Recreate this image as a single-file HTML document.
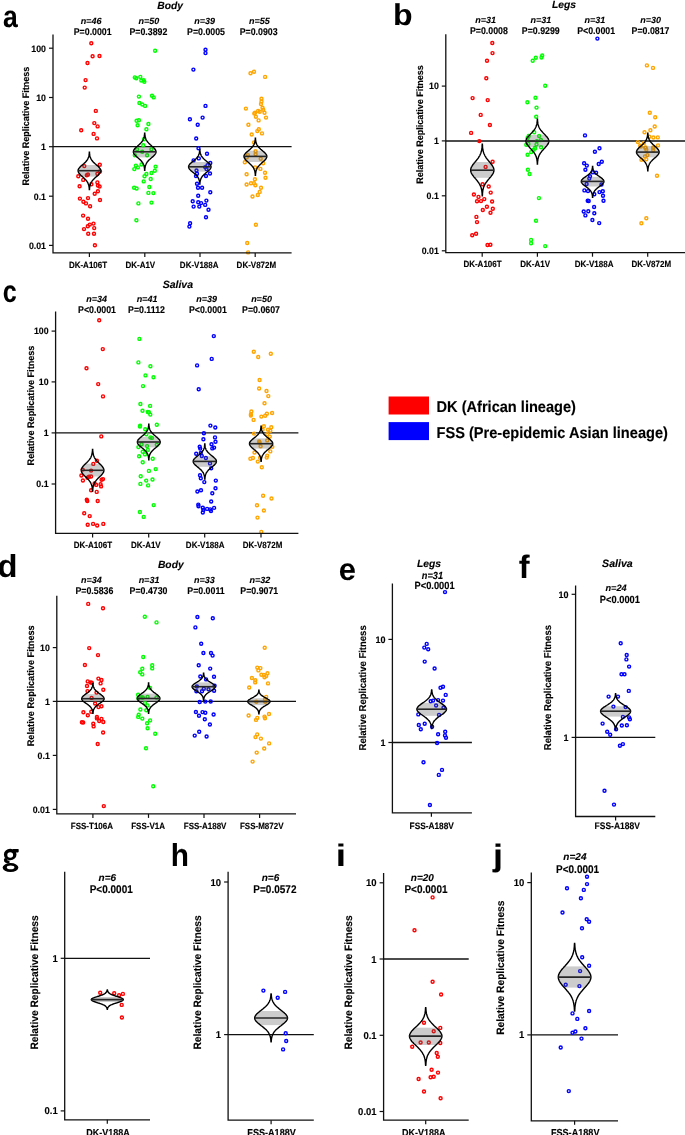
<!DOCTYPE html><html><head><meta charset="utf-8"><style>html,body{margin:0;padding:0;background:#fff;overflow:hidden}svg{display:block;will-change:transform}text{font-family:"Liberation Sans", sans-serif;stroke:#000;stroke-width:0.12px;text-rendering:geometricPrecision}</style></head><body>
<svg width="685" height="1135" viewBox="0 0 685 1135">
<rect width="685" height="1135" fill="#fff"/>
<line x1="53" y1="146.7" x2="291.6" y2="146.7" stroke="#111" stroke-width="1.3"/>
<line x1="445.8" y1="141.0" x2="686" y2="141.0" stroke="#111" stroke-width="1.3"/>
<line x1="55.6" y1="432.9" x2="298.4" y2="432.9" stroke="#111" stroke-width="1.3"/>
<line x1="56.8" y1="701.4" x2="296" y2="701.4" stroke="#111" stroke-width="1.3"/>
<line x1="392.4" y1="742.5" x2="471.9" y2="742.5" stroke="#111" stroke-width="1.3"/>
<line x1="575.6" y1="737.4" x2="655.3" y2="737.4" stroke="#111" stroke-width="1.3"/>
<line x1="64.7" y1="958.3" x2="150" y2="958.3" stroke="#111" stroke-width="1.3"/>
<line x1="228.1" y1="1034.6" x2="313.8" y2="1034.6" stroke="#111" stroke-width="1.3"/>
<line x1="383.6" y1="959" x2="468.7" y2="959" stroke="#111" stroke-width="1.3"/>
<line x1="531.3" y1="1034.9" x2="618" y2="1034.9" stroke="#111" stroke-width="1.3"/>
<g fill="none" stroke="#ff0000" stroke-width="1.4"><circle cx="91.3" cy="43.2" r="1.5"/><circle cx="92.6" cy="56.2" r="1.5"/><circle cx="99.5" cy="56" r="1.5"/><circle cx="87.5" cy="63" r="1.5"/><circle cx="85.6" cy="80.1" r="1.5"/><circle cx="84.7" cy="87.6" r="1.5"/><circle cx="95.8" cy="110.9" r="1.5"/><circle cx="94.3" cy="123.1" r="1.5"/><circle cx="97.6" cy="126.4" r="1.5"/><circle cx="81.2" cy="130.2" r="1.5"/><circle cx="93.6" cy="133.9" r="1.5"/><circle cx="97" cy="138.4" r="1.5"/><circle cx="84.3" cy="166.1" r="1.5"/><circle cx="99.8" cy="164.8" r="1.5"/><circle cx="100" cy="171.5" r="1.5"/><circle cx="78.3" cy="176.3" r="1.5"/><circle cx="86.8" cy="175.3" r="1.5"/><circle cx="88" cy="174.5" r="1.5"/><circle cx="97.4" cy="173.7" r="1.5"/><circle cx="83.2" cy="179.9" r="1.5"/><circle cx="79.6" cy="186.2" r="1.5"/><circle cx="91.4" cy="184.2" r="1.5"/><circle cx="97.4" cy="182.4" r="1.5"/><circle cx="97.9" cy="185.5" r="1.5"/><circle cx="99.6" cy="186.5" r="1.5"/><circle cx="97.9" cy="191.3" r="1.5"/><circle cx="94.7" cy="193.7" r="1.5"/><circle cx="79.9" cy="198.6" r="1.5"/><circle cx="88" cy="198.1" r="1.5"/><circle cx="100" cy="200" r="1.5"/><circle cx="83.4" cy="201.8" r="1.5"/><circle cx="86" cy="203.4" r="1.5"/><circle cx="90.1" cy="206.2" r="1.5"/><circle cx="83.1" cy="215.6" r="1.5"/><circle cx="88" cy="218.7" r="1.5"/><circle cx="93.5" cy="223.6" r="1.5"/><circle cx="89.8" cy="224.6" r="1.5"/><circle cx="87.8" cy="226.2" r="1.5"/><circle cx="84" cy="229.1" r="1.5"/><circle cx="94.2" cy="228.1" r="1.5"/><circle cx="88.2" cy="233.8" r="1.5"/><circle cx="94" cy="233.8" r="1.5"/><circle cx="94.9" cy="245.3" r="1.5"/></g>
<g fill="none" stroke="#00ff00" stroke-width="1.4"><circle cx="155.1" cy="50.7" r="1.5"/><circle cx="134.8" cy="77.4" r="1.5"/><circle cx="136.2" cy="78.2" r="1.5"/><circle cx="140.3" cy="76.9" r="1.5"/><circle cx="141.3" cy="80.5" r="1.5"/><circle cx="143.7" cy="80.2" r="1.5"/><circle cx="144.3" cy="81.8" r="1.5"/><circle cx="138.9" cy="96.6" r="1.5"/><circle cx="152" cy="95.8" r="1.5"/><circle cx="153.7" cy="97.4" r="1.5"/><circle cx="139.4" cy="103" r="1.5"/><circle cx="142.3" cy="104.5" r="1.5"/><circle cx="145.1" cy="105.9" r="1.5"/><circle cx="136.6" cy="120.7" r="1.5"/><circle cx="138.9" cy="120.2" r="1.5"/><circle cx="137.6" cy="125.3" r="1.5"/><circle cx="148.4" cy="124" r="1.5"/><circle cx="146.4" cy="129.3" r="1.5"/><circle cx="144" cy="139.3" r="1.5"/><circle cx="143.3" cy="145.2" r="1.5"/><circle cx="137.1" cy="149.2" r="1.5"/><circle cx="151.4" cy="149.2" r="1.5"/><circle cx="142.2" cy="151.8" r="1.5"/><circle cx="134.8" cy="155.3" r="1.5"/><circle cx="147.1" cy="155.3" r="1.5"/><circle cx="141.5" cy="164.5" r="1.5"/><circle cx="135.9" cy="165.6" r="1.5"/><circle cx="137.9" cy="167.4" r="1.5"/><circle cx="134.3" cy="169.1" r="1.5"/><circle cx="155.6" cy="166.6" r="1.5"/><circle cx="154.8" cy="170.7" r="1.5"/><circle cx="151.5" cy="173" r="1.5"/><circle cx="146.4" cy="174" r="1.5"/><circle cx="144.5" cy="176.3" r="1.5"/><circle cx="150.7" cy="179" r="1.5"/><circle cx="143.7" cy="181.4" r="1.5"/><circle cx="134.1" cy="187.8" r="1.5"/><circle cx="136.6" cy="188.5" r="1.5"/><circle cx="149.3" cy="187" r="1.5"/><circle cx="148.4" cy="192.9" r="1.5"/><circle cx="153.4" cy="193.1" r="1.5"/><circle cx="138.4" cy="203.4" r="1.5"/><circle cx="151.5" cy="202.6" r="1.5"/><circle cx="136.4" cy="220.2" r="1.5"/></g>
<g fill="none" stroke="#0000ff" stroke-width="1.4"><circle cx="205.5" cy="49.8" r="1.5"/><circle cx="205.5" cy="53.1" r="1.5"/><circle cx="193.4" cy="69.6" r="1.5"/><circle cx="205.5" cy="105.9" r="1.5"/><circle cx="189.9" cy="119.3" r="1.5"/><circle cx="202.6" cy="117.6" r="1.5"/><circle cx="197.7" cy="124.8" r="1.5"/><circle cx="196.2" cy="138.5" r="1.5"/><circle cx="198.5" cy="148.3" r="1.5"/><circle cx="207" cy="153.8" r="1.5"/><circle cx="198.8" cy="158.4" r="1.5"/><circle cx="193.6" cy="160.4" r="1.5"/><circle cx="210.3" cy="163" r="1.5"/><circle cx="207.5" cy="165.3" r="1.5"/><circle cx="205.2" cy="167.1" r="1.5"/><circle cx="206.5" cy="169.1" r="1.5"/><circle cx="196.5" cy="170.5" r="1.5"/><circle cx="197" cy="173.7" r="1.5"/><circle cx="210" cy="173.5" r="1.5"/><circle cx="196" cy="176.1" r="1.5"/><circle cx="206" cy="176" r="1.5"/><circle cx="197" cy="183.7" r="1.5"/><circle cx="198" cy="187.8" r="1.5"/><circle cx="202.1" cy="187.8" r="1.5"/><circle cx="210.3" cy="192.3" r="1.5"/><circle cx="198.2" cy="195.7" r="1.5"/><circle cx="192.7" cy="201.3" r="1.5"/><circle cx="198.2" cy="202.3" r="1.5"/><circle cx="201.1" cy="203.1" r="1.5"/><circle cx="206.4" cy="200.6" r="1.5"/><circle cx="193.6" cy="206.6" r="1.5"/><circle cx="199.3" cy="206.6" r="1.5"/><circle cx="205.2" cy="204.9" r="1.5"/><circle cx="208.5" cy="209.8" r="1.5"/><circle cx="206" cy="217.2" r="1.5"/><circle cx="190.1" cy="223.3" r="1.5"/><circle cx="189.4" cy="226.6" r="1.5"/></g>
<g fill="none" stroke="#ffa500" stroke-width="1.4"><circle cx="250.5" cy="73.3" r="1.5"/><circle cx="254" cy="71.8" r="1.5"/><circle cx="265.1" cy="76.9" r="1.5"/><circle cx="261.5" cy="98.7" r="1.5"/><circle cx="261.5" cy="101.5" r="1.5"/><circle cx="261" cy="104" r="1.5"/><circle cx="245.9" cy="108.6" r="1.5"/><circle cx="262.5" cy="107.8" r="1.5"/><circle cx="263.2" cy="109.8" r="1.5"/><circle cx="258.1" cy="110.9" r="1.5"/><circle cx="259.7" cy="111.7" r="1.5"/><circle cx="255.1" cy="112.7" r="1.5"/><circle cx="254.3" cy="113.5" r="1.5"/><circle cx="264.5" cy="112.7" r="1.5"/><circle cx="266" cy="117.6" r="1.5"/><circle cx="255.9" cy="116.8" r="1.5"/><circle cx="258.6" cy="120.4" r="1.5"/><circle cx="248.4" cy="124.8" r="1.5"/><circle cx="258.8" cy="129.3" r="1.5"/><circle cx="257.3" cy="131.1" r="1.5"/><circle cx="251.7" cy="134.5" r="1.5"/><circle cx="262" cy="133.4" r="1.5"/><circle cx="254" cy="142.5" r="1.5"/><circle cx="255.6" cy="151.2" r="1.5"/><circle cx="255.6" cy="154.3" r="1.5"/><circle cx="247.9" cy="155.1" r="1.5"/><circle cx="246.7" cy="157.4" r="1.5"/><circle cx="260.7" cy="158.7" r="1.5"/><circle cx="244.8" cy="162.3" r="1.5"/><circle cx="263.2" cy="163.3" r="1.5"/><circle cx="255.1" cy="167.4" r="1.5"/><circle cx="260.4" cy="168.9" r="1.5"/><circle cx="246.6" cy="174.2" r="1.5"/><circle cx="265" cy="172.7" r="1.5"/><circle cx="265.5" cy="177.8" r="1.5"/><circle cx="254.9" cy="179.3" r="1.5"/><circle cx="251" cy="183.2" r="1.5"/><circle cx="254" cy="183.2" r="1.5"/><circle cx="255.4" cy="185.3" r="1.5"/><circle cx="246.6" cy="184.5" r="1.5"/><circle cx="261" cy="187.8" r="1.5"/><circle cx="259.7" cy="191.9" r="1.5"/><circle cx="257.8" cy="195" r="1.5"/><circle cx="252.5" cy="196.5" r="1.5"/><circle cx="255.9" cy="224.8" r="1.5"/><circle cx="247.2" cy="243" r="1.5"/><circle cx="248.1" cy="252.4" r="1.5"/></g>
<g fill="none" stroke="#ff0000" stroke-width="1.4"><circle cx="492.3" cy="43" r="1.5"/><circle cx="492.5" cy="53.1" r="1.5"/><circle cx="487" cy="60.8" r="1.5"/><circle cx="486.3" cy="78.2" r="1.5"/><circle cx="472.6" cy="98.1" r="1.5"/><circle cx="487.7" cy="100.1" r="1.5"/><circle cx="480.7" cy="114.9" r="1.5"/><circle cx="489.9" cy="125" r="1.5"/><circle cx="471.1" cy="132.9" r="1.5"/><circle cx="479.3" cy="141.1" r="1.5"/><circle cx="492.6" cy="161.7" r="1.5"/><circle cx="485.6" cy="166.9" r="1.5"/><circle cx="482.6" cy="184.3" r="1.5"/><circle cx="488.7" cy="186.5" r="1.5"/><circle cx="473.9" cy="194.5" r="1.5"/><circle cx="490.7" cy="192.6" r="1.5"/><circle cx="478.5" cy="196.9" r="1.5"/><circle cx="477" cy="201.3" r="1.5"/><circle cx="481" cy="201.1" r="1.5"/><circle cx="484.3" cy="199.1" r="1.5"/><circle cx="492.1" cy="201.5" r="1.5"/><circle cx="486.9" cy="206.7" r="1.5"/><circle cx="482.8" cy="210" r="1.5"/><circle cx="492.8" cy="208.7" r="1.5"/><circle cx="490.5" cy="212.8" r="1.5"/><circle cx="476.4" cy="216.9" r="1.5"/><circle cx="477" cy="222.1" r="1.5"/><circle cx="472.2" cy="235.3" r="1.5"/><circle cx="476.1" cy="233.8" r="1.5"/><circle cx="487.5" cy="245" r="1.5"/><circle cx="490.4" cy="244.8" r="1.5"/></g>
<g fill="none" stroke="#00ff00" stroke-width="1.4"><circle cx="542.2" cy="55.5" r="1.5"/><circle cx="541.5" cy="57.5" r="1.5"/><circle cx="535.8" cy="57.8" r="1.5"/><circle cx="532.7" cy="60.8" r="1.5"/><circle cx="545.2" cy="85.8" r="1.5"/><circle cx="535.5" cy="97.7" r="1.5"/><circle cx="527.4" cy="102.3" r="1.5"/><circle cx="536.5" cy="107.6" r="1.5"/><circle cx="536.2" cy="116.8" r="1.5"/><circle cx="534.2" cy="132.3" r="1.5"/><circle cx="528.7" cy="136" r="1.5"/><circle cx="527.6" cy="138" r="1.5"/><circle cx="539.1" cy="136" r="1.5"/><circle cx="540.9" cy="140" r="1.5"/><circle cx="536.8" cy="141.1" r="1.5"/><circle cx="528.4" cy="143.9" r="1.5"/><circle cx="526.3" cy="144.7" r="1.5"/><circle cx="536.5" cy="144.4" r="1.5"/><circle cx="541.1" cy="147.2" r="1.5"/><circle cx="535" cy="147.9" r="1.5"/><circle cx="535" cy="148.4" r="1.5"/><circle cx="533.5" cy="149.7" r="1.5"/><circle cx="531.2" cy="152.1" r="1.5"/><circle cx="527.6" cy="154.8" r="1.5"/><circle cx="527.9" cy="169.8" r="1.5"/><circle cx="529.6" cy="174" r="1.5"/><circle cx="538.9" cy="198.1" r="1.5"/><circle cx="536" cy="220.7" r="1.5"/><circle cx="531.1" cy="239.9" r="1.5"/><circle cx="531.1" cy="243.2" r="1.5"/><circle cx="545.2" cy="246.1" r="1.5"/></g>
<g fill="none" stroke="#0000ff" stroke-width="1.4"><circle cx="597.4" cy="38.6" r="1.5"/><circle cx="585" cy="135.4" r="1.5"/><circle cx="599.5" cy="148.3" r="1.5"/><circle cx="594.9" cy="151.8" r="1.5"/><circle cx="584.1" cy="163.3" r="1.5"/><circle cx="586.8" cy="165.6" r="1.5"/><circle cx="601.8" cy="161.7" r="1.5"/><circle cx="598.7" cy="164" r="1.5"/><circle cx="585.4" cy="169.8" r="1.5"/><circle cx="592.9" cy="172.2" r="1.5"/><circle cx="596.1" cy="172.7" r="1.5"/><circle cx="590" cy="176.3" r="1.5"/><circle cx="589.3" cy="178.6" r="1.5"/><circle cx="586.6" cy="184" r="1.5"/><circle cx="601.5" cy="184.5" r="1.5"/><circle cx="584.4" cy="190.4" r="1.5"/><circle cx="588" cy="191.1" r="1.5"/><circle cx="594.3" cy="194.2" r="1.5"/><circle cx="599.5" cy="192.1" r="1.5"/><circle cx="602.8" cy="191.3" r="1.5"/><circle cx="603" cy="195.7" r="1.5"/><circle cx="587.7" cy="200.8" r="1.5"/><circle cx="588.7" cy="201" r="1.5"/><circle cx="603.5" cy="200.8" r="1.5"/><circle cx="594.1" cy="207" r="1.5"/><circle cx="583.7" cy="211.5" r="1.5"/><circle cx="588.3" cy="211.2" r="1.5"/><circle cx="594.3" cy="213.3" r="1.5"/><circle cx="585.4" cy="215.4" r="1.5"/><circle cx="592.4" cy="220" r="1.5"/><circle cx="599.2" cy="223.1" r="1.5"/></g>
<g fill="none" stroke="#ffa500" stroke-width="1.4"><circle cx="646.9" cy="65.4" r="1.5"/><circle cx="653" cy="67.9" r="1.5"/><circle cx="649.8" cy="112.7" r="1.5"/><circle cx="655.2" cy="117.3" r="1.5"/><circle cx="654.7" cy="126.5" r="1.5"/><circle cx="650.4" cy="130.3" r="1.5"/><circle cx="644.5" cy="132.3" r="1.5"/><circle cx="649.3" cy="136.7" r="1.5"/><circle cx="653.4" cy="137.5" r="1.5"/><circle cx="657.8" cy="137.4" r="1.5"/><circle cx="637.9" cy="142.1" r="1.5"/><circle cx="644" cy="142.9" r="1.5"/><circle cx="658" cy="145.4" r="1.5"/><circle cx="640.2" cy="145.6" r="1.5"/><circle cx="645.5" cy="147.5" r="1.5"/><circle cx="653.2" cy="147.5" r="1.5"/><circle cx="640.9" cy="146.6" r="1.5"/><circle cx="645.3" cy="147.7" r="1.5"/><circle cx="646.3" cy="149.7" r="1.5"/><circle cx="653.2" cy="148.2" r="1.5"/><circle cx="653.2" cy="150.2" r="1.5"/><circle cx="647.4" cy="155.1" r="1.5"/><circle cx="645" cy="156.4" r="1.5"/><circle cx="646.3" cy="159.2" r="1.5"/><circle cx="641.4" cy="159.7" r="1.5"/><circle cx="657" cy="175.8" r="1.5"/><circle cx="646.3" cy="218.2" r="1.5"/><circle cx="641.4" cy="223.3" r="1.5"/></g>
<g fill="none" stroke="#ff0000" stroke-width="1.4"><circle cx="99.2" cy="320.2" r="1.5"/><circle cx="102.8" cy="349.1" r="1.5"/><circle cx="86.5" cy="368.3" r="1.5"/><circle cx="98.2" cy="384.1" r="1.5"/><circle cx="103" cy="396.4" r="1.5"/><circle cx="101.3" cy="436.4" r="1.5"/><circle cx="96.9" cy="460.7" r="1.5"/><circle cx="93.3" cy="463.9" r="1.5"/><circle cx="82.7" cy="469.6" r="1.5"/><circle cx="91.1" cy="470.6" r="1.5"/><circle cx="81.4" cy="475.5" r="1.5"/><circle cx="87.5" cy="477.7" r="1.5"/><circle cx="89" cy="476.7" r="1.5"/><circle cx="91.1" cy="476.5" r="1.5"/><circle cx="82.9" cy="480.5" r="1.5"/><circle cx="101.6" cy="479.8" r="1.5"/><circle cx="103" cy="479.1" r="1.5"/><circle cx="94.6" cy="483.4" r="1.5"/><circle cx="96.2" cy="484.9" r="1.5"/><circle cx="100.6" cy="484.2" r="1.5"/><circle cx="101.1" cy="486.4" r="1.5"/><circle cx="91.1" cy="490.2" r="1.5"/><circle cx="96.7" cy="491.9" r="1.5"/><circle cx="86.8" cy="499.7" r="1.5"/><circle cx="87.3" cy="501" r="1.5"/><circle cx="97.7" cy="501" r="1.5"/><circle cx="84.2" cy="513.2" r="1.5"/><circle cx="89.7" cy="516.1" r="1.5"/><circle cx="87.7" cy="524.8" r="1.5"/><circle cx="93.1" cy="523.9" r="1.5"/><circle cx="97.2" cy="525.5" r="1.5"/><circle cx="103.3" cy="523.9" r="1.5"/></g>
<g fill="none" stroke="#00ff00" stroke-width="1.4"><circle cx="139.4" cy="338.9" r="1.5"/><circle cx="138.4" cy="362.4" r="1.5"/><circle cx="150.4" cy="366.2" r="1.5"/><circle cx="145.5" cy="375.4" r="1.5"/><circle cx="153.5" cy="377.3" r="1.5"/><circle cx="143" cy="386.1" r="1.5"/><circle cx="140.4" cy="404" r="1.5"/><circle cx="150.1" cy="405.9" r="1.5"/><circle cx="142.5" cy="410.7" r="1.5"/><circle cx="147.8" cy="412" r="1.5"/><circle cx="148.9" cy="412.2" r="1.5"/><circle cx="150.3" cy="414.6" r="1.5"/><circle cx="140.1" cy="425.8" r="1.5"/><circle cx="156.8" cy="424.7" r="1.5"/><circle cx="139.9" cy="426.6" r="1.5"/><circle cx="145.2" cy="429.2" r="1.5"/><circle cx="146.3" cy="434.3" r="1.5"/><circle cx="150.4" cy="437.4" r="1.5"/><circle cx="151.9" cy="437.9" r="1.5"/><circle cx="141.6" cy="444.2" r="1.5"/><circle cx="147.1" cy="446.1" r="1.5"/><circle cx="138.4" cy="447.1" r="1.5"/><circle cx="156.8" cy="444.7" r="1.5"/><circle cx="147.8" cy="449.9" r="1.5"/><circle cx="142.7" cy="451.7" r="1.5"/><circle cx="145" cy="454.4" r="1.5"/><circle cx="139.1" cy="456.3" r="1.5"/><circle cx="152.7" cy="458.8" r="1.5"/><circle cx="142.7" cy="462.2" r="1.5"/><circle cx="148.9" cy="470.9" r="1.5"/><circle cx="155.7" cy="469.1" r="1.5"/><circle cx="140.7" cy="476.2" r="1.5"/><circle cx="146.2" cy="480.6" r="1.5"/><circle cx="152.5" cy="479.5" r="1.5"/><circle cx="140.4" cy="483.9" r="1.5"/><circle cx="148.1" cy="485.4" r="1.5"/><circle cx="153.7" cy="505.1" r="1.5"/><circle cx="139.9" cy="512" r="1.5"/><circle cx="143.7" cy="516.9" r="1.5"/></g>
<g fill="none" stroke="#0000ff" stroke-width="1.4"><circle cx="213.8" cy="336.1" r="1.5"/><circle cx="211.7" cy="358.9" r="1.5"/><circle cx="197.1" cy="365.4" r="1.5"/><circle cx="198.7" cy="389.2" r="1.5"/><circle cx="210.4" cy="425.6" r="1.5"/><circle cx="215.3" cy="427.5" r="1.5"/><circle cx="203.9" cy="433.3" r="1.5"/><circle cx="203.4" cy="439.2" r="1.5"/><circle cx="215" cy="437.4" r="1.5"/><circle cx="215.5" cy="441.7" r="1.5"/><circle cx="211.5" cy="444.2" r="1.5"/><circle cx="199.7" cy="446.8" r="1.5"/><circle cx="200.2" cy="448.6" r="1.5"/><circle cx="212.3" cy="448.4" r="1.5"/><circle cx="214.1" cy="447.6" r="1.5"/><circle cx="196.2" cy="453.7" r="1.5"/><circle cx="200.8" cy="453" r="1.5"/><circle cx="201.8" cy="456" r="1.5"/><circle cx="205.9" cy="458" r="1.5"/><circle cx="210" cy="463.4" r="1.5"/><circle cx="211.2" cy="468.3" r="1.5"/><circle cx="200" cy="475.2" r="1.5"/><circle cx="200.8" cy="478.3" r="1.5"/><circle cx="204.3" cy="482.1" r="1.5"/><circle cx="215.8" cy="480.6" r="1.5"/><circle cx="197.4" cy="491.5" r="1.5"/><circle cx="201" cy="490.3" r="1.5"/><circle cx="215.5" cy="488.3" r="1.5"/><circle cx="212.3" cy="493.3" r="1.5"/><circle cx="211.2" cy="501.5" r="1.5"/><circle cx="198.3" cy="504.6" r="1.5"/><circle cx="198.5" cy="506.2" r="1.5"/><circle cx="202.8" cy="507.7" r="1.5"/><circle cx="203.4" cy="510" r="1.5"/><circle cx="202.8" cy="512.5" r="1.5"/><circle cx="207.1" cy="508.9" r="1.5"/><circle cx="210.2" cy="509.4" r="1.5"/><circle cx="211" cy="511" r="1.5"/><circle cx="214.1" cy="507.9" r="1.5"/></g>
<g fill="none" stroke="#ffa500" stroke-width="1.4"><circle cx="253.8" cy="351.7" r="1.5"/><circle cx="258.2" cy="357" r="1.5"/><circle cx="270.8" cy="353.7" r="1.5"/><circle cx="259.6" cy="380" r="1.5"/><circle cx="259.1" cy="388.5" r="1.5"/><circle cx="266.5" cy="391" r="1.5"/><circle cx="268.3" cy="396.1" r="1.5"/><circle cx="264.5" cy="403.2" r="1.5"/><circle cx="251.4" cy="411.5" r="1.5"/><circle cx="250.9" cy="414.3" r="1.5"/><circle cx="250.9" cy="415.5" r="1.5"/><circle cx="253.6" cy="419.9" r="1.5"/><circle cx="261.4" cy="416.6" r="1.5"/><circle cx="265.2" cy="415.8" r="1.5"/><circle cx="266.9" cy="413.7" r="1.5"/><circle cx="272.1" cy="413" r="1.5"/><circle cx="263.9" cy="426.3" r="1.5"/><circle cx="271.3" cy="427.2" r="1.5"/><circle cx="268" cy="429.7" r="1.5"/><circle cx="270.3" cy="430.7" r="1.5"/><circle cx="262.6" cy="429.7" r="1.5"/><circle cx="254" cy="433.6" r="1.5"/><circle cx="267.2" cy="434.3" r="1.5"/><circle cx="269.8" cy="436.6" r="1.5"/><circle cx="259.1" cy="441.5" r="1.5"/><circle cx="259.6" cy="442.5" r="1.5"/><circle cx="267.2" cy="440.4" r="1.5"/><circle cx="260.6" cy="446.3" r="1.5"/><circle cx="272.3" cy="446.8" r="1.5"/><circle cx="254.5" cy="452.5" r="1.5"/><circle cx="270.3" cy="451.4" r="1.5"/><circle cx="267.2" cy="455.6" r="1.5"/><circle cx="266.7" cy="457.6" r="1.5"/><circle cx="252.9" cy="458" r="1.5"/><circle cx="250.4" cy="458.8" r="1.5"/><circle cx="260.1" cy="457.8" r="1.5"/><circle cx="257.8" cy="461.6" r="1.5"/><circle cx="261.8" cy="467.3" r="1.5"/><circle cx="263.1" cy="495.8" r="1.5"/><circle cx="271.5" cy="498.5" r="1.5"/><circle cx="257" cy="505.3" r="1.5"/><circle cx="263.9" cy="510.5" r="1.5"/><circle cx="257.5" cy="517.6" r="1.5"/><circle cx="261.3" cy="531.9" r="1.5"/></g>
<g fill="none" stroke="#ff0000" stroke-width="1.4"><circle cx="88.2" cy="603.9" r="1.5"/><circle cx="103" cy="608.3" r="1.5"/><circle cx="89.2" cy="648.1" r="1.5"/><circle cx="98" cy="655.1" r="1.5"/><circle cx="84.9" cy="665" r="1.5"/><circle cx="98.4" cy="678.6" r="1.5"/><circle cx="101.5" cy="680" r="1.5"/><circle cx="87.7" cy="681.4" r="1.5"/><circle cx="90.5" cy="682.4" r="1.5"/><circle cx="91.8" cy="682.7" r="1.5"/><circle cx="100.6" cy="683.4" r="1.5"/><circle cx="87" cy="686" r="1.5"/><circle cx="87.5" cy="691.1" r="1.5"/><circle cx="103.3" cy="689.7" r="1.5"/><circle cx="96.5" cy="692.6" r="1.5"/><circle cx="91.6" cy="697.9" r="1.5"/><circle cx="95.1" cy="703.5" r="1.5"/><circle cx="98.5" cy="707.1" r="1.5"/><circle cx="101.5" cy="706.2" r="1.5"/><circle cx="83.4" cy="712.3" r="1.5"/><circle cx="91.3" cy="711.8" r="1.5"/><circle cx="87.8" cy="715.3" r="1.5"/><circle cx="96.9" cy="716.9" r="1.5"/><circle cx="96.9" cy="718.4" r="1.5"/><circle cx="101.5" cy="718.9" r="1.5"/><circle cx="99.2" cy="721" r="1.5"/><circle cx="103.3" cy="722" r="1.5"/><circle cx="81.9" cy="722.3" r="1.5"/><circle cx="83.2" cy="722.5" r="1.5"/><circle cx="93.3" cy="723.7" r="1.5"/><circle cx="93.6" cy="726.4" r="1.5"/><circle cx="103.1" cy="732.5" r="1.5"/><circle cx="97.7" cy="744" r="1.5"/><circle cx="103.8" cy="806.1" r="1.5"/></g>
<g fill="none" stroke="#00ff00" stroke-width="1.4"><circle cx="144.8" cy="616.8" r="1.5"/><circle cx="156.5" cy="622.4" r="1.5"/><circle cx="143.2" cy="657" r="1.5"/><circle cx="152.2" cy="665.3" r="1.5"/><circle cx="152.2" cy="668.4" r="1.5"/><circle cx="142.3" cy="668.8" r="1.5"/><circle cx="140.2" cy="672.2" r="1.5"/><circle cx="142.3" cy="674.4" r="1.5"/><circle cx="150.1" cy="688" r="1.5"/><circle cx="138.1" cy="694.7" r="1.5"/><circle cx="138.4" cy="698.2" r="1.5"/><circle cx="141.4" cy="697.2" r="1.5"/><circle cx="142.8" cy="697.5" r="1.5"/><circle cx="147.6" cy="696.9" r="1.5"/><circle cx="156.5" cy="697.5" r="1.5"/><circle cx="145" cy="703" r="1.5"/><circle cx="147.6" cy="705.4" r="1.5"/><circle cx="140.4" cy="709.5" r="1.5"/><circle cx="146.3" cy="710.3" r="1.5"/><circle cx="138.7" cy="714.8" r="1.5"/><circle cx="138.2" cy="716.9" r="1.5"/><circle cx="142.3" cy="718.6" r="1.5"/><circle cx="150.1" cy="720.4" r="1.5"/><circle cx="147.1" cy="723.3" r="1.5"/><circle cx="147.6" cy="728.3" r="1.5"/><circle cx="155.2" cy="733.7" r="1.5"/><circle cx="146" cy="748.2" r="1.5"/><circle cx="153.2" cy="786.2" r="1.5"/></g>
<g fill="none" stroke="#0000ff" stroke-width="1.4"><circle cx="197.4" cy="617" r="1.5"/><circle cx="212.8" cy="618.3" r="1.5"/><circle cx="195.4" cy="627.4" r="1.5"/><circle cx="201.2" cy="643.8" r="1.5"/><circle cx="203.4" cy="653" r="1.5"/><circle cx="211" cy="653" r="1.5"/><circle cx="212.6" cy="655.6" r="1.5"/><circle cx="198.7" cy="665.2" r="1.5"/><circle cx="210.2" cy="668.6" r="1.5"/><circle cx="200.3" cy="676.5" r="1.5"/><circle cx="214" cy="676.8" r="1.5"/><circle cx="206.1" cy="679.4" r="1.5"/><circle cx="196.9" cy="686.5" r="1.5"/><circle cx="214.6" cy="685.8" r="1.5"/><circle cx="203.8" cy="688.8" r="1.5"/><circle cx="208.5" cy="689.3" r="1.5"/><circle cx="196.4" cy="691.3" r="1.5"/><circle cx="202" cy="691.3" r="1.5"/><circle cx="214.1" cy="690.8" r="1.5"/><circle cx="199.7" cy="702" r="1.5"/><circle cx="205.3" cy="701.6" r="1.5"/><circle cx="210.7" cy="701.5" r="1.5"/><circle cx="195.9" cy="712" r="1.5"/><circle cx="202.5" cy="712.1" r="1.5"/><circle cx="205.3" cy="712.8" r="1.5"/><circle cx="199" cy="715.8" r="1.5"/><circle cx="213.6" cy="714.5" r="1.5"/><circle cx="204.8" cy="719.2" r="1.5"/><circle cx="209.9" cy="724.5" r="1.5"/><circle cx="199.2" cy="731.7" r="1.5"/><circle cx="194.7" cy="735.6" r="1.5"/><circle cx="206.6" cy="736.5" r="1.5"/></g>
<g fill="none" stroke="#ffa500" stroke-width="1.4"><circle cx="264.7" cy="647.8" r="1.5"/><circle cx="257.3" cy="667.6" r="1.5"/><circle cx="260.4" cy="668.1" r="1.5"/><circle cx="258.4" cy="670.4" r="1.5"/><circle cx="261.4" cy="674.7" r="1.5"/><circle cx="263.9" cy="674.9" r="1.5"/><circle cx="267.5" cy="673.2" r="1.5"/><circle cx="266.2" cy="676" r="1.5"/><circle cx="264.5" cy="677.3" r="1.5"/><circle cx="251.9" cy="678" r="1.5"/><circle cx="255.3" cy="680.3" r="1.5"/><circle cx="255.2" cy="682.4" r="1.5"/><circle cx="268" cy="683.4" r="1.5"/><circle cx="249.2" cy="687.5" r="1.5"/><circle cx="266.2" cy="696.9" r="1.5"/><circle cx="265" cy="699.3" r="1.5"/><circle cx="256.3" cy="701.8" r="1.5"/><circle cx="265.2" cy="701.8" r="1.5"/><circle cx="248.6" cy="715.5" r="1.5"/><circle cx="257.3" cy="717.9" r="1.5"/><circle cx="256" cy="719.9" r="1.5"/><circle cx="264.5" cy="716.6" r="1.5"/><circle cx="265" cy="718.2" r="1.5"/><circle cx="269" cy="714" r="1.5"/><circle cx="257.2" cy="734.4" r="1.5"/><circle cx="255.5" cy="737.1" r="1.5"/><circle cx="260.9" cy="738.6" r="1.5"/><circle cx="269.1" cy="743.4" r="1.5"/><circle cx="264.2" cy="748.5" r="1.5"/><circle cx="256.7" cy="752.6" r="1.5"/><circle cx="252.6" cy="761.6" r="1.5"/></g>
<g fill="none" stroke="#0000ff" stroke-width="1.4"><circle cx="445" cy="592.1" r="1.5"/><circle cx="426.7" cy="643.9" r="1.5"/><circle cx="424.3" cy="647.6" r="1.5"/><circle cx="428.2" cy="649.3" r="1.5"/><circle cx="424.7" cy="661.6" r="1.5"/><circle cx="434.6" cy="668.5" r="1.5"/><circle cx="440.5" cy="687.8" r="1.5"/><circle cx="443" cy="686.8" r="1.5"/><circle cx="445.7" cy="694.9" r="1.5"/><circle cx="430.7" cy="701.3" r="1.5"/><circle cx="433.1" cy="700.6" r="1.5"/><circle cx="438.1" cy="700.1" r="1.5"/><circle cx="443" cy="700.6" r="1.5"/><circle cx="436.1" cy="705.5" r="1.5"/><circle cx="443.5" cy="707.8" r="1.5"/><circle cx="418.3" cy="714.4" r="1.5"/><circle cx="439" cy="714.9" r="1.5"/><circle cx="418.8" cy="725" r="1.5"/><circle cx="424.7" cy="723.8" r="1.5"/><circle cx="420.8" cy="729.2" r="1.5"/><circle cx="432.1" cy="726.8" r="1.5"/><circle cx="445.2" cy="731.7" r="1.5"/><circle cx="438.1" cy="734.2" r="1.5"/><circle cx="445" cy="735.4" r="1.5"/><circle cx="446" cy="737.8" r="1.5"/><circle cx="437.1" cy="743" r="1.5"/><circle cx="423.5" cy="762.3" r="1.5"/><circle cx="442" cy="769.9" r="1.5"/><circle cx="438.8" cy="774.9" r="1.5"/><circle cx="429.9" cy="805" r="1.5"/></g>
<g fill="none" stroke="#0000ff" stroke-width="1.4"><circle cx="620.7" cy="643.2" r="1.5"/><circle cx="626.7" cy="655" r="1.5"/><circle cx="626.4" cy="659.4" r="1.5"/><circle cx="629.1" cy="666.6" r="1.5"/><circle cx="621.5" cy="674.2" r="1.5"/><circle cx="624.5" cy="674.2" r="1.5"/><circle cx="628.8" cy="690.9" r="1.5"/><circle cx="608.6" cy="696.6" r="1.5"/><circle cx="618" cy="696.6" r="1.5"/><circle cx="613.4" cy="706.6" r="1.5"/><circle cx="625.6" cy="707.1" r="1.5"/><circle cx="622.9" cy="716.9" r="1.5"/><circle cx="629.1" cy="717.4" r="1.5"/><circle cx="629.9" cy="719.3" r="1.5"/><circle cx="602.6" cy="723.6" r="1.5"/><circle cx="621.8" cy="725.5" r="1.5"/><circle cx="626.9" cy="725.2" r="1.5"/><circle cx="616.1" cy="729.3" r="1.5"/><circle cx="607.2" cy="731.7" r="1.5"/><circle cx="610.2" cy="734.7" r="1.5"/><circle cx="619.9" cy="745.7" r="1.5"/><circle cx="622.9" cy="744.1" r="1.5"/><circle cx="604.5" cy="790.8" r="1.5"/><circle cx="614" cy="804.6" r="1.5"/></g>
<g fill="none" stroke="#ff0000" stroke-width="1.4"><circle cx="100.2" cy="992.7" r="1.5"/><circle cx="114.2" cy="993.2" r="1.5"/><circle cx="119.1" cy="995.2" r="1.5"/><circle cx="122.9" cy="993.9" r="1.5"/><circle cx="121.7" cy="1004.9" r="1.5"/><circle cx="121.9" cy="1017.5" r="1.5"/></g>
<g fill="none" stroke="#0000ff" stroke-width="1.4"><circle cx="263.4" cy="990.6" r="1.5"/><circle cx="285.1" cy="991.9" r="1.5"/><circle cx="277.7" cy="997.8" r="1.5"/><circle cx="285.7" cy="1033.3" r="1.5"/><circle cx="286.2" cy="1041" r="1.5"/><circle cx="283.1" cy="1049.4" r="1.5"/></g>
<g fill="none" stroke="#ff0000" stroke-width="1.4"><circle cx="432.6" cy="897.4" r="1.5"/><circle cx="414.5" cy="930.3" r="1.5"/><circle cx="432.6" cy="981.7" r="1.5"/><circle cx="441.1" cy="994.5" r="1.5"/><circle cx="424" cy="1022.8" r="1.5"/><circle cx="440.3" cy="1027.9" r="1.5"/><circle cx="433.7" cy="1031.3" r="1.5"/><circle cx="420.6" cy="1042.5" r="1.5"/><circle cx="428.8" cy="1042.5" r="1.5"/><circle cx="440.3" cy="1043" r="1.5"/><circle cx="412.2" cy="1046.8" r="1.5"/><circle cx="436.7" cy="1053" r="1.5"/><circle cx="437.8" cy="1056.8" r="1.5"/><circle cx="431.6" cy="1069.8" r="1.5"/><circle cx="438" cy="1072.6" r="1.5"/><circle cx="418.6" cy="1079" r="1.5"/><circle cx="430.6" cy="1077.2" r="1.5"/><circle cx="433.7" cy="1076.7" r="1.5"/><circle cx="424" cy="1091.5" r="1.5"/><circle cx="440.6" cy="1098.2" r="1.5"/></g>
<g fill="none" stroke="#0000ff" stroke-width="1.4"><circle cx="587" cy="876.8" r="1.5"/><circle cx="587" cy="884.1" r="1.5"/><circle cx="567" cy="888.3" r="1.5"/><circle cx="583.8" cy="889.9" r="1.5"/><circle cx="580.9" cy="898.3" r="1.5"/><circle cx="562.5" cy="912.5" r="1.5"/><circle cx="586.7" cy="919.3" r="1.5"/><circle cx="589.1" cy="921.7" r="1.5"/><circle cx="582" cy="928.3" r="1.5"/><circle cx="582.2" cy="957.2" r="1.5"/><circle cx="589.1" cy="965.8" r="1.5"/><circle cx="580.1" cy="971.1" r="1.5"/><circle cx="565.7" cy="984.7" r="1.5"/><circle cx="579.4" cy="986.1" r="1.5"/><circle cx="572.5" cy="1013.4" r="1.5"/><circle cx="589.1" cy="1011" r="1.5"/><circle cx="577.3" cy="1018.9" r="1.5"/><circle cx="585.4" cy="1028.3" r="1.5"/><circle cx="572.5" cy="1032.8" r="1.5"/><circle cx="575.4" cy="1031.5" r="1.5"/><circle cx="581.5" cy="1038.6" r="1.5"/><circle cx="560.7" cy="1047.5" r="1.5"/><circle cx="568.8" cy="1091.1" r="1.5"/></g>
<clipPath id="vca1"><path d="M89.5,152.3 L89.5,152.8 L89.5,153.2 L89.6,153.7 L89.6,154.1 L89.7,154.6 L89.8,155.1 L89.8,155.5 L89.9,156.0 L90.0,156.4 L90.2,156.9 L90.3,157.4 L90.5,157.8 L90.7,158.3 L90.9,158.7 L91.1,159.2 L91.4,159.7 L91.7,160.1 L92.0,160.6 L92.4,161.0 L92.8,161.5 L93.2,162.0 L93.7,162.4 L94.1,162.9 L94.6,163.3 L95.1,163.8 L95.7,164.3 L96.2,164.7 L96.7,165.2 L97.3,165.6 L97.8,166.1 L98.3,166.6 L98.7,167.0 L99.2,167.5 L99.5,167.9 L99.9,168.4 L100.2,168.9 L100.4,169.3 L100.6,169.8 L100.7,170.2 L100.7,170.7 L100.7,171.2 L100.6,171.6 L100.4,172.1 L100.2,172.6 L99.9,173.1 L99.5,173.5 L99.2,174.0 L98.7,174.5 L98.3,175.0 L97.8,175.4 L97.3,175.9 L96.7,176.4 L96.2,176.8 L95.7,177.3 L95.1,177.8 L94.6,178.3 L94.1,178.7 L93.7,179.2 L93.2,179.7 L92.8,180.1 L92.4,180.6 L92.0,181.1 L91.7,181.6 L91.4,182.0 L91.1,182.5 L90.9,183.0 L90.7,183.5 L90.5,183.9 L90.3,184.4 L90.2,184.9 L90.0,185.3 L89.9,185.8 L89.8,186.3 L89.8,186.8 L89.7,187.2 L89.6,187.7 L89.6,188.2 L89.5,188.7 L89.5,189.1 L89.5,189.6 L89.3,189.6 L89.3,189.1 L89.3,188.7 L89.2,188.2 L89.2,187.7 L89.1,187.2 L89.0,186.8 L89.0,186.3 L88.9,185.8 L88.8,185.3 L88.6,184.9 L88.5,184.4 L88.3,183.9 L88.1,183.5 L87.9,183.0 L87.7,182.5 L87.4,182.0 L87.1,181.6 L86.8,181.1 L86.4,180.6 L86.0,180.1 L85.6,179.7 L85.1,179.2 L84.7,178.7 L84.2,178.3 L83.7,177.8 L83.1,177.3 L82.6,176.8 L82.1,176.4 L81.5,175.9 L81.0,175.4 L80.5,175.0 L80.1,174.5 L79.6,174.0 L79.3,173.5 L78.9,173.1 L78.6,172.6 L78.4,172.1 L78.2,171.6 L78.1,171.2 L78.1,170.7 L78.1,170.2 L78.2,169.8 L78.4,169.3 L78.6,168.9 L78.9,168.4 L79.3,167.9 L79.6,167.5 L80.1,167.0 L80.5,166.6 L81.0,166.1 L81.5,165.6 L82.1,165.2 L82.6,164.7 L83.1,164.3 L83.7,163.8 L84.2,163.3 L84.7,162.9 L85.1,162.4 L85.6,162.0 L86.0,161.5 L86.4,161.0 L86.8,160.6 L87.1,160.1 L87.4,159.7 L87.7,159.2 L87.9,158.7 L88.1,158.3 L88.3,157.8 L88.5,157.4 L88.6,156.9 L88.8,156.4 L88.9,156.0 L89.0,155.5 L89.0,155.1 L89.1,154.6 L89.2,154.1 L89.2,153.7 L89.3,153.2 L89.3,152.8 L89.3,152.3 Z"/></clipPath><rect x="77.10" y="165.00" width="24.60" height="11.60" fill="#555555" fill-opacity="0.3" clip-path="url(#vca1)"/>
<clipPath id="vca2"><path d="M144.8,133.1 L144.8,133.6 L144.8,134.0 L144.9,134.5 L144.9,135.0 L145.0,135.4 L145.1,135.9 L145.1,136.4 L145.2,136.8 L145.3,137.3 L145.5,137.8 L145.6,138.2 L145.8,138.7 L146.0,139.2 L146.2,139.6 L146.4,140.1 L146.7,140.6 L147.0,141.0 L147.3,141.5 L147.7,142.0 L148.1,142.4 L148.5,142.9 L149.0,143.4 L149.4,143.9 L149.9,144.3 L150.4,144.8 L151.0,145.3 L151.5,145.7 L152.0,146.2 L152.6,146.7 L153.1,147.1 L153.6,147.6 L154.0,148.1 L154.5,148.5 L154.8,149.0 L155.2,149.5 L155.5,149.9 L155.7,150.4 L155.9,150.9 L156.0,151.3 L156.0,151.8 L156.0,152.3 L155.9,152.7 L155.7,153.2 L155.5,153.6 L155.2,154.1 L154.8,154.6 L154.5,155.0 L154.0,155.5 L153.6,155.9 L153.1,156.4 L152.6,156.9 L152.0,157.3 L151.5,157.8 L151.0,158.2 L150.4,158.7 L149.9,159.2 L149.4,159.6 L149.0,160.1 L148.5,160.5 L148.1,161.0 L147.7,161.5 L147.3,161.9 L147.0,162.4 L146.7,162.8 L146.4,163.3 L146.2,163.8 L146.0,164.2 L145.8,164.7 L145.6,165.1 L145.5,165.6 L145.3,166.1 L145.2,166.5 L145.1,167.0 L145.1,167.4 L145.0,167.9 L144.9,168.4 L144.9,168.8 L144.8,169.3 L144.8,169.7 L144.8,170.2 L144.6,170.2 L144.6,169.7 L144.6,169.3 L144.5,168.8 L144.5,168.4 L144.4,167.9 L144.3,167.4 L144.3,167.0 L144.2,166.5 L144.1,166.1 L143.9,165.6 L143.8,165.1 L143.6,164.7 L143.4,164.2 L143.2,163.8 L143.0,163.3 L142.7,162.8 L142.4,162.4 L142.1,161.9 L141.7,161.5 L141.3,161.0 L140.9,160.5 L140.4,160.1 L140.0,159.6 L139.5,159.2 L139.0,158.7 L138.4,158.2 L137.9,157.8 L137.4,157.3 L136.8,156.9 L136.3,156.4 L135.8,155.9 L135.4,155.5 L134.9,155.0 L134.6,154.6 L134.2,154.1 L133.9,153.6 L133.7,153.2 L133.5,152.7 L133.4,152.3 L133.4,151.8 L133.4,151.3 L133.5,150.9 L133.7,150.4 L133.9,149.9 L134.2,149.5 L134.6,149.0 L134.9,148.5 L135.4,148.1 L135.8,147.6 L136.3,147.1 L136.8,146.7 L137.4,146.2 L137.9,145.7 L138.4,145.3 L139.0,144.8 L139.5,144.3 L140.0,143.9 L140.4,143.4 L140.9,142.9 L141.3,142.4 L141.7,142.0 L142.1,141.5 L142.4,141.0 L142.7,140.6 L143.0,140.1 L143.2,139.6 L143.4,139.2 L143.6,138.7 L143.8,138.2 L143.9,137.8 L144.1,137.3 L144.2,136.8 L144.3,136.4 L144.3,135.9 L144.4,135.4 L144.5,135.0 L144.5,134.5 L144.6,134.0 L144.6,133.6 L144.6,133.1 Z"/></clipPath><rect x="132.40" y="146.80" width="24.60" height="10.60" fill="#555555" fill-opacity="0.3" clip-path="url(#vca2)"/>
<clipPath id="vca3"><path d="M199.9,149.7 L199.9,150.1 L199.9,150.6 L200.0,151.0 L200.0,151.4 L200.1,151.8 L200.1,152.3 L200.2,152.7 L200.3,153.1 L200.4,153.5 L200.6,154.0 L200.7,154.4 L200.9,154.8 L201.1,155.3 L201.3,155.7 L201.5,156.1 L201.8,156.5 L202.1,157.0 L202.4,157.4 L202.8,157.8 L203.2,158.2 L203.6,158.7 L204.0,159.1 L204.5,159.5 L205.0,160.0 L205.5,160.4 L206.0,160.8 L206.5,161.2 L207.1,161.7 L207.6,162.1 L208.1,162.5 L208.6,163.0 L209.0,163.4 L209.5,163.8 L209.9,164.2 L210.2,164.7 L210.5,165.1 L210.7,165.5 L210.9,165.9 L211.0,166.4 L211.0,166.8 L211.0,167.2 L210.9,167.7 L210.7,168.1 L210.5,168.5 L210.2,169.0 L209.9,169.4 L209.5,169.8 L209.0,170.2 L208.6,170.7 L208.1,171.1 L207.6,171.5 L207.1,172.0 L206.5,172.4 L206.0,172.8 L205.5,173.2 L205.0,173.7 L204.5,174.1 L204.0,174.5 L203.6,175.0 L203.2,175.4 L202.8,175.8 L202.4,176.3 L202.1,176.7 L201.8,177.1 L201.5,177.6 L201.3,178.0 L201.1,178.4 L200.9,178.8 L200.7,179.3 L200.6,179.7 L200.4,180.1 L200.3,180.6 L200.2,181.0 L200.1,181.4 L200.1,181.8 L200.0,182.3 L200.0,182.7 L199.9,183.1 L199.9,183.6 L199.9,184.0 L199.7,184.0 L199.7,183.6 L199.7,183.1 L199.6,182.7 L199.6,182.3 L199.5,181.8 L199.5,181.4 L199.4,181.0 L199.3,180.6 L199.2,180.1 L199.0,179.7 L198.9,179.3 L198.7,178.8 L198.5,178.4 L198.3,178.0 L198.1,177.6 L197.8,177.1 L197.5,176.7 L197.2,176.3 L196.8,175.8 L196.4,175.4 L196.0,175.0 L195.6,174.5 L195.1,174.1 L194.6,173.7 L194.1,173.2 L193.6,172.8 L193.1,172.4 L192.5,172.0 L192.0,171.5 L191.5,171.1 L191.0,170.7 L190.6,170.2 L190.1,169.8 L189.7,169.4 L189.4,169.0 L189.1,168.5 L188.9,168.1 L188.7,167.7 L188.6,167.2 L188.6,166.8 L188.6,166.4 L188.7,165.9 L188.9,165.5 L189.1,165.1 L189.4,164.7 L189.7,164.2 L190.1,163.8 L190.6,163.4 L191.0,163.0 L191.5,162.5 L192.0,162.1 L192.5,161.7 L193.1,161.2 L193.6,160.8 L194.1,160.4 L194.6,160.0 L195.1,159.5 L195.6,159.1 L196.0,158.7 L196.4,158.2 L196.8,157.8 L197.2,157.4 L197.5,157.0 L197.8,156.5 L198.1,156.1 L198.3,155.7 L198.5,155.3 L198.7,154.8 L198.9,154.4 L199.0,154.0 L199.2,153.5 L199.3,153.1 L199.4,152.7 L199.5,152.3 L199.5,151.8 L199.6,151.4 L199.6,151.0 L199.7,150.6 L199.7,150.1 L199.7,149.7 Z"/></clipPath><rect x="187.60" y="162.00" width="24.40" height="9.70" fill="#555555" fill-opacity="0.3" clip-path="url(#vca3)"/>
<clipPath id="vca4"><path d="M255.5,138.3 L255.5,138.8 L255.5,139.2 L255.6,139.7 L255.6,140.1 L255.7,140.6 L255.8,141.0 L255.8,141.5 L255.9,141.9 L256.0,142.4 L256.2,142.8 L256.3,143.3 L256.5,143.7 L256.7,144.2 L256.9,144.6 L257.1,145.1 L257.4,145.5 L257.7,146.0 L258.1,146.4 L258.4,146.9 L258.8,147.4 L259.3,147.8 L259.7,148.3 L260.2,148.7 L260.7,149.2 L261.2,149.6 L261.7,150.1 L262.3,150.5 L262.8,151.0 L263.3,151.4 L263.8,151.9 L264.3,152.3 L264.8,152.8 L265.2,153.2 L265.6,153.7 L266.0,154.1 L266.3,154.6 L266.5,155.0 L266.7,155.5 L266.8,155.9 L266.8,156.4 L266.8,156.9 L266.7,157.3 L266.5,157.8 L266.3,158.3 L266.0,158.8 L265.6,159.2 L265.2,159.7 L264.8,160.2 L264.3,160.7 L263.8,161.1 L263.3,161.6 L262.8,162.1 L262.3,162.5 L261.7,163.0 L261.2,163.5 L260.7,164.0 L260.2,164.4 L259.7,164.9 L259.3,165.4 L258.8,165.9 L258.4,166.3 L258.1,166.8 L257.7,167.3 L257.4,167.7 L257.1,168.2 L256.9,168.7 L256.7,169.2 L256.5,169.6 L256.3,170.1 L256.2,170.6 L256.0,171.0 L255.9,171.5 L255.8,172.0 L255.8,172.5 L255.7,172.9 L255.6,173.4 L255.6,173.9 L255.5,174.4 L255.5,174.8 L255.5,175.3 L255.3,175.3 L255.3,174.8 L255.3,174.4 L255.2,173.9 L255.2,173.4 L255.1,172.9 L255.0,172.5 L255.0,172.0 L254.9,171.5 L254.8,171.0 L254.6,170.6 L254.5,170.1 L254.3,169.6 L254.1,169.2 L253.9,168.7 L253.7,168.2 L253.4,167.7 L253.1,167.3 L252.7,166.8 L252.4,166.3 L252.0,165.9 L251.5,165.4 L251.1,164.9 L250.6,164.4 L250.1,164.0 L249.6,163.5 L249.1,163.0 L248.5,162.5 L248.0,162.1 L247.5,161.6 L247.0,161.1 L246.5,160.7 L246.0,160.2 L245.6,159.7 L245.2,159.2 L244.8,158.8 L244.5,158.3 L244.3,157.8 L244.1,157.3 L244.0,156.9 L244.0,156.4 L244.0,155.9 L244.1,155.5 L244.3,155.0 L244.5,154.6 L244.8,154.1 L245.2,153.7 L245.6,153.2 L246.0,152.8 L246.5,152.3 L247.0,151.9 L247.5,151.4 L248.0,151.0 L248.5,150.5 L249.1,150.1 L249.6,149.6 L250.1,149.2 L250.6,148.7 L251.1,148.3 L251.5,147.8 L252.0,147.4 L252.4,146.9 L252.7,146.4 L253.1,146.0 L253.4,145.5 L253.7,145.1 L253.9,144.6 L254.1,144.2 L254.3,143.7 L254.5,143.3 L254.6,142.8 L254.8,142.4 L254.9,141.9 L255.0,141.5 L255.0,141.0 L255.1,140.6 L255.2,140.1 L255.2,139.7 L255.3,139.2 L255.3,138.8 L255.3,138.3 Z"/></clipPath><rect x="243.00" y="150.70" width="24.80" height="11.30" fill="#555555" fill-opacity="0.3" clip-path="url(#vca4)"/>
<clipPath id="vcb1"><path d="M482.4,144.1 L482.4,144.8 L482.5,145.4 L482.5,146.1 L482.5,146.7 L482.6,147.4 L482.7,148.0 L482.7,148.7 L482.8,149.3 L482.9,150.0 L483.1,150.6 L483.2,151.3 L483.4,151.9 L483.6,152.6 L483.8,153.2 L484.1,153.9 L484.4,154.5 L484.7,155.2 L485.0,155.8 L485.4,156.5 L485.8,157.1 L486.2,157.8 L486.7,158.5 L487.2,159.1 L487.7,159.8 L488.2,160.4 L488.7,161.1 L489.3,161.7 L489.8,162.4 L490.4,163.0 L490.9,163.7 L491.4,164.3 L491.9,165.0 L492.3,165.6 L492.7,166.3 L493.1,166.9 L493.4,167.6 L493.6,168.2 L493.8,168.9 L493.9,169.5 L493.9,170.2 L493.9,170.8 L493.8,171.5 L493.6,172.1 L493.4,172.8 L493.1,173.4 L492.7,174.0 L492.3,174.7 L491.9,175.3 L491.4,175.9 L490.9,176.6 L490.4,177.2 L489.8,177.8 L489.3,178.5 L488.7,179.1 L488.2,179.8 L487.7,180.4 L487.2,181.0 L486.7,181.7 L486.2,182.3 L485.8,182.9 L485.4,183.6 L485.0,184.2 L484.7,184.9 L484.4,185.5 L484.1,186.1 L483.8,186.8 L483.6,187.4 L483.4,188.0 L483.2,188.7 L483.1,189.3 L482.9,190.0 L482.8,190.6 L482.7,191.2 L482.7,191.9 L482.6,192.5 L482.5,193.1 L482.5,193.8 L482.5,194.4 L482.4,195.1 L482.4,195.7 L482.2,195.7 L482.2,195.1 L482.1,194.4 L482.1,193.8 L482.1,193.1 L482.0,192.5 L481.9,191.9 L481.9,191.2 L481.8,190.6 L481.7,190.0 L481.5,189.3 L481.4,188.7 L481.2,188.0 L481.0,187.4 L480.8,186.8 L480.5,186.1 L480.2,185.5 L479.9,184.9 L479.6,184.2 L479.2,183.6 L478.8,182.9 L478.4,182.3 L477.9,181.7 L477.4,181.0 L476.9,180.4 L476.4,179.8 L475.9,179.1 L475.3,178.5 L474.8,177.8 L474.2,177.2 L473.7,176.6 L473.2,175.9 L472.7,175.3 L472.3,174.7 L471.9,174.0 L471.5,173.4 L471.2,172.8 L471.0,172.1 L470.8,171.5 L470.7,170.8 L470.7,170.2 L470.7,169.5 L470.8,168.9 L471.0,168.2 L471.2,167.6 L471.5,166.9 L471.9,166.3 L472.3,165.6 L472.7,165.0 L473.2,164.3 L473.7,163.7 L474.2,163.0 L474.8,162.4 L475.3,161.7 L475.9,161.1 L476.4,160.4 L476.9,159.8 L477.4,159.1 L477.9,158.5 L478.4,157.8 L478.8,157.1 L479.2,156.5 L479.6,155.8 L479.9,155.2 L480.2,154.5 L480.5,153.9 L480.8,153.2 L481.0,152.6 L481.2,151.9 L481.4,151.3 L481.5,150.6 L481.7,150.0 L481.8,149.3 L481.9,148.7 L481.9,148.0 L482.0,147.4 L482.1,146.7 L482.1,146.1 L482.1,145.4 L482.2,144.8 L482.2,144.1 Z"/></clipPath><rect x="469.70" y="162.00" width="25.20" height="15.80" fill="#555555" fill-opacity="0.3" clip-path="url(#vcb1)"/>
<clipPath id="vcb2"><path d="M537.5,119.3 L537.5,119.8 L537.5,120.4 L537.6,120.9 L537.6,121.5 L537.7,122.0 L537.8,122.6 L537.8,123.1 L537.9,123.7 L538.0,124.2 L538.2,124.8 L538.3,125.3 L538.5,125.8 L538.7,126.4 L538.9,126.9 L539.1,127.5 L539.4,128.0 L539.7,128.6 L540.1,129.1 L540.4,129.7 L540.8,130.2 L541.3,130.7 L541.7,131.3 L542.2,131.8 L542.7,132.4 L543.2,132.9 L543.7,133.5 L544.3,134.0 L544.8,134.6 L545.3,135.1 L545.8,135.7 L546.3,136.2 L546.8,136.7 L547.2,137.3 L547.6,137.8 L548.0,138.4 L548.3,138.9 L548.5,139.5 L548.7,140.0 L548.8,140.6 L548.8,141.1 L548.8,141.7 L548.7,142.2 L548.5,142.8 L548.3,143.4 L548.0,144.0 L547.6,144.5 L547.2,145.1 L546.8,145.7 L546.3,146.3 L545.8,146.8 L545.3,147.4 L544.8,148.0 L544.3,148.5 L543.7,149.1 L543.2,149.7 L542.7,150.3 L542.2,150.8 L541.7,151.4 L541.3,152.0 L540.8,152.6 L540.4,153.1 L540.1,153.7 L539.7,154.3 L539.4,154.8 L539.1,155.4 L538.9,156.0 L538.7,156.6 L538.5,157.1 L538.3,157.7 L538.2,158.3 L538.0,158.8 L537.9,159.4 L537.8,160.0 L537.8,160.6 L537.7,161.1 L537.6,161.7 L537.6,162.3 L537.5,162.9 L537.5,163.4 L537.5,164.0 L537.3,164.0 L537.3,163.4 L537.3,162.9 L537.2,162.3 L537.2,161.7 L537.1,161.1 L537.0,160.6 L537.0,160.0 L536.9,159.4 L536.8,158.8 L536.6,158.3 L536.5,157.7 L536.3,157.1 L536.1,156.6 L535.9,156.0 L535.7,155.4 L535.4,154.8 L535.1,154.3 L534.7,153.7 L534.4,153.1 L534.0,152.6 L533.5,152.0 L533.1,151.4 L532.6,150.8 L532.1,150.3 L531.6,149.7 L531.1,149.1 L530.5,148.5 L530.0,148.0 L529.5,147.4 L529.0,146.8 L528.5,146.3 L528.0,145.7 L527.6,145.1 L527.2,144.5 L526.8,144.0 L526.5,143.4 L526.3,142.8 L526.1,142.2 L526.0,141.7 L526.0,141.1 L526.0,140.6 L526.1,140.0 L526.3,139.5 L526.5,138.9 L526.8,138.4 L527.2,137.8 L527.6,137.3 L528.0,136.7 L528.5,136.2 L529.0,135.7 L529.5,135.1 L530.0,134.6 L530.5,134.0 L531.1,133.5 L531.6,132.9 L532.1,132.4 L532.6,131.8 L533.1,131.3 L533.5,130.7 L534.0,130.2 L534.4,129.7 L534.7,129.1 L535.1,128.6 L535.4,128.0 L535.7,127.5 L535.9,126.9 L536.1,126.4 L536.3,125.8 L536.5,125.3 L536.6,124.8 L536.8,124.2 L536.9,123.7 L537.0,123.1 L537.0,122.6 L537.1,122.0 L537.2,121.5 L537.2,120.9 L537.3,120.4 L537.3,119.8 L537.3,119.3 Z"/></clipPath><rect x="525.00" y="135.00" width="24.80" height="12.00" fill="#555555" fill-opacity="0.3" clip-path="url(#vcb2)"/>
<clipPath id="vcb3"><path d="M592.7,166.4 L592.7,166.8 L592.7,167.2 L592.8,167.5 L592.8,167.9 L592.9,168.3 L593.0,168.7 L593.0,169.0 L593.1,169.4 L593.2,169.8 L593.4,170.2 L593.5,170.5 L593.7,170.9 L593.9,171.3 L594.1,171.7 L594.3,172.0 L594.6,172.4 L594.9,172.8 L595.2,173.2 L595.6,173.5 L596.0,173.9 L596.4,174.3 L596.9,174.7 L597.3,175.0 L597.8,175.4 L598.3,175.8 L598.9,176.2 L599.4,176.5 L599.9,176.9 L600.5,177.3 L601.0,177.7 L601.5,178.0 L601.9,178.4 L602.4,178.8 L602.7,179.2 L603.1,179.5 L603.4,179.9 L603.6,180.3 L603.8,180.7 L603.9,181.0 L603.9,181.4 L603.9,181.8 L603.8,182.2 L603.6,182.6 L603.4,183.0 L603.1,183.4 L602.7,183.8 L602.4,184.2 L601.9,184.6 L601.5,185.0 L601.0,185.3 L600.5,185.7 L599.9,186.1 L599.4,186.5 L598.9,186.9 L598.3,187.3 L597.8,187.7 L597.3,188.1 L596.9,188.5 L596.4,188.9 L596.0,189.3 L595.6,189.7 L595.2,190.1 L594.9,190.5 L594.6,190.9 L594.3,191.3 L594.1,191.7 L593.9,192.1 L593.7,192.5 L593.5,192.9 L593.4,193.2 L593.2,193.6 L593.1,194.0 L593.0,194.4 L593.0,194.8 L592.9,195.2 L592.8,195.6 L592.8,196.0 L592.7,196.4 L592.7,196.8 L592.7,197.2 L592.5,197.2 L592.5,196.8 L592.5,196.4 L592.4,196.0 L592.4,195.6 L592.3,195.2 L592.2,194.8 L592.2,194.4 L592.1,194.0 L592.0,193.6 L591.8,193.2 L591.7,192.9 L591.5,192.5 L591.3,192.1 L591.1,191.7 L590.9,191.3 L590.6,190.9 L590.3,190.5 L590.0,190.1 L589.6,189.7 L589.2,189.3 L588.8,188.9 L588.3,188.5 L587.9,188.1 L587.4,187.7 L586.9,187.3 L586.3,186.9 L585.8,186.5 L585.3,186.1 L584.7,185.7 L584.2,185.3 L583.7,185.0 L583.3,184.6 L582.8,184.2 L582.5,183.8 L582.1,183.4 L581.8,183.0 L581.6,182.6 L581.4,182.2 L581.3,181.8 L581.3,181.4 L581.3,181.0 L581.4,180.7 L581.6,180.3 L581.8,179.9 L582.1,179.5 L582.5,179.2 L582.8,178.8 L583.3,178.4 L583.7,178.0 L584.2,177.7 L584.7,177.3 L585.3,176.9 L585.8,176.5 L586.3,176.2 L586.9,175.8 L587.4,175.4 L587.9,175.0 L588.3,174.7 L588.8,174.3 L589.2,173.9 L589.6,173.5 L590.0,173.2 L590.3,172.8 L590.6,172.4 L590.9,172.0 L591.1,171.7 L591.3,171.3 L591.5,170.9 L591.7,170.5 L591.8,170.2 L592.0,169.8 L592.1,169.4 L592.2,169.0 L592.2,168.7 L592.3,168.3 L592.4,167.9 L592.4,167.5 L592.5,167.2 L592.5,166.8 L592.5,166.4 Z"/></clipPath><rect x="580.30" y="176.80" width="24.60" height="9.70" fill="#555555" fill-opacity="0.3" clip-path="url(#vcb3)"/>
<clipPath id="vcb4"><path d="M647.9,133.1 L647.9,133.6 L647.9,134.0 L648.0,134.5 L648.0,135.0 L648.1,135.5 L648.2,135.9 L648.2,136.4 L648.3,136.9 L648.4,137.4 L648.6,137.8 L648.7,138.3 L648.9,138.8 L649.1,139.3 L649.3,139.8 L649.5,140.2 L649.8,140.7 L650.1,141.2 L650.4,141.7 L650.8,142.1 L651.2,142.6 L651.6,143.1 L652.1,143.5 L652.5,144.0 L653.0,144.5 L653.5,145.0 L654.1,145.4 L654.6,145.9 L655.1,146.4 L655.7,146.9 L656.2,147.3 L656.7,147.8 L657.1,148.3 L657.6,148.8 L657.9,149.2 L658.3,149.7 L658.6,150.2 L658.8,150.7 L659.0,151.2 L659.1,151.6 L659.1,152.1 L659.1,152.6 L659.0,153.0 L658.8,153.5 L658.6,154.0 L658.3,154.4 L657.9,154.9 L657.6,155.4 L657.1,155.8 L656.7,156.3 L656.2,156.8 L655.7,157.2 L655.1,157.7 L654.6,158.1 L654.1,158.6 L653.5,159.1 L653.0,159.5 L652.5,160.0 L652.1,160.5 L651.6,160.9 L651.2,161.4 L650.8,161.9 L650.4,162.3 L650.1,162.8 L649.8,163.3 L649.5,163.7 L649.3,164.2 L649.1,164.7 L648.9,165.1 L648.7,165.6 L648.6,166.0 L648.4,166.5 L648.3,167.0 L648.2,167.4 L648.2,167.9 L648.1,168.4 L648.0,168.8 L648.0,169.3 L647.9,169.8 L647.9,170.2 L647.9,170.7 L647.7,170.7 L647.7,170.2 L647.7,169.8 L647.6,169.3 L647.6,168.8 L647.5,168.4 L647.4,167.9 L647.4,167.4 L647.3,167.0 L647.2,166.5 L647.0,166.0 L646.9,165.6 L646.7,165.1 L646.5,164.7 L646.3,164.2 L646.1,163.7 L645.8,163.3 L645.5,162.8 L645.2,162.3 L644.8,161.9 L644.4,161.4 L644.0,160.9 L643.5,160.5 L643.1,160.0 L642.6,159.5 L642.1,159.1 L641.5,158.6 L641.0,158.1 L640.5,157.7 L639.9,157.2 L639.4,156.8 L638.9,156.3 L638.5,155.8 L638.0,155.4 L637.7,154.9 L637.3,154.4 L637.0,154.0 L636.8,153.5 L636.6,153.0 L636.5,152.6 L636.5,152.1 L636.5,151.6 L636.6,151.2 L636.8,150.7 L637.0,150.2 L637.3,149.7 L637.7,149.2 L638.0,148.8 L638.5,148.3 L638.9,147.8 L639.4,147.3 L639.9,146.9 L640.5,146.4 L641.0,145.9 L641.5,145.4 L642.1,145.0 L642.6,144.5 L643.1,144.0 L643.5,143.5 L644.0,143.1 L644.4,142.6 L644.8,142.1 L645.2,141.7 L645.5,141.2 L645.8,140.7 L646.1,140.2 L646.3,139.8 L646.5,139.3 L646.7,138.8 L646.9,138.3 L647.0,137.8 L647.2,137.4 L647.3,136.9 L647.4,136.4 L647.4,135.9 L647.5,135.5 L647.6,135.0 L647.6,134.5 L647.7,134.0 L647.7,133.6 L647.7,133.1 Z"/></clipPath><rect x="635.50" y="146.10" width="24.60" height="11.30" fill="#555555" fill-opacity="0.3" clip-path="url(#vcb4)"/>
<clipPath id="vcc1"><path d="M92.7,449.4 L92.7,449.9 L92.7,450.4 L92.8,451.0 L92.8,451.5 L92.9,452.0 L93.0,452.5 L93.0,453.1 L93.1,453.6 L93.2,454.1 L93.4,454.6 L93.5,455.1 L93.7,455.7 L93.9,456.2 L94.1,456.7 L94.3,457.2 L94.6,457.8 L94.9,458.3 L95.2,458.8 L95.6,459.3 L96.0,459.9 L96.4,460.4 L96.9,460.9 L97.3,461.4 L97.8,461.9 L98.3,462.5 L98.9,463.0 L99.4,463.5 L99.9,464.0 L100.5,464.6 L101.0,465.1 L101.5,465.6 L101.9,466.1 L102.4,466.6 L102.7,467.2 L103.1,467.7 L103.4,468.2 L103.6,468.7 L103.8,469.3 L103.9,469.8 L103.9,470.3 L103.9,470.8 L103.8,471.3 L103.6,471.9 L103.4,472.4 L103.1,472.9 L102.7,473.4 L102.4,473.9 L101.9,474.4 L101.5,475.0 L101.0,475.5 L100.5,476.0 L99.9,476.5 L99.4,477.0 L98.9,477.5 L98.3,478.1 L97.8,478.6 L97.3,479.1 L96.9,479.6 L96.4,480.1 L96.0,480.6 L95.6,481.2 L95.2,481.7 L94.9,482.2 L94.6,482.7 L94.3,483.2 L94.1,483.8 L93.9,484.3 L93.7,484.8 L93.5,485.3 L93.4,485.8 L93.2,486.3 L93.1,486.9 L93.0,487.4 L93.0,487.9 L92.9,488.4 L92.8,488.9 L92.8,489.4 L92.7,490.0 L92.7,490.5 L92.7,491.0 L92.5,491.0 L92.5,490.5 L92.5,490.0 L92.4,489.4 L92.4,488.9 L92.3,488.4 L92.2,487.9 L92.2,487.4 L92.1,486.9 L92.0,486.3 L91.8,485.8 L91.7,485.3 L91.5,484.8 L91.3,484.3 L91.1,483.8 L90.9,483.2 L90.6,482.7 L90.3,482.2 L90.0,481.7 L89.6,481.2 L89.2,480.6 L88.8,480.1 L88.3,479.6 L87.9,479.1 L87.4,478.6 L86.9,478.1 L86.3,477.5 L85.8,477.0 L85.3,476.5 L84.7,476.0 L84.2,475.5 L83.7,475.0 L83.3,474.4 L82.8,473.9 L82.5,473.4 L82.1,472.9 L81.8,472.4 L81.6,471.9 L81.4,471.3 L81.3,470.8 L81.3,470.3 L81.3,469.8 L81.4,469.3 L81.6,468.7 L81.8,468.2 L82.1,467.7 L82.5,467.2 L82.8,466.6 L83.3,466.1 L83.7,465.6 L84.2,465.1 L84.7,464.6 L85.3,464.0 L85.8,463.5 L86.3,463.0 L86.9,462.5 L87.4,461.9 L87.9,461.4 L88.3,460.9 L88.8,460.4 L89.2,459.9 L89.6,459.3 L90.0,458.8 L90.3,458.3 L90.6,457.8 L90.9,457.2 L91.1,456.7 L91.3,456.2 L91.5,455.7 L91.7,455.1 L91.8,454.6 L92.0,454.1 L92.1,453.6 L92.2,453.1 L92.2,452.5 L92.3,452.0 L92.4,451.5 L92.4,451.0 L92.5,450.4 L92.5,449.9 L92.5,449.4 Z"/></clipPath><rect x="80.30" y="463.70" width="24.60" height="12.80" fill="#555555" fill-opacity="0.3" clip-path="url(#vcc1)"/>
<clipPath id="vcc2"><path d="M148.9,424.3 L148.9,424.7 L148.9,425.2 L149.0,425.6 L149.0,426.1 L149.1,426.5 L149.2,427.0 L149.2,427.4 L149.3,427.8 L149.4,428.3 L149.6,428.7 L149.7,429.2 L149.9,429.6 L150.1,430.1 L150.3,430.5 L150.5,430.9 L150.8,431.4 L151.1,431.8 L151.5,432.3 L151.8,432.7 L152.2,433.1 L152.7,433.6 L153.1,434.0 L153.6,434.5 L154.1,434.9 L154.6,435.4 L155.1,435.8 L155.7,436.2 L156.2,436.7 L156.7,437.1 L157.2,437.6 L157.7,438.0 L158.2,438.5 L158.6,438.9 L159.0,439.3 L159.4,439.8 L159.7,440.2 L159.9,440.7 L160.1,441.1 L160.2,441.6 L160.2,442.0 L160.2,442.4 L160.1,442.9 L159.9,443.3 L159.7,443.8 L159.4,444.2 L159.0,444.7 L158.6,445.1 L158.2,445.5 L157.7,446.0 L157.2,446.4 L156.7,446.9 L156.2,447.3 L155.7,447.8 L155.1,448.2 L154.6,448.6 L154.1,449.1 L153.6,449.5 L153.1,450.0 L152.7,450.4 L152.2,450.9 L151.8,451.3 L151.5,451.7 L151.1,452.2 L150.8,452.6 L150.5,453.1 L150.3,453.5 L150.1,453.9 L149.9,454.4 L149.7,454.8 L149.6,455.3 L149.4,455.7 L149.3,456.2 L149.2,456.6 L149.2,457.0 L149.1,457.5 L149.0,457.9 L149.0,458.4 L148.9,458.8 L148.9,459.3 L148.9,459.7 L148.7,459.7 L148.7,459.3 L148.7,458.8 L148.6,458.4 L148.6,457.9 L148.5,457.5 L148.4,457.0 L148.4,456.6 L148.3,456.2 L148.2,455.7 L148.0,455.3 L147.9,454.8 L147.7,454.4 L147.5,453.9 L147.3,453.5 L147.1,453.1 L146.8,452.6 L146.5,452.2 L146.1,451.7 L145.8,451.3 L145.4,450.9 L144.9,450.4 L144.5,450.0 L144.0,449.5 L143.5,449.1 L143.0,448.6 L142.5,448.2 L141.9,447.8 L141.4,447.3 L140.9,446.9 L140.4,446.4 L139.9,446.0 L139.4,445.5 L139.0,445.1 L138.6,444.7 L138.2,444.2 L137.9,443.8 L137.7,443.3 L137.5,442.9 L137.4,442.4 L137.4,442.0 L137.4,441.6 L137.5,441.1 L137.7,440.7 L137.9,440.2 L138.2,439.8 L138.6,439.3 L139.0,438.9 L139.4,438.5 L139.9,438.0 L140.4,437.6 L140.9,437.1 L141.4,436.7 L141.9,436.2 L142.5,435.8 L143.0,435.4 L143.5,434.9 L144.0,434.5 L144.5,434.0 L144.9,433.6 L145.4,433.1 L145.8,432.7 L146.1,432.3 L146.5,431.8 L146.8,431.4 L147.1,430.9 L147.3,430.5 L147.5,430.1 L147.7,429.6 L147.9,429.2 L148.0,428.7 L148.2,428.3 L148.3,427.8 L148.4,427.4 L148.4,427.0 L148.5,426.5 L148.6,426.1 L148.6,425.6 L148.7,425.2 L148.7,424.7 L148.7,424.3 Z"/></clipPath><rect x="136.40" y="436.90" width="24.80" height="10.50" fill="#555555" fill-opacity="0.3" clip-path="url(#vcc2)"/>
<clipPath id="vcc3"><path d="M204.9,444.0 L204.9,444.4 L205.0,444.9 L205.0,445.3 L205.0,445.7 L205.1,446.2 L205.2,446.6 L205.2,447.0 L205.3,447.5 L205.4,447.9 L205.6,448.4 L205.7,448.8 L205.9,449.2 L206.1,449.7 L206.3,450.1 L206.6,450.5 L206.9,451.0 L207.2,451.4 L207.5,451.8 L207.9,452.3 L208.3,452.7 L208.7,453.1 L209.2,453.6 L209.7,454.0 L210.2,454.4 L210.7,454.9 L211.2,455.3 L211.8,455.7 L212.3,456.2 L212.9,456.6 L213.4,457.0 L213.9,457.5 L214.4,457.9 L214.8,458.4 L215.2,458.8 L215.6,459.2 L215.9,459.7 L216.1,460.1 L216.3,460.5 L216.4,461.0 L216.4,461.4 L216.4,461.8 L216.3,462.3 L216.1,462.7 L215.9,463.2 L215.6,463.6 L215.2,464.1 L214.8,464.5 L214.4,464.9 L213.9,465.4 L213.4,465.8 L212.9,466.3 L212.3,466.7 L211.8,467.2 L211.2,467.6 L210.7,468.0 L210.2,468.5 L209.7,468.9 L209.2,469.4 L208.7,469.8 L208.3,470.2 L207.9,470.7 L207.5,471.1 L207.2,471.6 L206.9,472.0 L206.6,472.5 L206.3,472.9 L206.1,473.3 L205.9,473.8 L205.7,474.2 L205.6,474.7 L205.4,475.1 L205.3,475.6 L205.2,476.0 L205.2,476.4 L205.1,476.9 L205.0,477.3 L205.0,477.8 L205.0,478.2 L204.9,478.7 L204.9,479.1 L204.7,479.1 L204.7,478.7 L204.6,478.2 L204.6,477.8 L204.6,477.3 L204.5,476.9 L204.4,476.4 L204.4,476.0 L204.3,475.6 L204.2,475.1 L204.0,474.7 L203.9,474.2 L203.7,473.8 L203.5,473.3 L203.3,472.9 L203.0,472.5 L202.7,472.0 L202.4,471.6 L202.1,471.1 L201.7,470.7 L201.3,470.2 L200.9,469.8 L200.4,469.4 L199.9,468.9 L199.4,468.5 L198.9,468.0 L198.4,467.6 L197.8,467.2 L197.3,466.7 L196.7,466.3 L196.2,465.8 L195.7,465.4 L195.2,464.9 L194.8,464.5 L194.4,464.1 L194.0,463.6 L193.7,463.2 L193.5,462.7 L193.3,462.3 L193.2,461.8 L193.2,461.4 L193.2,461.0 L193.3,460.5 L193.5,460.1 L193.7,459.7 L194.0,459.2 L194.4,458.8 L194.8,458.4 L195.2,457.9 L195.7,457.5 L196.2,457.0 L196.7,456.6 L197.3,456.2 L197.8,455.7 L198.4,455.3 L198.9,454.9 L199.4,454.4 L199.9,454.0 L200.4,453.6 L200.9,453.1 L201.3,452.7 L201.7,452.3 L202.1,451.8 L202.4,451.4 L202.7,451.0 L203.0,450.5 L203.3,450.1 L203.5,449.7 L203.7,449.2 L203.9,448.8 L204.0,448.4 L204.2,447.9 L204.3,447.5 L204.4,447.0 L204.4,446.6 L204.5,446.2 L204.6,445.7 L204.6,445.3 L204.6,444.9 L204.7,444.4 L204.7,444.0 Z"/></clipPath><rect x="192.20" y="456.30" width="25.20" height="10.50" fill="#555555" fill-opacity="0.3" clip-path="url(#vcc3)"/>
<clipPath id="vcc4"><path d="M261.2,426.1 L261.2,426.5 L261.3,427.0 L261.3,427.4 L261.3,427.9 L261.4,428.3 L261.5,428.7 L261.5,429.2 L261.6,429.6 L261.7,430.1 L261.9,430.5 L262.0,430.9 L262.2,431.4 L262.4,431.8 L262.6,432.3 L262.9,432.7 L263.2,433.1 L263.5,433.6 L263.8,434.0 L264.2,434.5 L264.6,434.9 L265.0,435.3 L265.5,435.8 L266.0,436.2 L266.5,436.7 L267.0,437.1 L267.5,437.5 L268.1,438.0 L268.6,438.4 L269.2,438.9 L269.7,439.3 L270.2,439.7 L270.7,440.2 L271.1,440.6 L271.5,441.1 L271.9,441.5 L272.2,441.9 L272.4,442.4 L272.6,442.8 L272.7,443.3 L272.7,443.7 L272.7,444.1 L272.6,444.6 L272.4,445.0 L272.2,445.5 L271.9,445.9 L271.5,446.4 L271.1,446.8 L270.7,447.2 L270.2,447.7 L269.7,448.1 L269.2,448.6 L268.6,449.0 L268.1,449.5 L267.5,449.9 L267.0,450.3 L266.5,450.8 L266.0,451.2 L265.5,451.7 L265.0,452.1 L264.6,452.5 L264.2,453.0 L263.8,453.4 L263.5,453.9 L263.2,454.3 L262.9,454.8 L262.6,455.2 L262.4,455.6 L262.2,456.1 L262.0,456.5 L261.9,457.0 L261.7,457.4 L261.6,457.9 L261.5,458.3 L261.5,458.7 L261.4,459.2 L261.3,459.6 L261.3,460.1 L261.3,460.5 L261.2,461.0 L261.2,461.4 L261.0,461.4 L261.0,461.0 L260.9,460.5 L260.9,460.1 L260.9,459.6 L260.8,459.2 L260.7,458.7 L260.7,458.3 L260.6,457.9 L260.5,457.4 L260.3,457.0 L260.2,456.5 L260.0,456.1 L259.8,455.6 L259.6,455.2 L259.3,454.8 L259.0,454.3 L258.7,453.9 L258.4,453.4 L258.0,453.0 L257.6,452.5 L257.2,452.1 L256.7,451.7 L256.2,451.2 L255.7,450.8 L255.2,450.3 L254.7,449.9 L254.1,449.5 L253.6,449.0 L253.0,448.6 L252.5,448.1 L252.0,447.7 L251.5,447.2 L251.1,446.8 L250.7,446.4 L250.3,445.9 L250.0,445.5 L249.8,445.0 L249.6,444.6 L249.5,444.1 L249.5,443.7 L249.5,443.3 L249.6,442.8 L249.8,442.4 L250.0,441.9 L250.3,441.5 L250.7,441.1 L251.1,440.6 L251.5,440.2 L252.0,439.7 L252.5,439.3 L253.0,438.9 L253.6,438.4 L254.1,438.0 L254.7,437.5 L255.2,437.1 L255.7,436.7 L256.2,436.2 L256.7,435.8 L257.2,435.3 L257.6,434.9 L258.0,434.5 L258.4,434.0 L258.7,433.6 L259.0,433.1 L259.3,432.7 L259.6,432.3 L259.8,431.8 L260.0,431.4 L260.2,430.9 L260.3,430.5 L260.5,430.1 L260.6,429.6 L260.7,429.2 L260.7,428.7 L260.8,428.3 L260.9,427.9 L260.9,427.4 L260.9,427.0 L261.0,426.5 L261.0,426.1 Z"/></clipPath><rect x="248.50" y="438.40" width="25.20" height="10.20" fill="#555555" fill-opacity="0.3" clip-path="url(#vcc4)"/>
<clipPath id="vcd1"><path d="M93.0,683.4 L93.0,683.8 L93.0,684.2 L93.1,684.5 L93.1,684.9 L93.2,685.3 L93.2,685.7 L93.3,686.1 L93.4,686.5 L93.5,686.8 L93.7,687.2 L93.8,687.6 L94.0,688.0 L94.2,688.4 L94.4,688.8 L94.6,689.1 L94.9,689.5 L95.2,689.9 L95.5,690.3 L95.9,690.7 L96.3,691.0 L96.7,691.4 L97.1,691.8 L97.6,692.2 L98.1,692.6 L98.6,693.0 L99.1,693.3 L99.6,693.7 L100.2,694.1 L100.7,694.5 L101.2,694.9 L101.7,695.3 L102.1,695.6 L102.6,696.0 L103.0,696.4 L103.3,696.8 L103.6,697.2 L103.8,697.6 L104.0,697.9 L104.1,698.3 L104.1,698.7 L104.1,699.1 L104.0,699.4 L103.8,699.8 L103.6,700.2 L103.3,700.5 L103.0,700.9 L102.6,701.3 L102.1,701.6 L101.7,702.0 L101.2,702.4 L100.7,702.7 L100.2,703.1 L99.6,703.4 L99.1,703.8 L98.6,704.2 L98.1,704.5 L97.6,704.9 L97.1,705.3 L96.7,705.6 L96.3,706.0 L95.9,706.4 L95.5,706.7 L95.2,707.1 L94.9,707.5 L94.6,707.8 L94.4,708.2 L94.2,708.6 L94.0,708.9 L93.8,709.3 L93.7,709.6 L93.5,710.0 L93.4,710.4 L93.3,710.7 L93.2,711.1 L93.2,711.5 L93.1,711.8 L93.1,712.2 L93.0,712.6 L93.0,712.9 L93.0,713.3 L92.8,713.3 L92.8,712.9 L92.8,712.6 L92.7,712.2 L92.7,711.8 L92.6,711.5 L92.6,711.1 L92.5,710.7 L92.4,710.4 L92.3,710.0 L92.1,709.6 L92.0,709.3 L91.8,708.9 L91.6,708.6 L91.4,708.2 L91.2,707.8 L90.9,707.5 L90.6,707.1 L90.3,706.7 L89.9,706.4 L89.5,706.0 L89.1,705.6 L88.7,705.3 L88.2,704.9 L87.7,704.5 L87.2,704.2 L86.7,703.8 L86.2,703.4 L85.6,703.1 L85.1,702.7 L84.6,702.4 L84.1,702.0 L83.7,701.6 L83.2,701.3 L82.8,700.9 L82.5,700.5 L82.2,700.2 L82.0,699.8 L81.8,699.4 L81.7,699.1 L81.7,698.7 L81.7,698.3 L81.8,697.9 L82.0,697.6 L82.2,697.2 L82.5,696.8 L82.8,696.4 L83.2,696.0 L83.7,695.6 L84.1,695.3 L84.6,694.9 L85.1,694.5 L85.6,694.1 L86.2,693.7 L86.7,693.3 L87.2,693.0 L87.7,692.6 L88.2,692.2 L88.7,691.8 L89.1,691.4 L89.5,691.0 L89.9,690.7 L90.3,690.3 L90.6,689.9 L90.9,689.5 L91.2,689.1 L91.4,688.8 L91.6,688.4 L91.8,688.0 L92.0,687.6 L92.1,687.2 L92.3,686.8 L92.4,686.5 L92.5,686.1 L92.6,685.7 L92.6,685.3 L92.7,684.9 L92.7,684.5 L92.8,684.2 L92.8,683.8 L92.8,683.4 Z"/></clipPath><rect x="80.70" y="694.10" width="24.40" height="7.90" fill="#555555" fill-opacity="0.3" clip-path="url(#vcd1)"/>
<clipPath id="vcd2"><path d="M148.7,682.9 L148.7,683.3 L148.7,683.7 L148.8,684.1 L148.8,684.5 L148.9,684.9 L149.0,685.2 L149.0,685.6 L149.1,686.0 L149.2,686.4 L149.4,686.8 L149.5,687.2 L149.7,687.6 L149.9,688.0 L150.1,688.4 L150.3,688.8 L150.6,689.1 L150.9,689.5 L151.2,689.9 L151.6,690.3 L152.0,690.7 L152.4,691.1 L152.9,691.5 L153.3,691.9 L153.8,692.3 L154.3,692.6 L154.9,693.0 L155.4,693.4 L155.9,693.8 L156.5,694.2 L157.0,694.6 L157.5,695.0 L157.9,695.4 L158.4,695.8 L158.7,696.2 L159.1,696.5 L159.4,696.9 L159.6,697.3 L159.8,697.7 L159.9,698.1 L159.9,698.5 L159.9,698.9 L159.8,699.2 L159.6,699.6 L159.4,700.0 L159.1,700.4 L158.7,700.7 L158.4,701.1 L157.9,701.5 L157.5,701.8 L157.0,702.2 L156.5,702.6 L155.9,702.9 L155.4,703.3 L154.9,703.7 L154.3,704.0 L153.8,704.4 L153.3,704.8 L152.9,705.2 L152.4,705.5 L152.0,705.9 L151.6,706.3 L151.2,706.6 L150.9,707.0 L150.6,707.4 L150.3,707.8 L150.1,708.1 L149.9,708.5 L149.7,708.9 L149.5,709.2 L149.4,709.6 L149.2,710.0 L149.1,710.3 L149.0,710.7 L149.0,711.1 L148.9,711.4 L148.8,711.8 L148.8,712.2 L148.7,712.6 L148.7,712.9 L148.7,713.3 L148.5,713.3 L148.5,712.9 L148.5,712.6 L148.4,712.2 L148.4,711.8 L148.3,711.4 L148.2,711.1 L148.2,710.7 L148.1,710.3 L148.0,710.0 L147.8,709.6 L147.7,709.2 L147.5,708.9 L147.3,708.5 L147.1,708.1 L146.9,707.8 L146.6,707.4 L146.3,707.0 L146.0,706.6 L145.6,706.3 L145.2,705.9 L144.8,705.5 L144.3,705.2 L143.9,704.8 L143.4,704.4 L142.9,704.0 L142.3,703.7 L141.8,703.3 L141.3,702.9 L140.7,702.6 L140.2,702.2 L139.7,701.8 L139.3,701.5 L138.8,701.1 L138.5,700.7 L138.1,700.4 L137.8,700.0 L137.6,699.6 L137.4,699.2 L137.3,698.9 L137.3,698.5 L137.3,698.1 L137.4,697.7 L137.6,697.3 L137.8,696.9 L138.1,696.5 L138.5,696.2 L138.8,695.8 L139.3,695.4 L139.7,695.0 L140.2,694.6 L140.7,694.2 L141.3,693.8 L141.8,693.4 L142.3,693.0 L142.9,692.6 L143.4,692.3 L143.9,691.9 L144.3,691.5 L144.8,691.1 L145.2,690.7 L145.6,690.3 L146.0,689.9 L146.3,689.5 L146.6,689.1 L146.9,688.8 L147.1,688.4 L147.3,688.0 L147.5,687.6 L147.7,687.2 L147.8,686.8 L148.0,686.4 L148.1,686.0 L148.2,685.6 L148.2,685.2 L148.3,684.9 L148.4,684.5 L148.4,684.1 L148.5,683.7 L148.5,683.3 L148.5,682.9 Z"/></clipPath><rect x="136.30" y="693.60" width="24.60" height="8.40" fill="#555555" fill-opacity="0.3" clip-path="url(#vcd2)"/>
<clipPath id="vcd3"><path d="M203.7,673.2 L203.7,673.5 L203.8,673.9 L203.8,674.2 L203.8,674.6 L203.9,674.9 L204.0,675.2 L204.0,675.6 L204.1,675.9 L204.2,676.2 L204.4,676.6 L204.5,676.9 L204.7,677.2 L204.9,677.6 L205.1,677.9 L205.4,678.3 L205.6,678.6 L205.9,678.9 L206.3,679.3 L206.7,679.6 L207.1,680.0 L207.5,680.3 L207.9,680.6 L208.4,681.0 L208.9,681.3 L209.5,681.6 L210.0,682.0 L210.5,682.3 L211.1,682.7 L211.6,683.0 L212.1,683.3 L212.6,683.7 L213.1,684.0 L213.5,684.3 L213.9,684.7 L214.3,685.0 L214.6,685.4 L214.8,685.7 L215.0,686.0 L215.1,686.4 L215.1,686.7 L215.1,687.0 L215.0,687.4 L214.8,687.7 L214.6,688.1 L214.3,688.4 L213.9,688.7 L213.5,689.1 L213.1,689.4 L212.6,689.8 L212.1,690.1 L211.6,690.4 L211.1,690.8 L210.5,691.1 L210.0,691.5 L209.5,691.8 L208.9,692.1 L208.4,692.5 L207.9,692.8 L207.5,693.2 L207.1,693.5 L206.7,693.8 L206.3,694.2 L205.9,694.5 L205.6,694.9 L205.4,695.2 L205.1,695.5 L204.9,695.9 L204.7,696.2 L204.5,696.6 L204.4,696.9 L204.2,697.2 L204.1,697.6 L204.0,697.9 L204.0,698.3 L203.9,698.6 L203.8,698.9 L203.8,699.3 L203.8,699.6 L203.7,700.0 L203.7,700.3 L203.5,700.3 L203.5,700.0 L203.4,699.6 L203.4,699.3 L203.4,698.9 L203.3,698.6 L203.2,698.3 L203.2,697.9 L203.1,697.6 L203.0,697.2 L202.8,696.9 L202.7,696.6 L202.5,696.2 L202.3,695.9 L202.1,695.5 L201.8,695.2 L201.6,694.9 L201.3,694.5 L200.9,694.2 L200.5,693.8 L200.1,693.5 L199.7,693.2 L199.3,692.8 L198.8,692.5 L198.3,692.1 L197.7,691.8 L197.2,691.5 L196.7,691.1 L196.1,690.8 L195.6,690.4 L195.1,690.1 L194.6,689.8 L194.1,689.4 L193.7,689.1 L193.3,688.7 L192.9,688.4 L192.6,688.1 L192.4,687.7 L192.2,687.4 L192.1,687.0 L192.1,686.7 L192.1,686.4 L192.2,686.0 L192.4,685.7 L192.6,685.4 L192.9,685.0 L193.3,684.7 L193.7,684.3 L194.1,684.0 L194.6,683.7 L195.1,683.3 L195.6,683.0 L196.1,682.7 L196.7,682.3 L197.2,682.0 L197.7,681.6 L198.3,681.3 L198.8,681.0 L199.3,680.6 L199.7,680.3 L200.1,680.0 L200.5,679.6 L200.9,679.3 L201.3,678.9 L201.6,678.6 L201.8,678.3 L202.1,677.9 L202.3,677.6 L202.5,677.2 L202.7,676.9 L202.8,676.6 L203.0,676.2 L203.1,675.9 L203.2,675.6 L203.2,675.2 L203.3,674.9 L203.4,674.6 L203.4,674.2 L203.4,673.9 L203.5,673.5 L203.5,673.2 Z"/></clipPath><rect x="191.10" y="682.40" width="25.00" height="8.20" fill="#555555" fill-opacity="0.3" clip-path="url(#vcd3)"/>
<clipPath id="vcd4"><path d="M259.0,690.3 L259.0,690.6 L259.0,690.9 L259.1,691.1 L259.1,691.4 L259.2,691.7 L259.2,692.0 L259.3,692.3 L259.4,692.5 L259.5,692.8 L259.6,693.1 L259.8,693.4 L260.0,693.7 L260.1,693.9 L260.4,694.2 L260.6,694.5 L260.9,694.8 L261.2,695.1 L261.5,695.3 L261.9,695.6 L262.2,695.9 L262.7,696.2 L263.1,696.5 L263.6,696.7 L264.0,697.0 L264.5,697.3 L265.1,697.6 L265.6,697.9 L266.1,698.1 L266.6,698.4 L267.1,698.7 L267.6,699.0 L268.1,699.3 L268.5,699.5 L268.9,699.8 L269.2,700.1 L269.5,700.4 L269.7,700.7 L269.9,700.9 L270.0,701.2 L270.0,701.5 L270.0,701.8 L269.9,702.1 L269.7,702.4 L269.5,702.7 L269.2,703.0 L268.9,703.3 L268.5,703.7 L268.1,704.0 L267.6,704.3 L267.1,704.6 L266.6,704.9 L266.1,705.2 L265.6,705.5 L265.1,705.8 L264.5,706.1 L264.0,706.4 L263.6,706.7 L263.1,707.0 L262.7,707.3 L262.2,707.6 L261.9,708.0 L261.5,708.3 L261.2,708.6 L260.9,708.9 L260.6,709.2 L260.4,709.5 L260.1,709.8 L260.0,710.1 L259.8,710.4 L259.6,710.7 L259.5,711.0 L259.4,711.3 L259.3,711.6 L259.2,712.0 L259.2,712.3 L259.1,712.6 L259.1,712.9 L259.0,713.2 L259.0,713.5 L259.0,713.8 L258.8,713.8 L258.8,713.5 L258.8,713.2 L258.7,712.9 L258.7,712.6 L258.6,712.3 L258.6,712.0 L258.5,711.6 L258.4,711.3 L258.3,711.0 L258.2,710.7 L258.0,710.4 L257.8,710.1 L257.7,709.8 L257.4,709.5 L257.2,709.2 L256.9,708.9 L256.6,708.6 L256.3,708.3 L255.9,708.0 L255.6,707.6 L255.1,707.3 L254.7,707.0 L254.2,706.7 L253.8,706.4 L253.3,706.1 L252.7,705.8 L252.2,705.5 L251.7,705.2 L251.2,704.9 L250.7,704.6 L250.2,704.3 L249.7,704.0 L249.3,703.7 L248.9,703.3 L248.6,703.0 L248.3,702.7 L248.1,702.4 L247.9,702.1 L247.8,701.8 L247.8,701.5 L247.8,701.2 L247.9,700.9 L248.1,700.7 L248.3,700.4 L248.6,700.1 L248.9,699.8 L249.3,699.5 L249.7,699.3 L250.2,699.0 L250.7,698.7 L251.2,698.4 L251.7,698.1 L252.2,697.9 L252.7,697.6 L253.3,697.3 L253.8,697.0 L254.2,696.7 L254.7,696.5 L255.1,696.2 L255.6,695.9 L255.9,695.6 L256.3,695.3 L256.6,695.1 L256.9,694.8 L257.2,694.5 L257.4,694.2 L257.7,693.9 L257.8,693.7 L258.0,693.4 L258.2,693.1 L258.3,692.8 L258.4,692.5 L258.5,692.3 L258.6,692.0 L258.6,691.7 L258.7,691.4 L258.7,691.1 L258.8,690.9 L258.8,690.6 L258.8,690.3 Z"/></clipPath><rect x="246.80" y="698.20" width="24.20" height="6.90" fill="#555555" fill-opacity="0.3" clip-path="url(#vcd4)"/>
<clipPath id="vce"><path d="M431.8,689.9 L431.9,690.4 L431.9,690.9 L431.9,691.3 L432.0,691.8 L432.1,692.3 L432.2,692.8 L432.3,693.3 L432.4,693.8 L432.5,694.2 L432.7,694.7 L432.9,695.2 L433.1,695.7 L433.4,696.2 L433.6,696.7 L434.0,697.1 L434.3,697.6 L434.7,698.1 L435.2,698.6 L435.6,699.1 L436.2,699.5 L436.7,700.0 L437.3,700.5 L437.9,701.0 L438.6,701.5 L439.2,702.0 L439.9,702.4 L440.6,702.9 L441.3,703.4 L442.0,703.9 L442.7,704.4 L443.3,704.9 L443.9,705.3 L444.5,705.8 L445.0,706.3 L445.4,706.8 L445.8,707.3 L446.1,707.8 L446.3,708.2 L446.5,708.7 L446.5,709.2 L446.5,709.7 L446.3,710.2 L446.1,710.7 L445.8,711.1 L445.4,711.6 L445.0,712.1 L444.5,712.6 L443.9,713.1 L443.3,713.6 L442.7,714.1 L442.0,714.5 L441.3,715.0 L440.6,715.5 L439.9,716.0 L439.2,716.5 L438.6,717.0 L437.9,717.4 L437.3,717.9 L436.7,718.4 L436.2,718.9 L435.6,719.4 L435.2,719.9 L434.7,720.4 L434.3,720.8 L434.0,721.3 L433.6,721.8 L433.4,722.3 L433.1,722.8 L432.9,723.3 L432.7,723.8 L432.5,724.2 L432.4,724.7 L432.3,725.2 L432.2,725.7 L432.1,726.2 L432.0,726.7 L431.9,727.1 L431.9,727.6 L431.9,728.1 L431.8,728.6 L431.6,728.6 L431.5,728.1 L431.5,727.6 L431.5,727.1 L431.4,726.7 L431.3,726.2 L431.2,725.7 L431.1,725.2 L431.0,724.7 L430.9,724.2 L430.7,723.8 L430.5,723.3 L430.3,722.8 L430.0,722.3 L429.8,721.8 L429.4,721.3 L429.1,720.8 L428.7,720.4 L428.2,719.9 L427.8,719.4 L427.2,718.9 L426.7,718.4 L426.1,717.9 L425.5,717.4 L424.8,717.0 L424.2,716.5 L423.5,716.0 L422.8,715.5 L422.1,715.0 L421.4,714.5 L420.7,714.1 L420.1,713.6 L419.5,713.1 L418.9,712.6 L418.4,712.1 L418.0,711.6 L417.6,711.1 L417.3,710.7 L417.1,710.2 L416.9,709.7 L416.9,709.2 L416.9,708.7 L417.1,708.2 L417.3,707.8 L417.6,707.3 L418.0,706.8 L418.4,706.3 L418.9,705.8 L419.5,705.3 L420.1,704.9 L420.7,704.4 L421.4,703.9 L422.1,703.4 L422.8,702.9 L423.5,702.4 L424.2,702.0 L424.8,701.5 L425.5,701.0 L426.1,700.5 L426.7,700.0 L427.2,699.5 L427.8,699.1 L428.2,698.6 L428.7,698.1 L429.1,697.6 L429.4,697.1 L429.8,696.7 L430.0,696.2 L430.3,695.7 L430.5,695.2 L430.7,694.7 L430.9,694.2 L431.0,693.8 L431.1,693.3 L431.2,692.8 L431.3,692.3 L431.4,691.8 L431.5,691.3 L431.5,690.9 L431.5,690.4 L431.6,689.9 Z"/></clipPath><rect x="415.90" y="702.70" width="31.60" height="13.10" fill="#555555" fill-opacity="0.3" clip-path="url(#vce)"/>
<clipPath id="vcf"><path d="M615.7,693.6 L615.8,694.0 L615.8,694.5 L615.8,694.9 L615.9,695.4 L616.0,695.8 L616.1,696.2 L616.2,696.7 L616.3,697.1 L616.4,697.6 L616.6,698.0 L616.8,698.4 L617.0,698.9 L617.3,699.3 L617.6,699.8 L617.9,700.2 L618.3,700.6 L618.7,701.1 L619.1,701.5 L619.6,702.0 L620.1,702.4 L620.7,702.8 L621.3,703.3 L621.9,703.7 L622.6,704.2 L623.2,704.6 L623.9,705.0 L624.6,705.5 L625.3,705.9 L626.0,706.4 L626.7,706.8 L627.4,707.2 L628.0,707.7 L628.5,708.1 L629.1,708.6 L629.5,709.0 L629.9,709.4 L630.2,709.9 L630.4,710.3 L630.6,710.8 L630.6,711.2 L630.6,711.7 L630.4,712.1 L630.2,712.6 L629.9,713.1 L629.5,713.6 L629.1,714.0 L628.5,714.5 L628.0,715.0 L627.4,715.5 L626.7,715.9 L626.0,716.4 L625.3,716.9 L624.6,717.3 L623.9,717.8 L623.2,718.3 L622.6,718.8 L621.9,719.2 L621.3,719.7 L620.7,720.2 L620.1,720.7 L619.6,721.1 L619.1,721.6 L618.7,722.1 L618.3,722.5 L617.9,723.0 L617.6,723.5 L617.3,724.0 L617.0,724.4 L616.8,724.9 L616.6,725.4 L616.4,725.8 L616.3,726.3 L616.2,726.8 L616.1,727.3 L616.0,727.7 L615.9,728.2 L615.8,728.7 L615.8,729.2 L615.8,729.6 L615.7,730.1 L615.5,730.1 L615.4,729.6 L615.4,729.2 L615.4,728.7 L615.3,728.2 L615.2,727.7 L615.1,727.3 L615.0,726.8 L614.9,726.3 L614.8,725.8 L614.6,725.4 L614.4,724.9 L614.2,724.4 L613.9,724.0 L613.6,723.5 L613.3,723.0 L612.9,722.5 L612.5,722.1 L612.1,721.6 L611.6,721.1 L611.1,720.7 L610.5,720.2 L609.9,719.7 L609.3,719.2 L608.6,718.8 L608.0,718.3 L607.3,717.8 L606.6,717.3 L605.9,716.9 L605.2,716.4 L604.5,715.9 L603.8,715.5 L603.2,715.0 L602.7,714.5 L602.1,714.0 L601.7,713.6 L601.3,713.1 L601.0,712.6 L600.8,712.1 L600.6,711.7 L600.6,711.2 L600.6,710.8 L600.8,710.3 L601.0,709.9 L601.3,709.4 L601.7,709.0 L602.1,708.6 L602.7,708.1 L603.2,707.7 L603.8,707.2 L604.5,706.8 L605.2,706.4 L605.9,705.9 L606.6,705.5 L607.3,705.0 L608.0,704.6 L608.6,704.2 L609.3,703.7 L609.9,703.3 L610.5,702.8 L611.1,702.4 L611.6,702.0 L612.1,701.5 L612.5,701.1 L612.9,700.6 L613.3,700.2 L613.6,699.8 L613.9,699.3 L614.2,698.9 L614.4,698.4 L614.6,698.0 L614.8,697.6 L614.9,697.1 L615.0,696.7 L615.1,696.2 L615.2,695.8 L615.3,695.4 L615.4,694.9 L615.4,694.5 L615.4,694.0 L615.5,693.6 Z"/></clipPath><rect x="599.60" y="706.30" width="32.00" height="10.30" fill="#555555" fill-opacity="0.3" clip-path="url(#vcf)"/>
<clipPath id="vcg"><path d="M107.4,989.9 L107.5,990.1 L107.5,990.4 L107.6,990.6 L107.6,990.9 L107.7,991.1 L107.8,991.4 L107.9,991.6 L108.0,991.8 L108.2,992.1 L108.4,992.3 L108.6,992.6 L108.8,992.8 L109.1,993.1 L109.4,993.3 L109.7,993.5 L110.1,993.8 L110.6,994.0 L111.0,994.3 L111.6,994.5 L112.1,994.8 L112.7,995.0 L113.3,995.2 L114.0,995.5 L114.7,995.7 L115.4,996.0 L116.2,996.2 L116.9,996.4 L117.7,996.7 L118.4,996.9 L119.1,997.2 L119.8,997.4 L120.5,997.7 L121.1,997.9 L121.7,998.1 L122.1,998.4 L122.5,998.6 L122.9,998.9 L123.1,999.1 L123.3,999.4 L123.3,999.6 L123.3,999.8 L123.1,1000.1 L122.9,1000.3 L122.5,1000.6 L122.1,1000.8 L121.7,1001.1 L121.1,1001.3 L120.5,1001.5 L119.8,1001.8 L119.1,1002.0 L118.4,1002.3 L117.7,1002.5 L116.9,1002.8 L116.2,1003.0 L115.4,1003.2 L114.7,1003.5 L114.0,1003.7 L113.3,1004.0 L112.7,1004.2 L112.1,1004.5 L111.6,1004.7 L111.0,1004.9 L110.6,1005.2 L110.1,1005.4 L109.7,1005.7 L109.4,1005.9 L109.1,1006.1 L108.8,1006.4 L108.6,1006.6 L108.4,1006.9 L108.2,1007.1 L108.0,1007.4 L107.9,1007.6 L107.8,1007.8 L107.7,1008.1 L107.6,1008.3 L107.6,1008.6 L107.5,1008.8 L107.5,1009.1 L107.4,1009.3 L107.2,1009.3 L107.1,1009.1 L107.1,1008.8 L107.0,1008.6 L107.0,1008.3 L106.9,1008.1 L106.8,1007.8 L106.7,1007.6 L106.6,1007.4 L106.4,1007.1 L106.2,1006.9 L106.0,1006.6 L105.8,1006.4 L105.5,1006.1 L105.2,1005.9 L104.9,1005.7 L104.5,1005.4 L104.0,1005.2 L103.6,1004.9 L103.0,1004.7 L102.5,1004.5 L101.9,1004.2 L101.3,1004.0 L100.6,1003.7 L99.9,1003.5 L99.2,1003.2 L98.4,1003.0 L97.7,1002.8 L96.9,1002.5 L96.2,1002.3 L95.5,1002.0 L94.8,1001.8 L94.1,1001.5 L93.5,1001.3 L92.9,1001.1 L92.5,1000.8 L92.1,1000.6 L91.7,1000.3 L91.5,1000.1 L91.3,999.8 L91.3,999.6 L91.3,999.4 L91.5,999.1 L91.7,998.9 L92.1,998.6 L92.5,998.4 L92.9,998.1 L93.5,997.9 L94.1,997.7 L94.8,997.4 L95.5,997.2 L96.2,996.9 L96.9,996.7 L97.7,996.4 L98.4,996.2 L99.2,996.0 L99.9,995.7 L100.6,995.5 L101.3,995.2 L101.9,995.0 L102.5,994.8 L103.0,994.5 L103.6,994.3 L104.0,994.0 L104.5,993.8 L104.9,993.5 L105.2,993.3 L105.5,993.1 L105.8,992.8 L106.0,992.6 L106.2,992.3 L106.4,992.1 L106.6,991.8 L106.7,991.6 L106.8,991.4 L106.9,991.1 L107.0,990.9 L107.0,990.6 L107.1,990.4 L107.1,990.1 L107.2,989.9 Z"/></clipPath><rect x="90.30" y="997.00" width="34.00" height="5.00" fill="#555555" fill-opacity="0.3" clip-path="url(#vcg)"/>
<clipPath id="vch"><path d="M271.2,994.0 L271.3,994.6 L271.3,995.2 L271.4,995.8 L271.4,996.4 L271.5,997.0 L271.6,997.6 L271.7,998.2 L271.9,998.8 L272.0,999.4 L272.2,1000.0 L272.4,1000.6 L272.7,1001.2 L272.9,1001.8 L273.3,1002.4 L273.6,1003.0 L274.0,1003.6 L274.4,1004.2 L274.9,1004.8 L275.5,1005.4 L276.0,1006.0 L276.6,1006.6 L277.3,1007.2 L278.0,1007.8 L278.7,1008.4 L279.4,1009.0 L280.2,1009.6 L281.0,1010.2 L281.7,1010.8 L282.5,1011.4 L283.2,1012.0 L284.0,1012.6 L284.6,1013.2 L285.3,1013.8 L285.8,1014.4 L286.3,1015.0 L286.7,1015.6 L287.1,1016.2 L287.3,1016.8 L287.5,1017.4 L287.5,1018.0 L287.5,1018.6 L287.3,1019.2 L287.1,1019.8 L286.7,1020.4 L286.3,1021.0 L285.8,1021.6 L285.3,1022.1 L284.6,1022.7 L284.0,1023.3 L283.2,1023.9 L282.5,1024.5 L281.7,1025.1 L281.0,1025.7 L280.2,1026.3 L279.4,1026.9 L278.7,1027.5 L278.0,1028.1 L277.3,1028.7 L276.6,1029.3 L276.0,1029.8 L275.5,1030.4 L274.9,1031.0 L274.4,1031.6 L274.0,1032.2 L273.6,1032.8 L273.3,1033.4 L272.9,1034.0 L272.7,1034.6 L272.4,1035.2 L272.2,1035.8 L272.0,1036.4 L271.9,1037.0 L271.7,1037.6 L271.6,1038.1 L271.5,1038.7 L271.4,1039.3 L271.4,1039.9 L271.3,1040.5 L271.3,1041.1 L271.2,1041.7 L271.0,1041.7 L270.9,1041.1 L270.9,1040.5 L270.8,1039.9 L270.8,1039.3 L270.7,1038.7 L270.6,1038.1 L270.5,1037.6 L270.3,1037.0 L270.2,1036.4 L270.0,1035.8 L269.8,1035.2 L269.5,1034.6 L269.3,1034.0 L268.9,1033.4 L268.6,1032.8 L268.2,1032.2 L267.8,1031.6 L267.3,1031.0 L266.7,1030.4 L266.2,1029.8 L265.6,1029.3 L264.9,1028.7 L264.2,1028.1 L263.5,1027.5 L262.8,1026.9 L262.0,1026.3 L261.2,1025.7 L260.5,1025.1 L259.7,1024.5 L259.0,1023.9 L258.2,1023.3 L257.6,1022.7 L256.9,1022.1 L256.4,1021.6 L255.9,1021.0 L255.5,1020.4 L255.1,1019.8 L254.9,1019.2 L254.7,1018.6 L254.7,1018.0 L254.7,1017.4 L254.9,1016.8 L255.1,1016.2 L255.5,1015.6 L255.9,1015.0 L256.4,1014.4 L256.9,1013.8 L257.6,1013.2 L258.2,1012.6 L259.0,1012.0 L259.7,1011.4 L260.5,1010.8 L261.2,1010.2 L262.0,1009.6 L262.8,1009.0 L263.5,1008.4 L264.2,1007.8 L264.9,1007.2 L265.6,1006.6 L266.2,1006.0 L266.7,1005.4 L267.3,1004.8 L267.8,1004.2 L268.2,1003.6 L268.6,1003.0 L268.9,1002.4 L269.3,1001.8 L269.5,1001.2 L269.8,1000.6 L270.0,1000.0 L270.2,999.4 L270.3,998.8 L270.5,998.2 L270.6,997.6 L270.7,997.0 L270.8,996.4 L270.8,995.8 L270.9,995.2 L270.9,994.6 L271.0,994.0 Z"/></clipPath><rect x="253.70" y="1011.00" width="34.80" height="14.10" fill="#555555" fill-opacity="0.3" clip-path="url(#vch)"/>
<clipPath id="vci"><path d="M425.8,1007.7 L425.9,1008.4 L425.9,1009.1 L426.0,1009.8 L426.0,1010.5 L426.1,1011.2 L426.2,1012.0 L426.3,1012.7 L426.4,1013.4 L426.6,1014.1 L426.8,1014.8 L427.0,1015.5 L427.2,1016.2 L427.5,1016.9 L427.8,1017.6 L428.2,1018.4 L428.6,1019.1 L429.0,1019.8 L429.5,1020.5 L430.0,1021.2 L430.6,1021.9 L431.2,1022.6 L431.8,1023.3 L432.5,1024.0 L433.2,1024.7 L433.9,1025.5 L434.7,1026.2 L435.5,1026.9 L436.2,1027.6 L437.0,1028.3 L437.7,1029.0 L438.4,1029.7 L439.1,1030.4 L439.7,1031.1 L440.2,1031.8 L440.7,1032.5 L441.1,1033.3 L441.5,1034.0 L441.7,1034.7 L441.9,1035.4 L441.9,1036.1 L441.9,1036.8 L441.7,1037.6 L441.5,1038.3 L441.1,1039.0 L440.7,1039.7 L440.2,1040.5 L439.7,1041.2 L439.1,1041.9 L438.4,1042.6 L437.7,1043.4 L437.0,1044.1 L436.2,1044.8 L435.5,1045.6 L434.7,1046.3 L433.9,1047.0 L433.2,1047.7 L432.5,1048.5 L431.8,1049.2 L431.2,1049.9 L430.6,1050.7 L430.0,1051.4 L429.5,1052.1 L429.0,1052.8 L428.6,1053.6 L428.2,1054.3 L427.8,1055.0 L427.5,1055.7 L427.2,1056.5 L427.0,1057.2 L426.8,1057.9 L426.6,1058.7 L426.4,1059.4 L426.3,1060.1 L426.2,1060.8 L426.1,1061.6 L426.0,1062.3 L426.0,1063.0 L425.9,1063.7 L425.9,1064.5 L425.8,1065.2 L425.6,1065.2 L425.5,1064.5 L425.5,1063.7 L425.4,1063.0 L425.4,1062.3 L425.3,1061.6 L425.2,1060.8 L425.1,1060.1 L425.0,1059.4 L424.8,1058.7 L424.6,1057.9 L424.4,1057.2 L424.2,1056.5 L423.9,1055.7 L423.6,1055.0 L423.2,1054.3 L422.8,1053.6 L422.4,1052.8 L421.9,1052.1 L421.4,1051.4 L420.8,1050.7 L420.2,1049.9 L419.6,1049.2 L418.9,1048.5 L418.2,1047.7 L417.5,1047.0 L416.7,1046.3 L415.9,1045.6 L415.2,1044.8 L414.4,1044.1 L413.7,1043.4 L413.0,1042.6 L412.3,1041.9 L411.7,1041.2 L411.2,1040.5 L410.7,1039.7 L410.3,1039.0 L409.9,1038.3 L409.7,1037.6 L409.5,1036.8 L409.5,1036.1 L409.5,1035.4 L409.7,1034.7 L409.9,1034.0 L410.3,1033.3 L410.7,1032.5 L411.2,1031.8 L411.7,1031.1 L412.3,1030.4 L413.0,1029.7 L413.7,1029.0 L414.4,1028.3 L415.2,1027.6 L415.9,1026.9 L416.7,1026.2 L417.5,1025.5 L418.2,1024.7 L418.9,1024.0 L419.6,1023.3 L420.2,1022.6 L420.8,1021.9 L421.4,1021.2 L421.9,1020.5 L422.4,1019.8 L422.8,1019.1 L423.2,1018.4 L423.6,1017.6 L423.9,1016.9 L424.2,1016.2 L424.4,1015.5 L424.6,1014.8 L424.8,1014.1 L425.0,1013.4 L425.1,1012.7 L425.2,1012.0 L425.3,1011.2 L425.4,1010.5 L425.4,1009.8 L425.5,1009.1 L425.5,1008.4 L425.6,1007.7 Z"/></clipPath><rect x="408.50" y="1027.70" width="34.40" height="17.30" fill="#555555" fill-opacity="0.3" clip-path="url(#vci)"/>
<clipPath id="vcj"><path d="M574.7,943.5 L574.8,944.3 L574.8,945.2 L574.9,946.0 L574.9,946.9 L575.0,947.7 L575.1,948.5 L575.2,949.4 L575.4,950.2 L575.5,951.1 L575.7,951.9 L575.9,952.7 L576.1,953.6 L576.4,954.4 L576.7,955.3 L577.1,956.1 L577.5,956.9 L577.9,957.8 L578.4,958.6 L578.9,959.5 L579.5,960.3 L580.1,961.1 L580.8,962.0 L581.4,962.8 L582.2,963.7 L582.9,964.5 L583.6,965.3 L584.4,966.2 L585.2,967.0 L585.9,967.9 L586.7,968.7 L587.4,969.5 L588.0,970.4 L588.7,971.2 L589.2,972.1 L589.7,972.9 L590.1,973.7 L590.5,974.6 L590.7,975.4 L590.9,976.3 L590.9,977.1 L590.9,977.9 L590.7,978.8 L590.5,979.6 L590.1,980.5 L589.7,981.3 L589.2,982.2 L588.7,983.0 L588.0,983.9 L587.4,984.7 L586.7,985.6 L585.9,986.4 L585.2,987.3 L584.4,988.1 L583.6,989.0 L582.9,989.8 L582.2,990.7 L581.4,991.5 L580.8,992.4 L580.1,993.2 L579.5,994.0 L578.9,994.9 L578.4,995.7 L577.9,996.6 L577.5,997.4 L577.1,998.3 L576.7,999.1 L576.4,1000.0 L576.1,1000.8 L575.9,1001.7 L575.7,1002.5 L575.5,1003.4 L575.4,1004.2 L575.2,1005.1 L575.1,1005.9 L575.0,1006.8 L574.9,1007.6 L574.9,1008.5 L574.8,1009.3 L574.8,1010.2 L574.7,1011.0 L574.5,1011.0 L574.4,1010.2 L574.4,1009.3 L574.3,1008.5 L574.3,1007.6 L574.2,1006.8 L574.1,1005.9 L574.0,1005.1 L573.8,1004.2 L573.7,1003.4 L573.5,1002.5 L573.3,1001.7 L573.1,1000.8 L572.8,1000.0 L572.5,999.1 L572.1,998.3 L571.7,997.4 L571.3,996.6 L570.8,995.7 L570.3,994.9 L569.7,994.0 L569.1,993.2 L568.4,992.4 L567.8,991.5 L567.0,990.7 L566.3,989.8 L565.6,989.0 L564.8,988.1 L564.0,987.3 L563.3,986.4 L562.5,985.6 L561.8,984.7 L561.2,983.9 L560.5,983.0 L560.0,982.2 L559.5,981.3 L559.1,980.5 L558.7,979.6 L558.5,978.8 L558.3,977.9 L558.3,977.1 L558.3,976.3 L558.5,975.4 L558.7,974.6 L559.1,973.7 L559.5,972.9 L560.0,972.1 L560.5,971.2 L561.2,970.4 L561.8,969.5 L562.5,968.7 L563.3,967.9 L564.0,967.0 L564.8,966.2 L565.6,965.3 L566.3,964.5 L567.0,963.7 L567.8,962.8 L568.4,962.0 L569.1,961.1 L569.7,960.3 L570.3,959.5 L570.8,958.6 L571.3,957.8 L571.7,956.9 L572.1,956.1 L572.5,955.3 L572.8,954.4 L573.1,953.6 L573.3,952.7 L573.5,951.9 L573.7,951.1 L573.8,950.2 L574.0,949.4 L574.1,948.5 L574.2,947.7 L574.3,946.9 L574.3,946.0 L574.4,945.2 L574.4,944.3 L574.5,943.5 Z"/></clipPath><rect x="557.30" y="966.40" width="34.60" height="21.20" fill="#555555" fill-opacity="0.3" clip-path="url(#vcj)"/>
<path d="M89.5,152.3 L89.5,152.8 L89.5,153.2 L89.6,153.7 L89.6,154.1 L89.7,154.6 L89.8,155.1 L89.8,155.5 L89.9,156.0 L90.0,156.4 L90.2,156.9 L90.3,157.4 L90.5,157.8 L90.7,158.3 L90.9,158.7 L91.1,159.2 L91.4,159.7 L91.7,160.1 L92.0,160.6 L92.4,161.0 L92.8,161.5 L93.2,162.0 L93.7,162.4 L94.1,162.9 L94.6,163.3 L95.1,163.8 L95.7,164.3 L96.2,164.7 L96.7,165.2 L97.3,165.6 L97.8,166.1 L98.3,166.6 L98.7,167.0 L99.2,167.5 L99.5,167.9 L99.9,168.4 L100.2,168.9 L100.4,169.3 L100.6,169.8 L100.7,170.2 L100.7,170.7 L100.7,171.2 L100.6,171.6 L100.4,172.1 L100.2,172.6 L99.9,173.1 L99.5,173.5 L99.2,174.0 L98.7,174.5 L98.3,175.0 L97.8,175.4 L97.3,175.9 L96.7,176.4 L96.2,176.8 L95.7,177.3 L95.1,177.8 L94.6,178.3 L94.1,178.7 L93.7,179.2 L93.2,179.7 L92.8,180.1 L92.4,180.6 L92.0,181.1 L91.7,181.6 L91.4,182.0 L91.1,182.5 L90.9,183.0 L90.7,183.5 L90.5,183.9 L90.3,184.4 L90.2,184.9 L90.0,185.3 L89.9,185.8 L89.8,186.3 L89.8,186.8 L89.7,187.2 L89.6,187.7 L89.6,188.2 L89.5,188.7 L89.5,189.1 L89.5,189.6 L89.3,189.6 L89.3,189.1 L89.3,188.7 L89.2,188.2 L89.2,187.7 L89.1,187.2 L89.0,186.8 L89.0,186.3 L88.9,185.8 L88.8,185.3 L88.6,184.9 L88.5,184.4 L88.3,183.9 L88.1,183.5 L87.9,183.0 L87.7,182.5 L87.4,182.0 L87.1,181.6 L86.8,181.1 L86.4,180.6 L86.0,180.1 L85.6,179.7 L85.1,179.2 L84.7,178.7 L84.2,178.3 L83.7,177.8 L83.1,177.3 L82.6,176.8 L82.1,176.4 L81.5,175.9 L81.0,175.4 L80.5,175.0 L80.1,174.5 L79.6,174.0 L79.3,173.5 L78.9,173.1 L78.6,172.6 L78.4,172.1 L78.2,171.6 L78.1,171.2 L78.1,170.7 L78.1,170.2 L78.2,169.8 L78.4,169.3 L78.6,168.9 L78.9,168.4 L79.3,167.9 L79.6,167.5 L80.1,167.0 L80.5,166.6 L81.0,166.1 L81.5,165.6 L82.1,165.2 L82.6,164.7 L83.1,164.3 L83.7,163.8 L84.2,163.3 L84.7,162.9 L85.1,162.4 L85.6,162.0 L86.0,161.5 L86.4,161.0 L86.8,160.6 L87.1,160.1 L87.4,159.7 L87.7,159.2 L87.9,158.7 L88.1,158.3 L88.3,157.8 L88.5,157.4 L88.6,156.9 L88.8,156.4 L88.9,156.0 L89.0,155.5 L89.0,155.1 L89.1,154.6 L89.2,154.1 L89.2,153.7 L89.3,153.2 L89.3,152.8 L89.3,152.3 Z" fill="none" stroke="#000" stroke-width="1.4"/><line x1="78.10" y1="170.70" x2="100.70" y2="170.70" stroke="#262626" stroke-width="1.6"/>
<path d="M144.8,133.1 L144.8,133.6 L144.8,134.0 L144.9,134.5 L144.9,135.0 L145.0,135.4 L145.1,135.9 L145.1,136.4 L145.2,136.8 L145.3,137.3 L145.5,137.8 L145.6,138.2 L145.8,138.7 L146.0,139.2 L146.2,139.6 L146.4,140.1 L146.7,140.6 L147.0,141.0 L147.3,141.5 L147.7,142.0 L148.1,142.4 L148.5,142.9 L149.0,143.4 L149.4,143.9 L149.9,144.3 L150.4,144.8 L151.0,145.3 L151.5,145.7 L152.0,146.2 L152.6,146.7 L153.1,147.1 L153.6,147.6 L154.0,148.1 L154.5,148.5 L154.8,149.0 L155.2,149.5 L155.5,149.9 L155.7,150.4 L155.9,150.9 L156.0,151.3 L156.0,151.8 L156.0,152.3 L155.9,152.7 L155.7,153.2 L155.5,153.6 L155.2,154.1 L154.8,154.6 L154.5,155.0 L154.0,155.5 L153.6,155.9 L153.1,156.4 L152.6,156.9 L152.0,157.3 L151.5,157.8 L151.0,158.2 L150.4,158.7 L149.9,159.2 L149.4,159.6 L149.0,160.1 L148.5,160.5 L148.1,161.0 L147.7,161.5 L147.3,161.9 L147.0,162.4 L146.7,162.8 L146.4,163.3 L146.2,163.8 L146.0,164.2 L145.8,164.7 L145.6,165.1 L145.5,165.6 L145.3,166.1 L145.2,166.5 L145.1,167.0 L145.1,167.4 L145.0,167.9 L144.9,168.4 L144.9,168.8 L144.8,169.3 L144.8,169.7 L144.8,170.2 L144.6,170.2 L144.6,169.7 L144.6,169.3 L144.5,168.8 L144.5,168.4 L144.4,167.9 L144.3,167.4 L144.3,167.0 L144.2,166.5 L144.1,166.1 L143.9,165.6 L143.8,165.1 L143.6,164.7 L143.4,164.2 L143.2,163.8 L143.0,163.3 L142.7,162.8 L142.4,162.4 L142.1,161.9 L141.7,161.5 L141.3,161.0 L140.9,160.5 L140.4,160.1 L140.0,159.6 L139.5,159.2 L139.0,158.7 L138.4,158.2 L137.9,157.8 L137.4,157.3 L136.8,156.9 L136.3,156.4 L135.8,155.9 L135.4,155.5 L134.9,155.0 L134.6,154.6 L134.2,154.1 L133.9,153.6 L133.7,153.2 L133.5,152.7 L133.4,152.3 L133.4,151.8 L133.4,151.3 L133.5,150.9 L133.7,150.4 L133.9,149.9 L134.2,149.5 L134.6,149.0 L134.9,148.5 L135.4,148.1 L135.8,147.6 L136.3,147.1 L136.8,146.7 L137.4,146.2 L137.9,145.7 L138.4,145.3 L139.0,144.8 L139.5,144.3 L140.0,143.9 L140.4,143.4 L140.9,142.9 L141.3,142.4 L141.7,142.0 L142.1,141.5 L142.4,141.0 L142.7,140.6 L143.0,140.1 L143.2,139.6 L143.4,139.2 L143.6,138.7 L143.8,138.2 L143.9,137.8 L144.1,137.3 L144.2,136.8 L144.3,136.4 L144.3,135.9 L144.4,135.4 L144.5,135.0 L144.5,134.5 L144.6,134.0 L144.6,133.6 L144.6,133.1 Z" fill="none" stroke="#000" stroke-width="1.4"/><line x1="133.40" y1="151.80" x2="156.00" y2="151.80" stroke="#262626" stroke-width="1.6"/>
<path d="M199.9,149.7 L199.9,150.1 L199.9,150.6 L200.0,151.0 L200.0,151.4 L200.1,151.8 L200.1,152.3 L200.2,152.7 L200.3,153.1 L200.4,153.5 L200.6,154.0 L200.7,154.4 L200.9,154.8 L201.1,155.3 L201.3,155.7 L201.5,156.1 L201.8,156.5 L202.1,157.0 L202.4,157.4 L202.8,157.8 L203.2,158.2 L203.6,158.7 L204.0,159.1 L204.5,159.5 L205.0,160.0 L205.5,160.4 L206.0,160.8 L206.5,161.2 L207.1,161.7 L207.6,162.1 L208.1,162.5 L208.6,163.0 L209.0,163.4 L209.5,163.8 L209.9,164.2 L210.2,164.7 L210.5,165.1 L210.7,165.5 L210.9,165.9 L211.0,166.4 L211.0,166.8 L211.0,167.2 L210.9,167.7 L210.7,168.1 L210.5,168.5 L210.2,169.0 L209.9,169.4 L209.5,169.8 L209.0,170.2 L208.6,170.7 L208.1,171.1 L207.6,171.5 L207.1,172.0 L206.5,172.4 L206.0,172.8 L205.5,173.2 L205.0,173.7 L204.5,174.1 L204.0,174.5 L203.6,175.0 L203.2,175.4 L202.8,175.8 L202.4,176.3 L202.1,176.7 L201.8,177.1 L201.5,177.6 L201.3,178.0 L201.1,178.4 L200.9,178.8 L200.7,179.3 L200.6,179.7 L200.4,180.1 L200.3,180.6 L200.2,181.0 L200.1,181.4 L200.1,181.8 L200.0,182.3 L200.0,182.7 L199.9,183.1 L199.9,183.6 L199.9,184.0 L199.7,184.0 L199.7,183.6 L199.7,183.1 L199.6,182.7 L199.6,182.3 L199.5,181.8 L199.5,181.4 L199.4,181.0 L199.3,180.6 L199.2,180.1 L199.0,179.7 L198.9,179.3 L198.7,178.8 L198.5,178.4 L198.3,178.0 L198.1,177.6 L197.8,177.1 L197.5,176.7 L197.2,176.3 L196.8,175.8 L196.4,175.4 L196.0,175.0 L195.6,174.5 L195.1,174.1 L194.6,173.7 L194.1,173.2 L193.6,172.8 L193.1,172.4 L192.5,172.0 L192.0,171.5 L191.5,171.1 L191.0,170.7 L190.6,170.2 L190.1,169.8 L189.7,169.4 L189.4,169.0 L189.1,168.5 L188.9,168.1 L188.7,167.7 L188.6,167.2 L188.6,166.8 L188.6,166.4 L188.7,165.9 L188.9,165.5 L189.1,165.1 L189.4,164.7 L189.7,164.2 L190.1,163.8 L190.6,163.4 L191.0,163.0 L191.5,162.5 L192.0,162.1 L192.5,161.7 L193.1,161.2 L193.6,160.8 L194.1,160.4 L194.6,160.0 L195.1,159.5 L195.6,159.1 L196.0,158.7 L196.4,158.2 L196.8,157.8 L197.2,157.4 L197.5,157.0 L197.8,156.5 L198.1,156.1 L198.3,155.7 L198.5,155.3 L198.7,154.8 L198.9,154.4 L199.0,154.0 L199.2,153.5 L199.3,153.1 L199.4,152.7 L199.5,152.3 L199.5,151.8 L199.6,151.4 L199.6,151.0 L199.7,150.6 L199.7,150.1 L199.7,149.7 Z" fill="none" stroke="#000" stroke-width="1.4"/><line x1="188.60" y1="166.80" x2="211.00" y2="166.80" stroke="#262626" stroke-width="1.6"/>
<path d="M255.5,138.3 L255.5,138.8 L255.5,139.2 L255.6,139.7 L255.6,140.1 L255.7,140.6 L255.8,141.0 L255.8,141.5 L255.9,141.9 L256.0,142.4 L256.2,142.8 L256.3,143.3 L256.5,143.7 L256.7,144.2 L256.9,144.6 L257.1,145.1 L257.4,145.5 L257.7,146.0 L258.1,146.4 L258.4,146.9 L258.8,147.4 L259.3,147.8 L259.7,148.3 L260.2,148.7 L260.7,149.2 L261.2,149.6 L261.7,150.1 L262.3,150.5 L262.8,151.0 L263.3,151.4 L263.8,151.9 L264.3,152.3 L264.8,152.8 L265.2,153.2 L265.6,153.7 L266.0,154.1 L266.3,154.6 L266.5,155.0 L266.7,155.5 L266.8,155.9 L266.8,156.4 L266.8,156.9 L266.7,157.3 L266.5,157.8 L266.3,158.3 L266.0,158.8 L265.6,159.2 L265.2,159.7 L264.8,160.2 L264.3,160.7 L263.8,161.1 L263.3,161.6 L262.8,162.1 L262.3,162.5 L261.7,163.0 L261.2,163.5 L260.7,164.0 L260.2,164.4 L259.7,164.9 L259.3,165.4 L258.8,165.9 L258.4,166.3 L258.1,166.8 L257.7,167.3 L257.4,167.7 L257.1,168.2 L256.9,168.7 L256.7,169.2 L256.5,169.6 L256.3,170.1 L256.2,170.6 L256.0,171.0 L255.9,171.5 L255.8,172.0 L255.8,172.5 L255.7,172.9 L255.6,173.4 L255.6,173.9 L255.5,174.4 L255.5,174.8 L255.5,175.3 L255.3,175.3 L255.3,174.8 L255.3,174.4 L255.2,173.9 L255.2,173.4 L255.1,172.9 L255.0,172.5 L255.0,172.0 L254.9,171.5 L254.8,171.0 L254.6,170.6 L254.5,170.1 L254.3,169.6 L254.1,169.2 L253.9,168.7 L253.7,168.2 L253.4,167.7 L253.1,167.3 L252.7,166.8 L252.4,166.3 L252.0,165.9 L251.5,165.4 L251.1,164.9 L250.6,164.4 L250.1,164.0 L249.6,163.5 L249.1,163.0 L248.5,162.5 L248.0,162.1 L247.5,161.6 L247.0,161.1 L246.5,160.7 L246.0,160.2 L245.6,159.7 L245.2,159.2 L244.8,158.8 L244.5,158.3 L244.3,157.8 L244.1,157.3 L244.0,156.9 L244.0,156.4 L244.0,155.9 L244.1,155.5 L244.3,155.0 L244.5,154.6 L244.8,154.1 L245.2,153.7 L245.6,153.2 L246.0,152.8 L246.5,152.3 L247.0,151.9 L247.5,151.4 L248.0,151.0 L248.5,150.5 L249.1,150.1 L249.6,149.6 L250.1,149.2 L250.6,148.7 L251.1,148.3 L251.5,147.8 L252.0,147.4 L252.4,146.9 L252.7,146.4 L253.1,146.0 L253.4,145.5 L253.7,145.1 L253.9,144.6 L254.1,144.2 L254.3,143.7 L254.5,143.3 L254.6,142.8 L254.8,142.4 L254.9,141.9 L255.0,141.5 L255.0,141.0 L255.1,140.6 L255.2,140.1 L255.2,139.7 L255.3,139.2 L255.3,138.8 L255.3,138.3 Z" fill="none" stroke="#000" stroke-width="1.4"/><line x1="244.00" y1="156.40" x2="266.80" y2="156.40" stroke="#262626" stroke-width="1.6"/>
<path d="M482.4,144.1 L482.4,144.8 L482.5,145.4 L482.5,146.1 L482.5,146.7 L482.6,147.4 L482.7,148.0 L482.7,148.7 L482.8,149.3 L482.9,150.0 L483.1,150.6 L483.2,151.3 L483.4,151.9 L483.6,152.6 L483.8,153.2 L484.1,153.9 L484.4,154.5 L484.7,155.2 L485.0,155.8 L485.4,156.5 L485.8,157.1 L486.2,157.8 L486.7,158.5 L487.2,159.1 L487.7,159.8 L488.2,160.4 L488.7,161.1 L489.3,161.7 L489.8,162.4 L490.4,163.0 L490.9,163.7 L491.4,164.3 L491.9,165.0 L492.3,165.6 L492.7,166.3 L493.1,166.9 L493.4,167.6 L493.6,168.2 L493.8,168.9 L493.9,169.5 L493.9,170.2 L493.9,170.8 L493.8,171.5 L493.6,172.1 L493.4,172.8 L493.1,173.4 L492.7,174.0 L492.3,174.7 L491.9,175.3 L491.4,175.9 L490.9,176.6 L490.4,177.2 L489.8,177.8 L489.3,178.5 L488.7,179.1 L488.2,179.8 L487.7,180.4 L487.2,181.0 L486.7,181.7 L486.2,182.3 L485.8,182.9 L485.4,183.6 L485.0,184.2 L484.7,184.9 L484.4,185.5 L484.1,186.1 L483.8,186.8 L483.6,187.4 L483.4,188.0 L483.2,188.7 L483.1,189.3 L482.9,190.0 L482.8,190.6 L482.7,191.2 L482.7,191.9 L482.6,192.5 L482.5,193.1 L482.5,193.8 L482.5,194.4 L482.4,195.1 L482.4,195.7 L482.2,195.7 L482.2,195.1 L482.1,194.4 L482.1,193.8 L482.1,193.1 L482.0,192.5 L481.9,191.9 L481.9,191.2 L481.8,190.6 L481.7,190.0 L481.5,189.3 L481.4,188.7 L481.2,188.0 L481.0,187.4 L480.8,186.8 L480.5,186.1 L480.2,185.5 L479.9,184.9 L479.6,184.2 L479.2,183.6 L478.8,182.9 L478.4,182.3 L477.9,181.7 L477.4,181.0 L476.9,180.4 L476.4,179.8 L475.9,179.1 L475.3,178.5 L474.8,177.8 L474.2,177.2 L473.7,176.6 L473.2,175.9 L472.7,175.3 L472.3,174.7 L471.9,174.0 L471.5,173.4 L471.2,172.8 L471.0,172.1 L470.8,171.5 L470.7,170.8 L470.7,170.2 L470.7,169.5 L470.8,168.9 L471.0,168.2 L471.2,167.6 L471.5,166.9 L471.9,166.3 L472.3,165.6 L472.7,165.0 L473.2,164.3 L473.7,163.7 L474.2,163.0 L474.8,162.4 L475.3,161.7 L475.9,161.1 L476.4,160.4 L476.9,159.8 L477.4,159.1 L477.9,158.5 L478.4,157.8 L478.8,157.1 L479.2,156.5 L479.6,155.8 L479.9,155.2 L480.2,154.5 L480.5,153.9 L480.8,153.2 L481.0,152.6 L481.2,151.9 L481.4,151.3 L481.5,150.6 L481.7,150.0 L481.8,149.3 L481.9,148.7 L481.9,148.0 L482.0,147.4 L482.1,146.7 L482.1,146.1 L482.1,145.4 L482.2,144.8 L482.2,144.1 Z" fill="none" stroke="#000" stroke-width="1.4"/><line x1="470.70" y1="170.20" x2="493.90" y2="170.20" stroke="#262626" stroke-width="1.6"/>
<path d="M537.5,119.3 L537.5,119.8 L537.5,120.4 L537.6,120.9 L537.6,121.5 L537.7,122.0 L537.8,122.6 L537.8,123.1 L537.9,123.7 L538.0,124.2 L538.2,124.8 L538.3,125.3 L538.5,125.8 L538.7,126.4 L538.9,126.9 L539.1,127.5 L539.4,128.0 L539.7,128.6 L540.1,129.1 L540.4,129.7 L540.8,130.2 L541.3,130.7 L541.7,131.3 L542.2,131.8 L542.7,132.4 L543.2,132.9 L543.7,133.5 L544.3,134.0 L544.8,134.6 L545.3,135.1 L545.8,135.7 L546.3,136.2 L546.8,136.7 L547.2,137.3 L547.6,137.8 L548.0,138.4 L548.3,138.9 L548.5,139.5 L548.7,140.0 L548.8,140.6 L548.8,141.1 L548.8,141.7 L548.7,142.2 L548.5,142.8 L548.3,143.4 L548.0,144.0 L547.6,144.5 L547.2,145.1 L546.8,145.7 L546.3,146.3 L545.8,146.8 L545.3,147.4 L544.8,148.0 L544.3,148.5 L543.7,149.1 L543.2,149.7 L542.7,150.3 L542.2,150.8 L541.7,151.4 L541.3,152.0 L540.8,152.6 L540.4,153.1 L540.1,153.7 L539.7,154.3 L539.4,154.8 L539.1,155.4 L538.9,156.0 L538.7,156.6 L538.5,157.1 L538.3,157.7 L538.2,158.3 L538.0,158.8 L537.9,159.4 L537.8,160.0 L537.8,160.6 L537.7,161.1 L537.6,161.7 L537.6,162.3 L537.5,162.9 L537.5,163.4 L537.5,164.0 L537.3,164.0 L537.3,163.4 L537.3,162.9 L537.2,162.3 L537.2,161.7 L537.1,161.1 L537.0,160.6 L537.0,160.0 L536.9,159.4 L536.8,158.8 L536.6,158.3 L536.5,157.7 L536.3,157.1 L536.1,156.6 L535.9,156.0 L535.7,155.4 L535.4,154.8 L535.1,154.3 L534.7,153.7 L534.4,153.1 L534.0,152.6 L533.5,152.0 L533.1,151.4 L532.6,150.8 L532.1,150.3 L531.6,149.7 L531.1,149.1 L530.5,148.5 L530.0,148.0 L529.5,147.4 L529.0,146.8 L528.5,146.3 L528.0,145.7 L527.6,145.1 L527.2,144.5 L526.8,144.0 L526.5,143.4 L526.3,142.8 L526.1,142.2 L526.0,141.7 L526.0,141.1 L526.0,140.6 L526.1,140.0 L526.3,139.5 L526.5,138.9 L526.8,138.4 L527.2,137.8 L527.6,137.3 L528.0,136.7 L528.5,136.2 L529.0,135.7 L529.5,135.1 L530.0,134.6 L530.5,134.0 L531.1,133.5 L531.6,132.9 L532.1,132.4 L532.6,131.8 L533.1,131.3 L533.5,130.7 L534.0,130.2 L534.4,129.7 L534.7,129.1 L535.1,128.6 L535.4,128.0 L535.7,127.5 L535.9,126.9 L536.1,126.4 L536.3,125.8 L536.5,125.3 L536.6,124.8 L536.8,124.2 L536.9,123.7 L537.0,123.1 L537.0,122.6 L537.1,122.0 L537.2,121.5 L537.2,120.9 L537.3,120.4 L537.3,119.8 L537.3,119.3 Z" fill="none" stroke="#000" stroke-width="1.4"/><line x1="526.00" y1="141.10" x2="548.80" y2="141.10" stroke="#262626" stroke-width="1.6"/>
<path d="M592.7,166.4 L592.7,166.8 L592.7,167.2 L592.8,167.5 L592.8,167.9 L592.9,168.3 L593.0,168.7 L593.0,169.0 L593.1,169.4 L593.2,169.8 L593.4,170.2 L593.5,170.5 L593.7,170.9 L593.9,171.3 L594.1,171.7 L594.3,172.0 L594.6,172.4 L594.9,172.8 L595.2,173.2 L595.6,173.5 L596.0,173.9 L596.4,174.3 L596.9,174.7 L597.3,175.0 L597.8,175.4 L598.3,175.8 L598.9,176.2 L599.4,176.5 L599.9,176.9 L600.5,177.3 L601.0,177.7 L601.5,178.0 L601.9,178.4 L602.4,178.8 L602.7,179.2 L603.1,179.5 L603.4,179.9 L603.6,180.3 L603.8,180.7 L603.9,181.0 L603.9,181.4 L603.9,181.8 L603.8,182.2 L603.6,182.6 L603.4,183.0 L603.1,183.4 L602.7,183.8 L602.4,184.2 L601.9,184.6 L601.5,185.0 L601.0,185.3 L600.5,185.7 L599.9,186.1 L599.4,186.5 L598.9,186.9 L598.3,187.3 L597.8,187.7 L597.3,188.1 L596.9,188.5 L596.4,188.9 L596.0,189.3 L595.6,189.7 L595.2,190.1 L594.9,190.5 L594.6,190.9 L594.3,191.3 L594.1,191.7 L593.9,192.1 L593.7,192.5 L593.5,192.9 L593.4,193.2 L593.2,193.6 L593.1,194.0 L593.0,194.4 L593.0,194.8 L592.9,195.2 L592.8,195.6 L592.8,196.0 L592.7,196.4 L592.7,196.8 L592.7,197.2 L592.5,197.2 L592.5,196.8 L592.5,196.4 L592.4,196.0 L592.4,195.6 L592.3,195.2 L592.2,194.8 L592.2,194.4 L592.1,194.0 L592.0,193.6 L591.8,193.2 L591.7,192.9 L591.5,192.5 L591.3,192.1 L591.1,191.7 L590.9,191.3 L590.6,190.9 L590.3,190.5 L590.0,190.1 L589.6,189.7 L589.2,189.3 L588.8,188.9 L588.3,188.5 L587.9,188.1 L587.4,187.7 L586.9,187.3 L586.3,186.9 L585.8,186.5 L585.3,186.1 L584.7,185.7 L584.2,185.3 L583.7,185.0 L583.3,184.6 L582.8,184.2 L582.5,183.8 L582.1,183.4 L581.8,183.0 L581.6,182.6 L581.4,182.2 L581.3,181.8 L581.3,181.4 L581.3,181.0 L581.4,180.7 L581.6,180.3 L581.8,179.9 L582.1,179.5 L582.5,179.2 L582.8,178.8 L583.3,178.4 L583.7,178.0 L584.2,177.7 L584.7,177.3 L585.3,176.9 L585.8,176.5 L586.3,176.2 L586.9,175.8 L587.4,175.4 L587.9,175.0 L588.3,174.7 L588.8,174.3 L589.2,173.9 L589.6,173.5 L590.0,173.2 L590.3,172.8 L590.6,172.4 L590.9,172.0 L591.1,171.7 L591.3,171.3 L591.5,170.9 L591.7,170.5 L591.8,170.2 L592.0,169.8 L592.1,169.4 L592.2,169.0 L592.2,168.7 L592.3,168.3 L592.4,167.9 L592.4,167.5 L592.5,167.2 L592.5,166.8 L592.5,166.4 Z" fill="none" stroke="#000" stroke-width="1.4"/><line x1="581.30" y1="181.40" x2="603.90" y2="181.40" stroke="#262626" stroke-width="1.6"/>
<path d="M647.9,133.1 L647.9,133.6 L647.9,134.0 L648.0,134.5 L648.0,135.0 L648.1,135.5 L648.2,135.9 L648.2,136.4 L648.3,136.9 L648.4,137.4 L648.6,137.8 L648.7,138.3 L648.9,138.8 L649.1,139.3 L649.3,139.8 L649.5,140.2 L649.8,140.7 L650.1,141.2 L650.4,141.7 L650.8,142.1 L651.2,142.6 L651.6,143.1 L652.1,143.5 L652.5,144.0 L653.0,144.5 L653.5,145.0 L654.1,145.4 L654.6,145.9 L655.1,146.4 L655.7,146.9 L656.2,147.3 L656.7,147.8 L657.1,148.3 L657.6,148.8 L657.9,149.2 L658.3,149.7 L658.6,150.2 L658.8,150.7 L659.0,151.2 L659.1,151.6 L659.1,152.1 L659.1,152.6 L659.0,153.0 L658.8,153.5 L658.6,154.0 L658.3,154.4 L657.9,154.9 L657.6,155.4 L657.1,155.8 L656.7,156.3 L656.2,156.8 L655.7,157.2 L655.1,157.7 L654.6,158.1 L654.1,158.6 L653.5,159.1 L653.0,159.5 L652.5,160.0 L652.1,160.5 L651.6,160.9 L651.2,161.4 L650.8,161.9 L650.4,162.3 L650.1,162.8 L649.8,163.3 L649.5,163.7 L649.3,164.2 L649.1,164.7 L648.9,165.1 L648.7,165.6 L648.6,166.0 L648.4,166.5 L648.3,167.0 L648.2,167.4 L648.2,167.9 L648.1,168.4 L648.0,168.8 L648.0,169.3 L647.9,169.8 L647.9,170.2 L647.9,170.7 L647.7,170.7 L647.7,170.2 L647.7,169.8 L647.6,169.3 L647.6,168.8 L647.5,168.4 L647.4,167.9 L647.4,167.4 L647.3,167.0 L647.2,166.5 L647.0,166.0 L646.9,165.6 L646.7,165.1 L646.5,164.7 L646.3,164.2 L646.1,163.7 L645.8,163.3 L645.5,162.8 L645.2,162.3 L644.8,161.9 L644.4,161.4 L644.0,160.9 L643.5,160.5 L643.1,160.0 L642.6,159.5 L642.1,159.1 L641.5,158.6 L641.0,158.1 L640.5,157.7 L639.9,157.2 L639.4,156.8 L638.9,156.3 L638.5,155.8 L638.0,155.4 L637.7,154.9 L637.3,154.4 L637.0,154.0 L636.8,153.5 L636.6,153.0 L636.5,152.6 L636.5,152.1 L636.5,151.6 L636.6,151.2 L636.8,150.7 L637.0,150.2 L637.3,149.7 L637.7,149.2 L638.0,148.8 L638.5,148.3 L638.9,147.8 L639.4,147.3 L639.9,146.9 L640.5,146.4 L641.0,145.9 L641.5,145.4 L642.1,145.0 L642.6,144.5 L643.1,144.0 L643.5,143.5 L644.0,143.1 L644.4,142.6 L644.8,142.1 L645.2,141.7 L645.5,141.2 L645.8,140.7 L646.1,140.2 L646.3,139.8 L646.5,139.3 L646.7,138.8 L646.9,138.3 L647.0,137.8 L647.2,137.4 L647.3,136.9 L647.4,136.4 L647.4,135.9 L647.5,135.5 L647.6,135.0 L647.6,134.5 L647.7,134.0 L647.7,133.6 L647.7,133.1 Z" fill="none" stroke="#000" stroke-width="1.4"/><line x1="636.50" y1="152.10" x2="659.10" y2="152.10" stroke="#262626" stroke-width="1.6"/>
<path d="M92.7,449.4 L92.7,449.9 L92.7,450.4 L92.8,451.0 L92.8,451.5 L92.9,452.0 L93.0,452.5 L93.0,453.1 L93.1,453.6 L93.2,454.1 L93.4,454.6 L93.5,455.1 L93.7,455.7 L93.9,456.2 L94.1,456.7 L94.3,457.2 L94.6,457.8 L94.9,458.3 L95.2,458.8 L95.6,459.3 L96.0,459.9 L96.4,460.4 L96.9,460.9 L97.3,461.4 L97.8,461.9 L98.3,462.5 L98.9,463.0 L99.4,463.5 L99.9,464.0 L100.5,464.6 L101.0,465.1 L101.5,465.6 L101.9,466.1 L102.4,466.6 L102.7,467.2 L103.1,467.7 L103.4,468.2 L103.6,468.7 L103.8,469.3 L103.9,469.8 L103.9,470.3 L103.9,470.8 L103.8,471.3 L103.6,471.9 L103.4,472.4 L103.1,472.9 L102.7,473.4 L102.4,473.9 L101.9,474.4 L101.5,475.0 L101.0,475.5 L100.5,476.0 L99.9,476.5 L99.4,477.0 L98.9,477.5 L98.3,478.1 L97.8,478.6 L97.3,479.1 L96.9,479.6 L96.4,480.1 L96.0,480.6 L95.6,481.2 L95.2,481.7 L94.9,482.2 L94.6,482.7 L94.3,483.2 L94.1,483.8 L93.9,484.3 L93.7,484.8 L93.5,485.3 L93.4,485.8 L93.2,486.3 L93.1,486.9 L93.0,487.4 L93.0,487.9 L92.9,488.4 L92.8,488.9 L92.8,489.4 L92.7,490.0 L92.7,490.5 L92.7,491.0 L92.5,491.0 L92.5,490.5 L92.5,490.0 L92.4,489.4 L92.4,488.9 L92.3,488.4 L92.2,487.9 L92.2,487.4 L92.1,486.9 L92.0,486.3 L91.8,485.8 L91.7,485.3 L91.5,484.8 L91.3,484.3 L91.1,483.8 L90.9,483.2 L90.6,482.7 L90.3,482.2 L90.0,481.7 L89.6,481.2 L89.2,480.6 L88.8,480.1 L88.3,479.6 L87.9,479.1 L87.4,478.6 L86.9,478.1 L86.3,477.5 L85.8,477.0 L85.3,476.5 L84.7,476.0 L84.2,475.5 L83.7,475.0 L83.3,474.4 L82.8,473.9 L82.5,473.4 L82.1,472.9 L81.8,472.4 L81.6,471.9 L81.4,471.3 L81.3,470.8 L81.3,470.3 L81.3,469.8 L81.4,469.3 L81.6,468.7 L81.8,468.2 L82.1,467.7 L82.5,467.2 L82.8,466.6 L83.3,466.1 L83.7,465.6 L84.2,465.1 L84.7,464.6 L85.3,464.0 L85.8,463.5 L86.3,463.0 L86.9,462.5 L87.4,461.9 L87.9,461.4 L88.3,460.9 L88.8,460.4 L89.2,459.9 L89.6,459.3 L90.0,458.8 L90.3,458.3 L90.6,457.8 L90.9,457.2 L91.1,456.7 L91.3,456.2 L91.5,455.7 L91.7,455.1 L91.8,454.6 L92.0,454.1 L92.1,453.6 L92.2,453.1 L92.2,452.5 L92.3,452.0 L92.4,451.5 L92.4,451.0 L92.5,450.4 L92.5,449.9 L92.5,449.4 Z" fill="none" stroke="#000" stroke-width="1.4"/><line x1="81.30" y1="470.30" x2="103.90" y2="470.30" stroke="#262626" stroke-width="1.6"/>
<path d="M148.9,424.3 L148.9,424.7 L148.9,425.2 L149.0,425.6 L149.0,426.1 L149.1,426.5 L149.2,427.0 L149.2,427.4 L149.3,427.8 L149.4,428.3 L149.6,428.7 L149.7,429.2 L149.9,429.6 L150.1,430.1 L150.3,430.5 L150.5,430.9 L150.8,431.4 L151.1,431.8 L151.5,432.3 L151.8,432.7 L152.2,433.1 L152.7,433.6 L153.1,434.0 L153.6,434.5 L154.1,434.9 L154.6,435.4 L155.1,435.8 L155.7,436.2 L156.2,436.7 L156.7,437.1 L157.2,437.6 L157.7,438.0 L158.2,438.5 L158.6,438.9 L159.0,439.3 L159.4,439.8 L159.7,440.2 L159.9,440.7 L160.1,441.1 L160.2,441.6 L160.2,442.0 L160.2,442.4 L160.1,442.9 L159.9,443.3 L159.7,443.8 L159.4,444.2 L159.0,444.7 L158.6,445.1 L158.2,445.5 L157.7,446.0 L157.2,446.4 L156.7,446.9 L156.2,447.3 L155.7,447.8 L155.1,448.2 L154.6,448.6 L154.1,449.1 L153.6,449.5 L153.1,450.0 L152.7,450.4 L152.2,450.9 L151.8,451.3 L151.5,451.7 L151.1,452.2 L150.8,452.6 L150.5,453.1 L150.3,453.5 L150.1,453.9 L149.9,454.4 L149.7,454.8 L149.6,455.3 L149.4,455.7 L149.3,456.2 L149.2,456.6 L149.2,457.0 L149.1,457.5 L149.0,457.9 L149.0,458.4 L148.9,458.8 L148.9,459.3 L148.9,459.7 L148.7,459.7 L148.7,459.3 L148.7,458.8 L148.6,458.4 L148.6,457.9 L148.5,457.5 L148.4,457.0 L148.4,456.6 L148.3,456.2 L148.2,455.7 L148.0,455.3 L147.9,454.8 L147.7,454.4 L147.5,453.9 L147.3,453.5 L147.1,453.1 L146.8,452.6 L146.5,452.2 L146.1,451.7 L145.8,451.3 L145.4,450.9 L144.9,450.4 L144.5,450.0 L144.0,449.5 L143.5,449.1 L143.0,448.6 L142.5,448.2 L141.9,447.8 L141.4,447.3 L140.9,446.9 L140.4,446.4 L139.9,446.0 L139.4,445.5 L139.0,445.1 L138.6,444.7 L138.2,444.2 L137.9,443.8 L137.7,443.3 L137.5,442.9 L137.4,442.4 L137.4,442.0 L137.4,441.6 L137.5,441.1 L137.7,440.7 L137.9,440.2 L138.2,439.8 L138.6,439.3 L139.0,438.9 L139.4,438.5 L139.9,438.0 L140.4,437.6 L140.9,437.1 L141.4,436.7 L141.9,436.2 L142.5,435.8 L143.0,435.4 L143.5,434.9 L144.0,434.5 L144.5,434.0 L144.9,433.6 L145.4,433.1 L145.8,432.7 L146.1,432.3 L146.5,431.8 L146.8,431.4 L147.1,430.9 L147.3,430.5 L147.5,430.1 L147.7,429.6 L147.9,429.2 L148.0,428.7 L148.2,428.3 L148.3,427.8 L148.4,427.4 L148.4,427.0 L148.5,426.5 L148.6,426.1 L148.6,425.6 L148.7,425.2 L148.7,424.7 L148.7,424.3 Z" fill="none" stroke="#000" stroke-width="1.4"/><line x1="137.40" y1="442.00" x2="160.20" y2="442.00" stroke="#262626" stroke-width="1.6"/>
<path d="M204.9,444.0 L204.9,444.4 L205.0,444.9 L205.0,445.3 L205.0,445.7 L205.1,446.2 L205.2,446.6 L205.2,447.0 L205.3,447.5 L205.4,447.9 L205.6,448.4 L205.7,448.8 L205.9,449.2 L206.1,449.7 L206.3,450.1 L206.6,450.5 L206.9,451.0 L207.2,451.4 L207.5,451.8 L207.9,452.3 L208.3,452.7 L208.7,453.1 L209.2,453.6 L209.7,454.0 L210.2,454.4 L210.7,454.9 L211.2,455.3 L211.8,455.7 L212.3,456.2 L212.9,456.6 L213.4,457.0 L213.9,457.5 L214.4,457.9 L214.8,458.4 L215.2,458.8 L215.6,459.2 L215.9,459.7 L216.1,460.1 L216.3,460.5 L216.4,461.0 L216.4,461.4 L216.4,461.8 L216.3,462.3 L216.1,462.7 L215.9,463.2 L215.6,463.6 L215.2,464.1 L214.8,464.5 L214.4,464.9 L213.9,465.4 L213.4,465.8 L212.9,466.3 L212.3,466.7 L211.8,467.2 L211.2,467.6 L210.7,468.0 L210.2,468.5 L209.7,468.9 L209.2,469.4 L208.7,469.8 L208.3,470.2 L207.9,470.7 L207.5,471.1 L207.2,471.6 L206.9,472.0 L206.6,472.5 L206.3,472.9 L206.1,473.3 L205.9,473.8 L205.7,474.2 L205.6,474.7 L205.4,475.1 L205.3,475.6 L205.2,476.0 L205.2,476.4 L205.1,476.9 L205.0,477.3 L205.0,477.8 L205.0,478.2 L204.9,478.7 L204.9,479.1 L204.7,479.1 L204.7,478.7 L204.6,478.2 L204.6,477.8 L204.6,477.3 L204.5,476.9 L204.4,476.4 L204.4,476.0 L204.3,475.6 L204.2,475.1 L204.0,474.7 L203.9,474.2 L203.7,473.8 L203.5,473.3 L203.3,472.9 L203.0,472.5 L202.7,472.0 L202.4,471.6 L202.1,471.1 L201.7,470.7 L201.3,470.2 L200.9,469.8 L200.4,469.4 L199.9,468.9 L199.4,468.5 L198.9,468.0 L198.4,467.6 L197.8,467.2 L197.3,466.7 L196.7,466.3 L196.2,465.8 L195.7,465.4 L195.2,464.9 L194.8,464.5 L194.4,464.1 L194.0,463.6 L193.7,463.2 L193.5,462.7 L193.3,462.3 L193.2,461.8 L193.2,461.4 L193.2,461.0 L193.3,460.5 L193.5,460.1 L193.7,459.7 L194.0,459.2 L194.4,458.8 L194.8,458.4 L195.2,457.9 L195.7,457.5 L196.2,457.0 L196.7,456.6 L197.3,456.2 L197.8,455.7 L198.4,455.3 L198.9,454.9 L199.4,454.4 L199.9,454.0 L200.4,453.6 L200.9,453.1 L201.3,452.7 L201.7,452.3 L202.1,451.8 L202.4,451.4 L202.7,451.0 L203.0,450.5 L203.3,450.1 L203.5,449.7 L203.7,449.2 L203.9,448.8 L204.0,448.4 L204.2,447.9 L204.3,447.5 L204.4,447.0 L204.4,446.6 L204.5,446.2 L204.6,445.7 L204.6,445.3 L204.6,444.9 L204.7,444.4 L204.7,444.0 Z" fill="none" stroke="#000" stroke-width="1.4"/><line x1="193.20" y1="461.40" x2="216.40" y2="461.40" stroke="#262626" stroke-width="1.6"/>
<path d="M261.2,426.1 L261.2,426.5 L261.3,427.0 L261.3,427.4 L261.3,427.9 L261.4,428.3 L261.5,428.7 L261.5,429.2 L261.6,429.6 L261.7,430.1 L261.9,430.5 L262.0,430.9 L262.2,431.4 L262.4,431.8 L262.6,432.3 L262.9,432.7 L263.2,433.1 L263.5,433.6 L263.8,434.0 L264.2,434.5 L264.6,434.9 L265.0,435.3 L265.5,435.8 L266.0,436.2 L266.5,436.7 L267.0,437.1 L267.5,437.5 L268.1,438.0 L268.6,438.4 L269.2,438.9 L269.7,439.3 L270.2,439.7 L270.7,440.2 L271.1,440.6 L271.5,441.1 L271.9,441.5 L272.2,441.9 L272.4,442.4 L272.6,442.8 L272.7,443.3 L272.7,443.7 L272.7,444.1 L272.6,444.6 L272.4,445.0 L272.2,445.5 L271.9,445.9 L271.5,446.4 L271.1,446.8 L270.7,447.2 L270.2,447.7 L269.7,448.1 L269.2,448.6 L268.6,449.0 L268.1,449.5 L267.5,449.9 L267.0,450.3 L266.5,450.8 L266.0,451.2 L265.5,451.7 L265.0,452.1 L264.6,452.5 L264.2,453.0 L263.8,453.4 L263.5,453.9 L263.2,454.3 L262.9,454.8 L262.6,455.2 L262.4,455.6 L262.2,456.1 L262.0,456.5 L261.9,457.0 L261.7,457.4 L261.6,457.9 L261.5,458.3 L261.5,458.7 L261.4,459.2 L261.3,459.6 L261.3,460.1 L261.3,460.5 L261.2,461.0 L261.2,461.4 L261.0,461.4 L261.0,461.0 L260.9,460.5 L260.9,460.1 L260.9,459.6 L260.8,459.2 L260.7,458.7 L260.7,458.3 L260.6,457.9 L260.5,457.4 L260.3,457.0 L260.2,456.5 L260.0,456.1 L259.8,455.6 L259.6,455.2 L259.3,454.8 L259.0,454.3 L258.7,453.9 L258.4,453.4 L258.0,453.0 L257.6,452.5 L257.2,452.1 L256.7,451.7 L256.2,451.2 L255.7,450.8 L255.2,450.3 L254.7,449.9 L254.1,449.5 L253.6,449.0 L253.0,448.6 L252.5,448.1 L252.0,447.7 L251.5,447.2 L251.1,446.8 L250.7,446.4 L250.3,445.9 L250.0,445.5 L249.8,445.0 L249.6,444.6 L249.5,444.1 L249.5,443.7 L249.5,443.3 L249.6,442.8 L249.8,442.4 L250.0,441.9 L250.3,441.5 L250.7,441.1 L251.1,440.6 L251.5,440.2 L252.0,439.7 L252.5,439.3 L253.0,438.9 L253.6,438.4 L254.1,438.0 L254.7,437.5 L255.2,437.1 L255.7,436.7 L256.2,436.2 L256.7,435.8 L257.2,435.3 L257.6,434.9 L258.0,434.5 L258.4,434.0 L258.7,433.6 L259.0,433.1 L259.3,432.7 L259.6,432.3 L259.8,431.8 L260.0,431.4 L260.2,430.9 L260.3,430.5 L260.5,430.1 L260.6,429.6 L260.7,429.2 L260.7,428.7 L260.8,428.3 L260.9,427.9 L260.9,427.4 L260.9,427.0 L261.0,426.5 L261.0,426.1 Z" fill="none" stroke="#000" stroke-width="1.4"/><line x1="249.50" y1="443.70" x2="272.70" y2="443.70" stroke="#262626" stroke-width="1.6"/>
<path d="M93.0,683.4 L93.0,683.8 L93.0,684.2 L93.1,684.5 L93.1,684.9 L93.2,685.3 L93.2,685.7 L93.3,686.1 L93.4,686.5 L93.5,686.8 L93.7,687.2 L93.8,687.6 L94.0,688.0 L94.2,688.4 L94.4,688.8 L94.6,689.1 L94.9,689.5 L95.2,689.9 L95.5,690.3 L95.9,690.7 L96.3,691.0 L96.7,691.4 L97.1,691.8 L97.6,692.2 L98.1,692.6 L98.6,693.0 L99.1,693.3 L99.6,693.7 L100.2,694.1 L100.7,694.5 L101.2,694.9 L101.7,695.3 L102.1,695.6 L102.6,696.0 L103.0,696.4 L103.3,696.8 L103.6,697.2 L103.8,697.6 L104.0,697.9 L104.1,698.3 L104.1,698.7 L104.1,699.1 L104.0,699.4 L103.8,699.8 L103.6,700.2 L103.3,700.5 L103.0,700.9 L102.6,701.3 L102.1,701.6 L101.7,702.0 L101.2,702.4 L100.7,702.7 L100.2,703.1 L99.6,703.4 L99.1,703.8 L98.6,704.2 L98.1,704.5 L97.6,704.9 L97.1,705.3 L96.7,705.6 L96.3,706.0 L95.9,706.4 L95.5,706.7 L95.2,707.1 L94.9,707.5 L94.6,707.8 L94.4,708.2 L94.2,708.6 L94.0,708.9 L93.8,709.3 L93.7,709.6 L93.5,710.0 L93.4,710.4 L93.3,710.7 L93.2,711.1 L93.2,711.5 L93.1,711.8 L93.1,712.2 L93.0,712.6 L93.0,712.9 L93.0,713.3 L92.8,713.3 L92.8,712.9 L92.8,712.6 L92.7,712.2 L92.7,711.8 L92.6,711.5 L92.6,711.1 L92.5,710.7 L92.4,710.4 L92.3,710.0 L92.1,709.6 L92.0,709.3 L91.8,708.9 L91.6,708.6 L91.4,708.2 L91.2,707.8 L90.9,707.5 L90.6,707.1 L90.3,706.7 L89.9,706.4 L89.5,706.0 L89.1,705.6 L88.7,705.3 L88.2,704.9 L87.7,704.5 L87.2,704.2 L86.7,703.8 L86.2,703.4 L85.6,703.1 L85.1,702.7 L84.6,702.4 L84.1,702.0 L83.7,701.6 L83.2,701.3 L82.8,700.9 L82.5,700.5 L82.2,700.2 L82.0,699.8 L81.8,699.4 L81.7,699.1 L81.7,698.7 L81.7,698.3 L81.8,697.9 L82.0,697.6 L82.2,697.2 L82.5,696.8 L82.8,696.4 L83.2,696.0 L83.7,695.6 L84.1,695.3 L84.6,694.9 L85.1,694.5 L85.6,694.1 L86.2,693.7 L86.7,693.3 L87.2,693.0 L87.7,692.6 L88.2,692.2 L88.7,691.8 L89.1,691.4 L89.5,691.0 L89.9,690.7 L90.3,690.3 L90.6,689.9 L90.9,689.5 L91.2,689.1 L91.4,688.8 L91.6,688.4 L91.8,688.0 L92.0,687.6 L92.1,687.2 L92.3,686.8 L92.4,686.5 L92.5,686.1 L92.6,685.7 L92.6,685.3 L92.7,684.9 L92.7,684.5 L92.8,684.2 L92.8,683.8 L92.8,683.4 Z" fill="none" stroke="#000" stroke-width="1.4"/><line x1="81.70" y1="698.70" x2="104.10" y2="698.70" stroke="#262626" stroke-width="1.6"/>
<path d="M148.7,682.9 L148.7,683.3 L148.7,683.7 L148.8,684.1 L148.8,684.5 L148.9,684.9 L149.0,685.2 L149.0,685.6 L149.1,686.0 L149.2,686.4 L149.4,686.8 L149.5,687.2 L149.7,687.6 L149.9,688.0 L150.1,688.4 L150.3,688.8 L150.6,689.1 L150.9,689.5 L151.2,689.9 L151.6,690.3 L152.0,690.7 L152.4,691.1 L152.9,691.5 L153.3,691.9 L153.8,692.3 L154.3,692.6 L154.9,693.0 L155.4,693.4 L155.9,693.8 L156.5,694.2 L157.0,694.6 L157.5,695.0 L157.9,695.4 L158.4,695.8 L158.7,696.2 L159.1,696.5 L159.4,696.9 L159.6,697.3 L159.8,697.7 L159.9,698.1 L159.9,698.5 L159.9,698.9 L159.8,699.2 L159.6,699.6 L159.4,700.0 L159.1,700.4 L158.7,700.7 L158.4,701.1 L157.9,701.5 L157.5,701.8 L157.0,702.2 L156.5,702.6 L155.9,702.9 L155.4,703.3 L154.9,703.7 L154.3,704.0 L153.8,704.4 L153.3,704.8 L152.9,705.2 L152.4,705.5 L152.0,705.9 L151.6,706.3 L151.2,706.6 L150.9,707.0 L150.6,707.4 L150.3,707.8 L150.1,708.1 L149.9,708.5 L149.7,708.9 L149.5,709.2 L149.4,709.6 L149.2,710.0 L149.1,710.3 L149.0,710.7 L149.0,711.1 L148.9,711.4 L148.8,711.8 L148.8,712.2 L148.7,712.6 L148.7,712.9 L148.7,713.3 L148.5,713.3 L148.5,712.9 L148.5,712.6 L148.4,712.2 L148.4,711.8 L148.3,711.4 L148.2,711.1 L148.2,710.7 L148.1,710.3 L148.0,710.0 L147.8,709.6 L147.7,709.2 L147.5,708.9 L147.3,708.5 L147.1,708.1 L146.9,707.8 L146.6,707.4 L146.3,707.0 L146.0,706.6 L145.6,706.3 L145.2,705.9 L144.8,705.5 L144.3,705.2 L143.9,704.8 L143.4,704.4 L142.9,704.0 L142.3,703.7 L141.8,703.3 L141.3,702.9 L140.7,702.6 L140.2,702.2 L139.7,701.8 L139.3,701.5 L138.8,701.1 L138.5,700.7 L138.1,700.4 L137.8,700.0 L137.6,699.6 L137.4,699.2 L137.3,698.9 L137.3,698.5 L137.3,698.1 L137.4,697.7 L137.6,697.3 L137.8,696.9 L138.1,696.5 L138.5,696.2 L138.8,695.8 L139.3,695.4 L139.7,695.0 L140.2,694.6 L140.7,694.2 L141.3,693.8 L141.8,693.4 L142.3,693.0 L142.9,692.6 L143.4,692.3 L143.9,691.9 L144.3,691.5 L144.8,691.1 L145.2,690.7 L145.6,690.3 L146.0,689.9 L146.3,689.5 L146.6,689.1 L146.9,688.8 L147.1,688.4 L147.3,688.0 L147.5,687.6 L147.7,687.2 L147.8,686.8 L148.0,686.4 L148.1,686.0 L148.2,685.6 L148.2,685.2 L148.3,684.9 L148.4,684.5 L148.4,684.1 L148.5,683.7 L148.5,683.3 L148.5,682.9 Z" fill="none" stroke="#000" stroke-width="1.4"/><line x1="137.30" y1="698.50" x2="159.90" y2="698.50" stroke="#262626" stroke-width="1.6"/>
<path d="M203.7,673.2 L203.7,673.5 L203.8,673.9 L203.8,674.2 L203.8,674.6 L203.9,674.9 L204.0,675.2 L204.0,675.6 L204.1,675.9 L204.2,676.2 L204.4,676.6 L204.5,676.9 L204.7,677.2 L204.9,677.6 L205.1,677.9 L205.4,678.3 L205.6,678.6 L205.9,678.9 L206.3,679.3 L206.7,679.6 L207.1,680.0 L207.5,680.3 L207.9,680.6 L208.4,681.0 L208.9,681.3 L209.5,681.6 L210.0,682.0 L210.5,682.3 L211.1,682.7 L211.6,683.0 L212.1,683.3 L212.6,683.7 L213.1,684.0 L213.5,684.3 L213.9,684.7 L214.3,685.0 L214.6,685.4 L214.8,685.7 L215.0,686.0 L215.1,686.4 L215.1,686.7 L215.1,687.0 L215.0,687.4 L214.8,687.7 L214.6,688.1 L214.3,688.4 L213.9,688.7 L213.5,689.1 L213.1,689.4 L212.6,689.8 L212.1,690.1 L211.6,690.4 L211.1,690.8 L210.5,691.1 L210.0,691.5 L209.5,691.8 L208.9,692.1 L208.4,692.5 L207.9,692.8 L207.5,693.2 L207.1,693.5 L206.7,693.8 L206.3,694.2 L205.9,694.5 L205.6,694.9 L205.4,695.2 L205.1,695.5 L204.9,695.9 L204.7,696.2 L204.5,696.6 L204.4,696.9 L204.2,697.2 L204.1,697.6 L204.0,697.9 L204.0,698.3 L203.9,698.6 L203.8,698.9 L203.8,699.3 L203.8,699.6 L203.7,700.0 L203.7,700.3 L203.5,700.3 L203.5,700.0 L203.4,699.6 L203.4,699.3 L203.4,698.9 L203.3,698.6 L203.2,698.3 L203.2,697.9 L203.1,697.6 L203.0,697.2 L202.8,696.9 L202.7,696.6 L202.5,696.2 L202.3,695.9 L202.1,695.5 L201.8,695.2 L201.6,694.9 L201.3,694.5 L200.9,694.2 L200.5,693.8 L200.1,693.5 L199.7,693.2 L199.3,692.8 L198.8,692.5 L198.3,692.1 L197.7,691.8 L197.2,691.5 L196.7,691.1 L196.1,690.8 L195.6,690.4 L195.1,690.1 L194.6,689.8 L194.1,689.4 L193.7,689.1 L193.3,688.7 L192.9,688.4 L192.6,688.1 L192.4,687.7 L192.2,687.4 L192.1,687.0 L192.1,686.7 L192.1,686.4 L192.2,686.0 L192.4,685.7 L192.6,685.4 L192.9,685.0 L193.3,684.7 L193.7,684.3 L194.1,684.0 L194.6,683.7 L195.1,683.3 L195.6,683.0 L196.1,682.7 L196.7,682.3 L197.2,682.0 L197.7,681.6 L198.3,681.3 L198.8,681.0 L199.3,680.6 L199.7,680.3 L200.1,680.0 L200.5,679.6 L200.9,679.3 L201.3,678.9 L201.6,678.6 L201.8,678.3 L202.1,677.9 L202.3,677.6 L202.5,677.2 L202.7,676.9 L202.8,676.6 L203.0,676.2 L203.1,675.9 L203.2,675.6 L203.2,675.2 L203.3,674.9 L203.4,674.6 L203.4,674.2 L203.4,673.9 L203.5,673.5 L203.5,673.2 Z" fill="none" stroke="#000" stroke-width="1.4"/><line x1="192.10" y1="686.70" x2="215.10" y2="686.70" stroke="#262626" stroke-width="1.6"/>
<path d="M259.0,690.3 L259.0,690.6 L259.0,690.9 L259.1,691.1 L259.1,691.4 L259.2,691.7 L259.2,692.0 L259.3,692.3 L259.4,692.5 L259.5,692.8 L259.6,693.1 L259.8,693.4 L260.0,693.7 L260.1,693.9 L260.4,694.2 L260.6,694.5 L260.9,694.8 L261.2,695.1 L261.5,695.3 L261.9,695.6 L262.2,695.9 L262.7,696.2 L263.1,696.5 L263.6,696.7 L264.0,697.0 L264.5,697.3 L265.1,697.6 L265.6,697.9 L266.1,698.1 L266.6,698.4 L267.1,698.7 L267.6,699.0 L268.1,699.3 L268.5,699.5 L268.9,699.8 L269.2,700.1 L269.5,700.4 L269.7,700.7 L269.9,700.9 L270.0,701.2 L270.0,701.5 L270.0,701.8 L269.9,702.1 L269.7,702.4 L269.5,702.7 L269.2,703.0 L268.9,703.3 L268.5,703.7 L268.1,704.0 L267.6,704.3 L267.1,704.6 L266.6,704.9 L266.1,705.2 L265.6,705.5 L265.1,705.8 L264.5,706.1 L264.0,706.4 L263.6,706.7 L263.1,707.0 L262.7,707.3 L262.2,707.6 L261.9,708.0 L261.5,708.3 L261.2,708.6 L260.9,708.9 L260.6,709.2 L260.4,709.5 L260.1,709.8 L260.0,710.1 L259.8,710.4 L259.6,710.7 L259.5,711.0 L259.4,711.3 L259.3,711.6 L259.2,712.0 L259.2,712.3 L259.1,712.6 L259.1,712.9 L259.0,713.2 L259.0,713.5 L259.0,713.8 L258.8,713.8 L258.8,713.5 L258.8,713.2 L258.7,712.9 L258.7,712.6 L258.6,712.3 L258.6,712.0 L258.5,711.6 L258.4,711.3 L258.3,711.0 L258.2,710.7 L258.0,710.4 L257.8,710.1 L257.7,709.8 L257.4,709.5 L257.2,709.2 L256.9,708.9 L256.6,708.6 L256.3,708.3 L255.9,708.0 L255.6,707.6 L255.1,707.3 L254.7,707.0 L254.2,706.7 L253.8,706.4 L253.3,706.1 L252.7,705.8 L252.2,705.5 L251.7,705.2 L251.2,704.9 L250.7,704.6 L250.2,704.3 L249.7,704.0 L249.3,703.7 L248.9,703.3 L248.6,703.0 L248.3,702.7 L248.1,702.4 L247.9,702.1 L247.8,701.8 L247.8,701.5 L247.8,701.2 L247.9,700.9 L248.1,700.7 L248.3,700.4 L248.6,700.1 L248.9,699.8 L249.3,699.5 L249.7,699.3 L250.2,699.0 L250.7,698.7 L251.2,698.4 L251.7,698.1 L252.2,697.9 L252.7,697.6 L253.3,697.3 L253.8,697.0 L254.2,696.7 L254.7,696.5 L255.1,696.2 L255.6,695.9 L255.9,695.6 L256.3,695.3 L256.6,695.1 L256.9,694.8 L257.2,694.5 L257.4,694.2 L257.7,693.9 L257.8,693.7 L258.0,693.4 L258.2,693.1 L258.3,692.8 L258.4,692.5 L258.5,692.3 L258.6,692.0 L258.6,691.7 L258.7,691.4 L258.7,691.1 L258.8,690.9 L258.8,690.6 L258.8,690.3 Z" fill="none" stroke="#000" stroke-width="1.4"/><line x1="247.80" y1="701.50" x2="270.00" y2="701.50" stroke="#262626" stroke-width="1.6"/>
<path d="M431.8,689.9 L431.9,690.4 L431.9,690.9 L431.9,691.3 L432.0,691.8 L432.1,692.3 L432.2,692.8 L432.3,693.3 L432.4,693.8 L432.5,694.2 L432.7,694.7 L432.9,695.2 L433.1,695.7 L433.4,696.2 L433.6,696.7 L434.0,697.1 L434.3,697.6 L434.7,698.1 L435.2,698.6 L435.6,699.1 L436.2,699.5 L436.7,700.0 L437.3,700.5 L437.9,701.0 L438.6,701.5 L439.2,702.0 L439.9,702.4 L440.6,702.9 L441.3,703.4 L442.0,703.9 L442.7,704.4 L443.3,704.9 L443.9,705.3 L444.5,705.8 L445.0,706.3 L445.4,706.8 L445.8,707.3 L446.1,707.8 L446.3,708.2 L446.5,708.7 L446.5,709.2 L446.5,709.7 L446.3,710.2 L446.1,710.7 L445.8,711.1 L445.4,711.6 L445.0,712.1 L444.5,712.6 L443.9,713.1 L443.3,713.6 L442.7,714.1 L442.0,714.5 L441.3,715.0 L440.6,715.5 L439.9,716.0 L439.2,716.5 L438.6,717.0 L437.9,717.4 L437.3,717.9 L436.7,718.4 L436.2,718.9 L435.6,719.4 L435.2,719.9 L434.7,720.4 L434.3,720.8 L434.0,721.3 L433.6,721.8 L433.4,722.3 L433.1,722.8 L432.9,723.3 L432.7,723.8 L432.5,724.2 L432.4,724.7 L432.3,725.2 L432.2,725.7 L432.1,726.2 L432.0,726.7 L431.9,727.1 L431.9,727.6 L431.9,728.1 L431.8,728.6 L431.6,728.6 L431.5,728.1 L431.5,727.6 L431.5,727.1 L431.4,726.7 L431.3,726.2 L431.2,725.7 L431.1,725.2 L431.0,724.7 L430.9,724.2 L430.7,723.8 L430.5,723.3 L430.3,722.8 L430.0,722.3 L429.8,721.8 L429.4,721.3 L429.1,720.8 L428.7,720.4 L428.2,719.9 L427.8,719.4 L427.2,718.9 L426.7,718.4 L426.1,717.9 L425.5,717.4 L424.8,717.0 L424.2,716.5 L423.5,716.0 L422.8,715.5 L422.1,715.0 L421.4,714.5 L420.7,714.1 L420.1,713.6 L419.5,713.1 L418.9,712.6 L418.4,712.1 L418.0,711.6 L417.6,711.1 L417.3,710.7 L417.1,710.2 L416.9,709.7 L416.9,709.2 L416.9,708.7 L417.1,708.2 L417.3,707.8 L417.6,707.3 L418.0,706.8 L418.4,706.3 L418.9,705.8 L419.5,705.3 L420.1,704.9 L420.7,704.4 L421.4,703.9 L422.1,703.4 L422.8,702.9 L423.5,702.4 L424.2,702.0 L424.8,701.5 L425.5,701.0 L426.1,700.5 L426.7,700.0 L427.2,699.5 L427.8,699.1 L428.2,698.6 L428.7,698.1 L429.1,697.6 L429.4,697.1 L429.8,696.7 L430.0,696.2 L430.3,695.7 L430.5,695.2 L430.7,694.7 L430.9,694.2 L431.0,693.8 L431.1,693.3 L431.2,692.8 L431.3,692.3 L431.4,691.8 L431.5,691.3 L431.5,690.9 L431.5,690.4 L431.6,689.9 Z" fill="none" stroke="#000" stroke-width="1.4"/><line x1="416.90" y1="709.20" x2="446.50" y2="709.20" stroke="#262626" stroke-width="1.6"/>
<path d="M615.7,693.6 L615.8,694.0 L615.8,694.5 L615.8,694.9 L615.9,695.4 L616.0,695.8 L616.1,696.2 L616.2,696.7 L616.3,697.1 L616.4,697.6 L616.6,698.0 L616.8,698.4 L617.0,698.9 L617.3,699.3 L617.6,699.8 L617.9,700.2 L618.3,700.6 L618.7,701.1 L619.1,701.5 L619.6,702.0 L620.1,702.4 L620.7,702.8 L621.3,703.3 L621.9,703.7 L622.6,704.2 L623.2,704.6 L623.9,705.0 L624.6,705.5 L625.3,705.9 L626.0,706.4 L626.7,706.8 L627.4,707.2 L628.0,707.7 L628.5,708.1 L629.1,708.6 L629.5,709.0 L629.9,709.4 L630.2,709.9 L630.4,710.3 L630.6,710.8 L630.6,711.2 L630.6,711.7 L630.4,712.1 L630.2,712.6 L629.9,713.1 L629.5,713.6 L629.1,714.0 L628.5,714.5 L628.0,715.0 L627.4,715.5 L626.7,715.9 L626.0,716.4 L625.3,716.9 L624.6,717.3 L623.9,717.8 L623.2,718.3 L622.6,718.8 L621.9,719.2 L621.3,719.7 L620.7,720.2 L620.1,720.7 L619.6,721.1 L619.1,721.6 L618.7,722.1 L618.3,722.5 L617.9,723.0 L617.6,723.5 L617.3,724.0 L617.0,724.4 L616.8,724.9 L616.6,725.4 L616.4,725.8 L616.3,726.3 L616.2,726.8 L616.1,727.3 L616.0,727.7 L615.9,728.2 L615.8,728.7 L615.8,729.2 L615.8,729.6 L615.7,730.1 L615.5,730.1 L615.4,729.6 L615.4,729.2 L615.4,728.7 L615.3,728.2 L615.2,727.7 L615.1,727.3 L615.0,726.8 L614.9,726.3 L614.8,725.8 L614.6,725.4 L614.4,724.9 L614.2,724.4 L613.9,724.0 L613.6,723.5 L613.3,723.0 L612.9,722.5 L612.5,722.1 L612.1,721.6 L611.6,721.1 L611.1,720.7 L610.5,720.2 L609.9,719.7 L609.3,719.2 L608.6,718.8 L608.0,718.3 L607.3,717.8 L606.6,717.3 L605.9,716.9 L605.2,716.4 L604.5,715.9 L603.8,715.5 L603.2,715.0 L602.7,714.5 L602.1,714.0 L601.7,713.6 L601.3,713.1 L601.0,712.6 L600.8,712.1 L600.6,711.7 L600.6,711.2 L600.6,710.8 L600.8,710.3 L601.0,709.9 L601.3,709.4 L601.7,709.0 L602.1,708.6 L602.7,708.1 L603.2,707.7 L603.8,707.2 L604.5,706.8 L605.2,706.4 L605.9,705.9 L606.6,705.5 L607.3,705.0 L608.0,704.6 L608.6,704.2 L609.3,703.7 L609.9,703.3 L610.5,702.8 L611.1,702.4 L611.6,702.0 L612.1,701.5 L612.5,701.1 L612.9,700.6 L613.3,700.2 L613.6,699.8 L613.9,699.3 L614.2,698.9 L614.4,698.4 L614.6,698.0 L614.8,697.6 L614.9,697.1 L615.0,696.7 L615.1,696.2 L615.2,695.8 L615.3,695.4 L615.4,694.9 L615.4,694.5 L615.4,694.0 L615.5,693.6 Z" fill="none" stroke="#000" stroke-width="1.4"/><line x1="600.60" y1="711.20" x2="630.60" y2="711.20" stroke="#262626" stroke-width="1.6"/>
<path d="M107.4,989.9 L107.5,990.1 L107.5,990.4 L107.6,990.6 L107.6,990.9 L107.7,991.1 L107.8,991.4 L107.9,991.6 L108.0,991.8 L108.2,992.1 L108.4,992.3 L108.6,992.6 L108.8,992.8 L109.1,993.1 L109.4,993.3 L109.7,993.5 L110.1,993.8 L110.6,994.0 L111.0,994.3 L111.6,994.5 L112.1,994.8 L112.7,995.0 L113.3,995.2 L114.0,995.5 L114.7,995.7 L115.4,996.0 L116.2,996.2 L116.9,996.4 L117.7,996.7 L118.4,996.9 L119.1,997.2 L119.8,997.4 L120.5,997.7 L121.1,997.9 L121.7,998.1 L122.1,998.4 L122.5,998.6 L122.9,998.9 L123.1,999.1 L123.3,999.4 L123.3,999.6 L123.3,999.8 L123.1,1000.1 L122.9,1000.3 L122.5,1000.6 L122.1,1000.8 L121.7,1001.1 L121.1,1001.3 L120.5,1001.5 L119.8,1001.8 L119.1,1002.0 L118.4,1002.3 L117.7,1002.5 L116.9,1002.8 L116.2,1003.0 L115.4,1003.2 L114.7,1003.5 L114.0,1003.7 L113.3,1004.0 L112.7,1004.2 L112.1,1004.5 L111.6,1004.7 L111.0,1004.9 L110.6,1005.2 L110.1,1005.4 L109.7,1005.7 L109.4,1005.9 L109.1,1006.1 L108.8,1006.4 L108.6,1006.6 L108.4,1006.9 L108.2,1007.1 L108.0,1007.4 L107.9,1007.6 L107.8,1007.8 L107.7,1008.1 L107.6,1008.3 L107.6,1008.6 L107.5,1008.8 L107.5,1009.1 L107.4,1009.3 L107.2,1009.3 L107.1,1009.1 L107.1,1008.8 L107.0,1008.6 L107.0,1008.3 L106.9,1008.1 L106.8,1007.8 L106.7,1007.6 L106.6,1007.4 L106.4,1007.1 L106.2,1006.9 L106.0,1006.6 L105.8,1006.4 L105.5,1006.1 L105.2,1005.9 L104.9,1005.7 L104.5,1005.4 L104.0,1005.2 L103.6,1004.9 L103.0,1004.7 L102.5,1004.5 L101.9,1004.2 L101.3,1004.0 L100.6,1003.7 L99.9,1003.5 L99.2,1003.2 L98.4,1003.0 L97.7,1002.8 L96.9,1002.5 L96.2,1002.3 L95.5,1002.0 L94.8,1001.8 L94.1,1001.5 L93.5,1001.3 L92.9,1001.1 L92.5,1000.8 L92.1,1000.6 L91.7,1000.3 L91.5,1000.1 L91.3,999.8 L91.3,999.6 L91.3,999.4 L91.5,999.1 L91.7,998.9 L92.1,998.6 L92.5,998.4 L92.9,998.1 L93.5,997.9 L94.1,997.7 L94.8,997.4 L95.5,997.2 L96.2,996.9 L96.9,996.7 L97.7,996.4 L98.4,996.2 L99.2,996.0 L99.9,995.7 L100.6,995.5 L101.3,995.2 L101.9,995.0 L102.5,994.8 L103.0,994.5 L103.6,994.3 L104.0,994.0 L104.5,993.8 L104.9,993.5 L105.2,993.3 L105.5,993.1 L105.8,992.8 L106.0,992.6 L106.2,992.3 L106.4,992.1 L106.6,991.8 L106.7,991.6 L106.8,991.4 L106.9,991.1 L107.0,990.9 L107.0,990.6 L107.1,990.4 L107.1,990.1 L107.2,989.9 Z" fill="none" stroke="#000" stroke-width="1.4"/><line x1="91.30" y1="999.60" x2="123.30" y2="999.60" stroke="#262626" stroke-width="1.6"/>
<path d="M271.2,994.0 L271.3,994.6 L271.3,995.2 L271.4,995.8 L271.4,996.4 L271.5,997.0 L271.6,997.6 L271.7,998.2 L271.9,998.8 L272.0,999.4 L272.2,1000.0 L272.4,1000.6 L272.7,1001.2 L272.9,1001.8 L273.3,1002.4 L273.6,1003.0 L274.0,1003.6 L274.4,1004.2 L274.9,1004.8 L275.5,1005.4 L276.0,1006.0 L276.6,1006.6 L277.3,1007.2 L278.0,1007.8 L278.7,1008.4 L279.4,1009.0 L280.2,1009.6 L281.0,1010.2 L281.7,1010.8 L282.5,1011.4 L283.2,1012.0 L284.0,1012.6 L284.6,1013.2 L285.3,1013.8 L285.8,1014.4 L286.3,1015.0 L286.7,1015.6 L287.1,1016.2 L287.3,1016.8 L287.5,1017.4 L287.5,1018.0 L287.5,1018.6 L287.3,1019.2 L287.1,1019.8 L286.7,1020.4 L286.3,1021.0 L285.8,1021.6 L285.3,1022.1 L284.6,1022.7 L284.0,1023.3 L283.2,1023.9 L282.5,1024.5 L281.7,1025.1 L281.0,1025.7 L280.2,1026.3 L279.4,1026.9 L278.7,1027.5 L278.0,1028.1 L277.3,1028.7 L276.6,1029.3 L276.0,1029.8 L275.5,1030.4 L274.9,1031.0 L274.4,1031.6 L274.0,1032.2 L273.6,1032.8 L273.3,1033.4 L272.9,1034.0 L272.7,1034.6 L272.4,1035.2 L272.2,1035.8 L272.0,1036.4 L271.9,1037.0 L271.7,1037.6 L271.6,1038.1 L271.5,1038.7 L271.4,1039.3 L271.4,1039.9 L271.3,1040.5 L271.3,1041.1 L271.2,1041.7 L271.0,1041.7 L270.9,1041.1 L270.9,1040.5 L270.8,1039.9 L270.8,1039.3 L270.7,1038.7 L270.6,1038.1 L270.5,1037.6 L270.3,1037.0 L270.2,1036.4 L270.0,1035.8 L269.8,1035.2 L269.5,1034.6 L269.3,1034.0 L268.9,1033.4 L268.6,1032.8 L268.2,1032.2 L267.8,1031.6 L267.3,1031.0 L266.7,1030.4 L266.2,1029.8 L265.6,1029.3 L264.9,1028.7 L264.2,1028.1 L263.5,1027.5 L262.8,1026.9 L262.0,1026.3 L261.2,1025.7 L260.5,1025.1 L259.7,1024.5 L259.0,1023.9 L258.2,1023.3 L257.6,1022.7 L256.9,1022.1 L256.4,1021.6 L255.9,1021.0 L255.5,1020.4 L255.1,1019.8 L254.9,1019.2 L254.7,1018.6 L254.7,1018.0 L254.7,1017.4 L254.9,1016.8 L255.1,1016.2 L255.5,1015.6 L255.9,1015.0 L256.4,1014.4 L256.9,1013.8 L257.6,1013.2 L258.2,1012.6 L259.0,1012.0 L259.7,1011.4 L260.5,1010.8 L261.2,1010.2 L262.0,1009.6 L262.8,1009.0 L263.5,1008.4 L264.2,1007.8 L264.9,1007.2 L265.6,1006.6 L266.2,1006.0 L266.7,1005.4 L267.3,1004.8 L267.8,1004.2 L268.2,1003.6 L268.6,1003.0 L268.9,1002.4 L269.3,1001.8 L269.5,1001.2 L269.8,1000.6 L270.0,1000.0 L270.2,999.4 L270.3,998.8 L270.5,998.2 L270.6,997.6 L270.7,997.0 L270.8,996.4 L270.8,995.8 L270.9,995.2 L270.9,994.6 L271.0,994.0 Z" fill="none" stroke="#000" stroke-width="1.4"/><line x1="254.70" y1="1018.00" x2="287.50" y2="1018.00" stroke="#262626" stroke-width="1.6"/>
<path d="M425.8,1007.7 L425.9,1008.4 L425.9,1009.1 L426.0,1009.8 L426.0,1010.5 L426.1,1011.2 L426.2,1012.0 L426.3,1012.7 L426.4,1013.4 L426.6,1014.1 L426.8,1014.8 L427.0,1015.5 L427.2,1016.2 L427.5,1016.9 L427.8,1017.6 L428.2,1018.4 L428.6,1019.1 L429.0,1019.8 L429.5,1020.5 L430.0,1021.2 L430.6,1021.9 L431.2,1022.6 L431.8,1023.3 L432.5,1024.0 L433.2,1024.7 L433.9,1025.5 L434.7,1026.2 L435.5,1026.9 L436.2,1027.6 L437.0,1028.3 L437.7,1029.0 L438.4,1029.7 L439.1,1030.4 L439.7,1031.1 L440.2,1031.8 L440.7,1032.5 L441.1,1033.3 L441.5,1034.0 L441.7,1034.7 L441.9,1035.4 L441.9,1036.1 L441.9,1036.8 L441.7,1037.6 L441.5,1038.3 L441.1,1039.0 L440.7,1039.7 L440.2,1040.5 L439.7,1041.2 L439.1,1041.9 L438.4,1042.6 L437.7,1043.4 L437.0,1044.1 L436.2,1044.8 L435.5,1045.6 L434.7,1046.3 L433.9,1047.0 L433.2,1047.7 L432.5,1048.5 L431.8,1049.2 L431.2,1049.9 L430.6,1050.7 L430.0,1051.4 L429.5,1052.1 L429.0,1052.8 L428.6,1053.6 L428.2,1054.3 L427.8,1055.0 L427.5,1055.7 L427.2,1056.5 L427.0,1057.2 L426.8,1057.9 L426.6,1058.7 L426.4,1059.4 L426.3,1060.1 L426.2,1060.8 L426.1,1061.6 L426.0,1062.3 L426.0,1063.0 L425.9,1063.7 L425.9,1064.5 L425.8,1065.2 L425.6,1065.2 L425.5,1064.5 L425.5,1063.7 L425.4,1063.0 L425.4,1062.3 L425.3,1061.6 L425.2,1060.8 L425.1,1060.1 L425.0,1059.4 L424.8,1058.7 L424.6,1057.9 L424.4,1057.2 L424.2,1056.5 L423.9,1055.7 L423.6,1055.0 L423.2,1054.3 L422.8,1053.6 L422.4,1052.8 L421.9,1052.1 L421.4,1051.4 L420.8,1050.7 L420.2,1049.9 L419.6,1049.2 L418.9,1048.5 L418.2,1047.7 L417.5,1047.0 L416.7,1046.3 L415.9,1045.6 L415.2,1044.8 L414.4,1044.1 L413.7,1043.4 L413.0,1042.6 L412.3,1041.9 L411.7,1041.2 L411.2,1040.5 L410.7,1039.7 L410.3,1039.0 L409.9,1038.3 L409.7,1037.6 L409.5,1036.8 L409.5,1036.1 L409.5,1035.4 L409.7,1034.7 L409.9,1034.0 L410.3,1033.3 L410.7,1032.5 L411.2,1031.8 L411.7,1031.1 L412.3,1030.4 L413.0,1029.7 L413.7,1029.0 L414.4,1028.3 L415.2,1027.6 L415.9,1026.9 L416.7,1026.2 L417.5,1025.5 L418.2,1024.7 L418.9,1024.0 L419.6,1023.3 L420.2,1022.6 L420.8,1021.9 L421.4,1021.2 L421.9,1020.5 L422.4,1019.8 L422.8,1019.1 L423.2,1018.4 L423.6,1017.6 L423.9,1016.9 L424.2,1016.2 L424.4,1015.5 L424.6,1014.8 L424.8,1014.1 L425.0,1013.4 L425.1,1012.7 L425.2,1012.0 L425.3,1011.2 L425.4,1010.5 L425.4,1009.8 L425.5,1009.1 L425.5,1008.4 L425.6,1007.7 Z" fill="none" stroke="#000" stroke-width="1.4"/><line x1="409.50" y1="1036.10" x2="441.90" y2="1036.10" stroke="#262626" stroke-width="1.6"/>
<path d="M574.7,943.5 L574.8,944.3 L574.8,945.2 L574.9,946.0 L574.9,946.9 L575.0,947.7 L575.1,948.5 L575.2,949.4 L575.4,950.2 L575.5,951.1 L575.7,951.9 L575.9,952.7 L576.1,953.6 L576.4,954.4 L576.7,955.3 L577.1,956.1 L577.5,956.9 L577.9,957.8 L578.4,958.6 L578.9,959.5 L579.5,960.3 L580.1,961.1 L580.8,962.0 L581.4,962.8 L582.2,963.7 L582.9,964.5 L583.6,965.3 L584.4,966.2 L585.2,967.0 L585.9,967.9 L586.7,968.7 L587.4,969.5 L588.0,970.4 L588.7,971.2 L589.2,972.1 L589.7,972.9 L590.1,973.7 L590.5,974.6 L590.7,975.4 L590.9,976.3 L590.9,977.1 L590.9,977.9 L590.7,978.8 L590.5,979.6 L590.1,980.5 L589.7,981.3 L589.2,982.2 L588.7,983.0 L588.0,983.9 L587.4,984.7 L586.7,985.6 L585.9,986.4 L585.2,987.3 L584.4,988.1 L583.6,989.0 L582.9,989.8 L582.2,990.7 L581.4,991.5 L580.8,992.4 L580.1,993.2 L579.5,994.0 L578.9,994.9 L578.4,995.7 L577.9,996.6 L577.5,997.4 L577.1,998.3 L576.7,999.1 L576.4,1000.0 L576.1,1000.8 L575.9,1001.7 L575.7,1002.5 L575.5,1003.4 L575.4,1004.2 L575.2,1005.1 L575.1,1005.9 L575.0,1006.8 L574.9,1007.6 L574.9,1008.5 L574.8,1009.3 L574.8,1010.2 L574.7,1011.0 L574.5,1011.0 L574.4,1010.2 L574.4,1009.3 L574.3,1008.5 L574.3,1007.6 L574.2,1006.8 L574.1,1005.9 L574.0,1005.1 L573.8,1004.2 L573.7,1003.4 L573.5,1002.5 L573.3,1001.7 L573.1,1000.8 L572.8,1000.0 L572.5,999.1 L572.1,998.3 L571.7,997.4 L571.3,996.6 L570.8,995.7 L570.3,994.9 L569.7,994.0 L569.1,993.2 L568.4,992.4 L567.8,991.5 L567.0,990.7 L566.3,989.8 L565.6,989.0 L564.8,988.1 L564.0,987.3 L563.3,986.4 L562.5,985.6 L561.8,984.7 L561.2,983.9 L560.5,983.0 L560.0,982.2 L559.5,981.3 L559.1,980.5 L558.7,979.6 L558.5,978.8 L558.3,977.9 L558.3,977.1 L558.3,976.3 L558.5,975.4 L558.7,974.6 L559.1,973.7 L559.5,972.9 L560.0,972.1 L560.5,971.2 L561.2,970.4 L561.8,969.5 L562.5,968.7 L563.3,967.9 L564.0,967.0 L564.8,966.2 L565.6,965.3 L566.3,964.5 L567.0,963.7 L567.8,962.8 L568.4,962.0 L569.1,961.1 L569.7,960.3 L570.3,959.5 L570.8,958.6 L571.3,957.8 L571.7,956.9 L572.1,956.1 L572.5,955.3 L572.8,954.4 L573.1,953.6 L573.3,952.7 L573.5,951.9 L573.7,951.1 L573.8,950.2 L574.0,949.4 L574.1,948.5 L574.2,947.7 L574.3,946.9 L574.3,946.0 L574.4,945.2 L574.4,944.3 L574.5,943.5 Z" fill="none" stroke="#000" stroke-width="1.4"/><line x1="558.30" y1="977.10" x2="590.90" y2="977.10" stroke="#262626" stroke-width="1.6"/>
<path d="M53,34.5 L53,252.9 L291.6,252.9" fill="none" stroke="#111" stroke-width="1.3"/>
<line x1="49" y1="48.2" x2="53" y2="48.2" stroke="#111" stroke-width="1.2"/>
<text transform="translate(46.00,51.53) scale(1,1.05)" font-size="8.8" font-weight="bold" text-anchor="end">100</text>
<line x1="49" y1="97.5" x2="53" y2="97.5" stroke="#111" stroke-width="1.2"/>
<text transform="translate(46.00,100.83) scale(1,1.05)" font-size="8.8" font-weight="bold" text-anchor="end">10</text>
<line x1="49" y1="146.7" x2="53" y2="146.7" stroke="#111" stroke-width="1.2"/>
<text transform="translate(46.00,150.03) scale(1,1.05)" font-size="8.8" font-weight="bold" text-anchor="end">1</text>
<line x1="49" y1="196.2" x2="53" y2="196.2" stroke="#111" stroke-width="1.2"/>
<text transform="translate(46.00,199.53) scale(1,1.05)" font-size="8.8" font-weight="bold" text-anchor="end">0.1</text>
<line x1="49" y1="245.4" x2="53" y2="245.4" stroke="#111" stroke-width="1.2"/>
<text transform="translate(46.00,248.73) scale(1,1.05)" font-size="8.8" font-weight="bold" text-anchor="end">0.01</text>
<line x1="89.4" y1="252.9" x2="89.4" y2="256.9" stroke="#111" stroke-width="1.2"/>
<text transform="translate(88.00,267.60) scale(1,1.12)" font-size="8" font-weight="bold" text-anchor="middle">DK-A106T</text>
<line x1="144.8" y1="252.9" x2="144.8" y2="256.9" stroke="#111" stroke-width="1.2"/>
<text transform="translate(140.30,267.60) scale(1,1.12)" font-size="8" font-weight="bold" text-anchor="middle">DK-A1V</text>
<line x1="200" y1="252.9" x2="200" y2="256.9" stroke="#111" stroke-width="1.2"/>
<text transform="translate(199.20,267.60) scale(1,1.12)" font-size="8" font-weight="bold" text-anchor="middle">DK-V188A</text>
<line x1="255.2" y1="252.9" x2="255.2" y2="256.9" stroke="#111" stroke-width="1.2"/>
<text transform="translate(256.40,267.60) scale(1,1.12)" font-size="8" font-weight="bold" text-anchor="middle">DK-V872M</text>
<path d="M445.8,34.3 L445.8,252.7 L686,252.7" fill="none" stroke="#111" stroke-width="1.3"/>
<line x1="441.8" y1="86.1" x2="445.8" y2="86.1" stroke="#111" stroke-width="1.2"/>
<text transform="translate(438.80,89.43) scale(1,1.05)" font-size="8.8" font-weight="bold" text-anchor="end">10</text>
<line x1="441.8" y1="140.9" x2="445.8" y2="140.9" stroke="#111" stroke-width="1.2"/>
<text transform="translate(438.80,144.23) scale(1,1.05)" font-size="8.8" font-weight="bold" text-anchor="end">1</text>
<line x1="441.8" y1="195.8" x2="445.8" y2="195.8" stroke="#111" stroke-width="1.2"/>
<text transform="translate(438.80,199.13) scale(1,1.05)" font-size="8.8" font-weight="bold" text-anchor="end">0.1</text>
<line x1="441.8" y1="250.8" x2="445.8" y2="250.8" stroke="#111" stroke-width="1.2"/>
<text transform="translate(438.80,254.13) scale(1,1.05)" font-size="8.8" font-weight="bold" text-anchor="end">0.01</text>
<line x1="482.2" y1="252.7" x2="482.2" y2="256.7" stroke="#111" stroke-width="1.2"/>
<text transform="translate(482.50,267.20) scale(1,1.12)" font-size="8" font-weight="bold" text-anchor="middle">DK-A106T</text>
<line x1="537.4" y1="252.7" x2="537.4" y2="256.7" stroke="#111" stroke-width="1.2"/>
<text transform="translate(535.10,267.20) scale(1,1.12)" font-size="8" font-weight="bold" text-anchor="middle">DK-A1V</text>
<line x1="592.5" y1="252.7" x2="592.5" y2="256.7" stroke="#111" stroke-width="1.2"/>
<text transform="translate(594.10,267.20) scale(1,1.12)" font-size="8" font-weight="bold" text-anchor="middle">DK-V188A</text>
<line x1="647.7" y1="252.7" x2="647.7" y2="256.7" stroke="#111" stroke-width="1.2"/>
<text transform="translate(651.30,267.20) scale(1,1.12)" font-size="8" font-weight="bold" text-anchor="middle">DK-V872M</text>
<path d="M55.6,311.6 L55.6,533.4 L298.4,533.4" fill="none" stroke="#111" stroke-width="1.3"/>
<line x1="51.6" y1="331.1" x2="55.6" y2="331.1" stroke="#111" stroke-width="1.2"/>
<text transform="translate(48.60,334.43) scale(1,1.05)" font-size="8.8" font-weight="bold" text-anchor="end">100</text>
<line x1="51.6" y1="381.9" x2="55.6" y2="381.9" stroke="#111" stroke-width="1.2"/>
<text transform="translate(48.60,385.23) scale(1,1.05)" font-size="8.8" font-weight="bold" text-anchor="end">10</text>
<line x1="51.6" y1="432.9" x2="55.6" y2="432.9" stroke="#111" stroke-width="1.2"/>
<text transform="translate(48.60,436.23) scale(1,1.05)" font-size="8.8" font-weight="bold" text-anchor="end">1</text>
<line x1="51.6" y1="484" x2="55.6" y2="484" stroke="#111" stroke-width="1.2"/>
<text transform="translate(48.60,487.33) scale(1,1.05)" font-size="8.8" font-weight="bold" text-anchor="end">0.1</text>
<line x1="92.6" y1="533.4" x2="92.6" y2="537.4" stroke="#111" stroke-width="1.2"/>
<text transform="translate(92.90,547.50) scale(1,1.12)" font-size="8" font-weight="bold" text-anchor="middle">DK-A106T</text>
<line x1="148.7" y1="533.4" x2="148.7" y2="537.4" stroke="#111" stroke-width="1.2"/>
<text transform="translate(145.80,547.50) scale(1,1.12)" font-size="8" font-weight="bold" text-anchor="middle">DK-A1V</text>
<line x1="204.7" y1="533.4" x2="204.7" y2="537.4" stroke="#111" stroke-width="1.2"/>
<text transform="translate(205.20,547.50) scale(1,1.12)" font-size="8" font-weight="bold" text-anchor="middle">DK-V188A</text>
<line x1="261" y1="533.4" x2="261" y2="537.4" stroke="#111" stroke-width="1.2"/>
<text transform="translate(262.60,547.50) scale(1,1.12)" font-size="8" font-weight="bold" text-anchor="middle">DK-V872M</text>
<path d="M56.8,595.8 L56.8,813.9 L296,813.9" fill="none" stroke="#111" stroke-width="1.3"/>
<line x1="52.8" y1="647.6" x2="56.8" y2="647.6" stroke="#111" stroke-width="1.2"/>
<text transform="translate(49.80,650.93) scale(1,1.05)" font-size="8.8" font-weight="bold" text-anchor="end">10</text>
<line x1="52.8" y1="701.4" x2="56.8" y2="701.4" stroke="#111" stroke-width="1.2"/>
<text transform="translate(49.80,704.73) scale(1,1.05)" font-size="8.8" font-weight="bold" text-anchor="end">1</text>
<line x1="52.8" y1="755.4" x2="56.8" y2="755.4" stroke="#111" stroke-width="1.2"/>
<text transform="translate(49.80,758.73) scale(1,1.05)" font-size="8.8" font-weight="bold" text-anchor="end">0.1</text>
<line x1="52.8" y1="809.4" x2="56.8" y2="809.4" stroke="#111" stroke-width="1.2"/>
<text transform="translate(49.80,812.73) scale(1,1.05)" font-size="8.8" font-weight="bold" text-anchor="end">0.01</text>
<line x1="92.9" y1="813.9" x2="92.9" y2="817.9" stroke="#111" stroke-width="1.2"/>
<text transform="translate(91.90,829.00) scale(1,1.12)" font-size="8" font-weight="bold" text-anchor="middle">FSS-T106A</text>
<line x1="148.5" y1="813.9" x2="148.5" y2="817.9" stroke="#111" stroke-width="1.2"/>
<text transform="translate(148.10,829.00) scale(1,1.12)" font-size="8" font-weight="bold" text-anchor="middle">FSS-V1A</text>
<line x1="204" y1="813.9" x2="204" y2="817.9" stroke="#111" stroke-width="1.2"/>
<text transform="translate(205.10,829.00) scale(1,1.12)" font-size="8" font-weight="bold" text-anchor="middle">FSS-A188V</text>
<line x1="259.6" y1="813.9" x2="259.6" y2="817.9" stroke="#111" stroke-width="1.2"/>
<text transform="translate(261.70,829.00) scale(1,1.12)" font-size="8" font-weight="bold" text-anchor="middle">FSS-M872V</text>
<path d="M392.4,583.4 L392.4,812.8 L471.9,812.8" fill="none" stroke="#111" stroke-width="1.3"/>
<line x1="388.4" y1="639.4" x2="392.4" y2="639.4" stroke="#111" stroke-width="1.2"/>
<text transform="translate(385.40,642.80) scale(1,1.05)" font-size="9" font-weight="bold" text-anchor="end">10</text>
<line x1="388.4" y1="742.5" x2="392.4" y2="742.5" stroke="#111" stroke-width="1.2"/>
<text transform="translate(385.40,745.90) scale(1,1.05)" font-size="9" font-weight="bold" text-anchor="end">1</text>
<line x1="431.4" y1="812.8" x2="431.4" y2="816.8" stroke="#111" stroke-width="1.2"/>
<text transform="translate(431.70,829.40) scale(1,1.12)" font-size="8.3" font-weight="bold" text-anchor="middle">FSS-A188V</text>
<path d="M575.6,585.6 L575.6,816.5 L655.3,816.5" fill="none" stroke="#111" stroke-width="1.3"/>
<line x1="571.6" y1="594.3" x2="575.6" y2="594.3" stroke="#111" stroke-width="1.2"/>
<text transform="translate(568.60,597.70) scale(1,1.05)" font-size="9" font-weight="bold" text-anchor="end">10</text>
<line x1="571.6" y1="737.4" x2="575.6" y2="737.4" stroke="#111" stroke-width="1.2"/>
<text transform="translate(568.60,740.80) scale(1,1.05)" font-size="9" font-weight="bold" text-anchor="end">1</text>
<line x1="615.6" y1="816.5" x2="615.6" y2="820.5" stroke="#111" stroke-width="1.2"/>
<text transform="translate(617.20,829.40) scale(1,1.12)" font-size="8.5" font-weight="bold" text-anchor="middle">FSS-A188V</text>
<path d="M64.7,871.8 L64.7,1119.8 L150,1119.8" fill="none" stroke="#111" stroke-width="1.3"/>
<line x1="60.7" y1="958.3" x2="64.7" y2="958.3" stroke="#111" stroke-width="1.2"/>
<text transform="translate(57.70,961.89) scale(1,1.05)" font-size="9.5" font-weight="bold" text-anchor="end">1</text>
<line x1="60.7" y1="1110.9" x2="64.7" y2="1110.9" stroke="#111" stroke-width="1.2"/>
<text transform="translate(57.70,1114.49) scale(1,1.05)" font-size="9.5" font-weight="bold" text-anchor="end">0.1</text>
<line x1="107.3" y1="1119.8" x2="107.3" y2="1123.8" stroke="#111" stroke-width="1.2"/>
<text transform="translate(108.10,1135.50) scale(1,1.12)" font-size="9" font-weight="bold" text-anchor="middle">DK-V188A</text>
<path d="M228.1,871.8 L228.1,1120.2 L313.8,1120.2" fill="none" stroke="#111" stroke-width="1.3"/>
<line x1="224.1" y1="882" x2="228.1" y2="882" stroke="#111" stroke-width="1.2"/>
<text transform="translate(221.10,885.59) scale(1,1.05)" font-size="9.5" font-weight="bold" text-anchor="end">10</text>
<line x1="224.1" y1="1034.6" x2="228.1" y2="1034.6" stroke="#111" stroke-width="1.2"/>
<text transform="translate(221.10,1038.19) scale(1,1.05)" font-size="9.5" font-weight="bold" text-anchor="end">1</text>
<line x1="271.1" y1="1120.2" x2="271.1" y2="1124.2" stroke="#111" stroke-width="1.2"/>
<text transform="translate(271.60,1135.50) scale(1,1.12)" font-size="9.1" font-weight="bold" text-anchor="middle">FSS-A188V</text>
<path d="M383.6,873.1 L383.6,1120.2 L468.7,1120.2" fill="none" stroke="#111" stroke-width="1.3"/>
<line x1="379.6" y1="882.8" x2="383.6" y2="882.8" stroke="#111" stroke-width="1.2"/>
<text transform="translate(376.60,886.39) scale(1,1.05)" font-size="9.5" font-weight="bold" text-anchor="end">10</text>
<line x1="379.6" y1="959" x2="383.6" y2="959" stroke="#111" stroke-width="1.2"/>
<text transform="translate(376.60,962.59) scale(1,1.05)" font-size="9.5" font-weight="bold" text-anchor="end">1</text>
<line x1="379.6" y1="1035.3" x2="383.6" y2="1035.3" stroke="#111" stroke-width="1.2"/>
<text transform="translate(376.60,1038.89) scale(1,1.05)" font-size="9.5" font-weight="bold" text-anchor="end">0.1</text>
<line x1="379.6" y1="1111.5" x2="383.6" y2="1111.5" stroke="#111" stroke-width="1.2"/>
<text transform="translate(376.60,1115.09) scale(1,1.05)" font-size="9.5" font-weight="bold" text-anchor="end">0.01</text>
<line x1="425.7" y1="1120.2" x2="425.7" y2="1124.2" stroke="#111" stroke-width="1.2"/>
<text transform="translate(423.70,1135.50) scale(1,1.12)" font-size="9" font-weight="bold" text-anchor="middle">DK-V188A</text>
<path d="M531.3,872.6 L531.3,1120.8 L618,1120.8" fill="none" stroke="#111" stroke-width="1.3"/>
<line x1="527.3" y1="882.6" x2="531.3" y2="882.6" stroke="#111" stroke-width="1.2"/>
<text transform="translate(524.30,886.19) scale(1,1.05)" font-size="9.5" font-weight="bold" text-anchor="end">10</text>
<line x1="527.3" y1="1034.9" x2="531.3" y2="1034.9" stroke="#111" stroke-width="1.2"/>
<text transform="translate(524.30,1038.49) scale(1,1.05)" font-size="9.5" font-weight="bold" text-anchor="end">1</text>
<line x1="574.6" y1="1120.8" x2="574.6" y2="1124.8" stroke="#111" stroke-width="1.2"/>
<text transform="translate(575.20,1135.50) scale(1,1.12)" font-size="9.1" font-weight="bold" text-anchor="middle">FSS-A188V</text>
<text transform="translate(170.10,8.70) scale(1,1.0)" font-size="10.3" font-weight="bold" font-style="italic" text-anchor="middle">Body</text>
<text transform="translate(91.00,23.50) scale(1,1.0)" font-size="9" font-weight="bold" font-style="italic" text-anchor="middle">n=46</text>
<text transform="translate(148.80,23.50) scale(1,1.0)" font-size="9" font-weight="bold" font-style="italic" text-anchor="middle">n=50</text>
<text transform="translate(204.70,23.50) scale(1,1.0)" font-size="9" font-weight="bold" font-style="italic" text-anchor="middle">n=39</text>
<text transform="translate(259.30,23.50) scale(1,1.0)" font-size="9" font-weight="bold" font-style="italic" text-anchor="middle">n=55</text>
<text transform="translate(92.70,34.70) scale(1,1.12)" font-size="8.8" font-weight="bold" text-anchor="middle">P=0.0001</text>
<text transform="translate(148.40,34.70) scale(1,1.12)" font-size="8.8" font-weight="bold" text-anchor="middle">P=0.3892</text>
<text transform="translate(206.00,34.70) scale(1,1.12)" font-size="8.8" font-weight="bold" text-anchor="middle">P=0.0005</text>
<text transform="translate(258.60,34.70) scale(1,1.12)" font-size="8.8" font-weight="bold" text-anchor="middle">P=0.0903</text>
<text transform="translate(564.00,7.50) scale(1,1.0)" font-size="10.3" font-weight="bold" font-style="italic" text-anchor="middle">Legs</text>
<text transform="translate(485.70,22.50) scale(1,1.0)" font-size="9" font-weight="bold" font-style="italic" text-anchor="middle">n=31</text>
<text transform="translate(540.80,22.50) scale(1,1.0)" font-size="9" font-weight="bold" font-style="italic" text-anchor="middle">n=31</text>
<text transform="translate(594.90,22.50) scale(1,1.0)" font-size="9" font-weight="bold" font-style="italic" text-anchor="middle">n=31</text>
<text transform="translate(650.70,22.50) scale(1,1.0)" font-size="9" font-weight="bold" font-style="italic" text-anchor="middle">n=30</text>
<text transform="translate(488.90,33.50) scale(1,1.12)" font-size="8.8" font-weight="bold" text-anchor="middle">P=0.0008</text>
<text transform="translate(540.80,33.50) scale(1,1.12)" font-size="8.8" font-weight="bold" text-anchor="middle">P=0.9299</text>
<text transform="translate(596.10,33.50) scale(1,1.12)" font-size="8.8" font-weight="bold" text-anchor="middle">P&lt;0.0001</text>
<text transform="translate(650.50,33.50) scale(1,1.12)" font-size="8.8" font-weight="bold" text-anchor="middle">P=0.0817</text>
<text transform="translate(177.80,287.90) scale(1,1.0)" font-size="10.5" font-weight="bold" font-style="italic" text-anchor="middle">Saliva</text>
<text transform="translate(96.60,301.80) scale(1,1.0)" font-size="9" font-weight="bold" font-style="italic" text-anchor="middle">n=34</text>
<text transform="translate(147.00,301.80) scale(1,1.0)" font-size="9" font-weight="bold" font-style="italic" text-anchor="middle">n=41</text>
<text transform="translate(206.60,301.80) scale(1,1.0)" font-size="9" font-weight="bold" font-style="italic" text-anchor="middle">n=39</text>
<text transform="translate(261.50,301.80) scale(1,1.0)" font-size="9" font-weight="bold" font-style="italic" text-anchor="middle">n=50</text>
<text transform="translate(97.00,313.00) scale(1,1.12)" font-size="8.8" font-weight="bold" text-anchor="middle">P&lt;0.0001</text>
<text transform="translate(146.50,313.00) scale(1,1.12)" font-size="8.8" font-weight="bold" text-anchor="middle">P=0.1112</text>
<text transform="translate(207.90,313.00) scale(1,1.12)" font-size="8.8" font-weight="bold" text-anchor="middle">P&lt;0.0001</text>
<text transform="translate(261.00,313.00) scale(1,1.12)" font-size="8.8" font-weight="bold" text-anchor="middle">P=0.0607</text>
<text transform="translate(170.80,567.80) scale(1,1.0)" font-size="10.3" font-weight="bold" font-style="italic" text-anchor="middle">Body</text>
<text transform="translate(91.40,582.50) scale(1,1.0)" font-size="9" font-weight="bold" font-style="italic" text-anchor="middle">n=34</text>
<text transform="translate(149.00,582.50) scale(1,1.0)" font-size="9" font-weight="bold" font-style="italic" text-anchor="middle">n=31</text>
<text transform="translate(204.40,582.50) scale(1,1.0)" font-size="9" font-weight="bold" font-style="italic" text-anchor="middle">n=33</text>
<text transform="translate(259.80,582.50) scale(1,1.0)" font-size="9" font-weight="bold" font-style="italic" text-anchor="middle">n=32</text>
<text transform="translate(94.40,593.60) scale(1,1.12)" font-size="8.8" font-weight="bold" text-anchor="middle">P=0.5836</text>
<text transform="translate(148.50,593.60) scale(1,1.12)" font-size="8.8" font-weight="bold" text-anchor="middle">P=0.4730</text>
<text transform="translate(206.00,593.60) scale(1,1.12)" font-size="8.8" font-weight="bold" text-anchor="middle">P=0.0011</text>
<text transform="translate(259.30,593.60) scale(1,1.12)" font-size="8.8" font-weight="bold" text-anchor="middle">P=0.9071</text>
<text transform="translate(429.00,566.90) scale(1,1.0)" font-size="10.3" font-weight="bold" font-style="italic" text-anchor="middle">Legs</text>
<text transform="translate(432.40,578.60) scale(1,1.12)" font-size="9.2" font-weight="bold" font-style="italic" text-anchor="middle">n=31</text>
<text transform="translate(434.60,588.90) scale(1,1.12)" font-size="9.3" font-weight="bold" text-anchor="middle">P&lt;0.0001</text>
<text transform="translate(617.40,567.20) scale(1,1.0)" font-size="10.6" font-weight="bold" font-style="italic" text-anchor="middle">Saliva</text>
<text transform="translate(616.10,591.00) scale(1,1.0)" font-size="9.2" font-weight="bold" font-style="italic" text-anchor="middle">n=24</text>
<text transform="translate(619.90,603.20) scale(1,1.12)" font-size="9.3" font-weight="bold" text-anchor="middle">P&lt;0.0001</text>
<text transform="translate(107.30,881.00) scale(1,1.0)" font-size="10" font-weight="bold" font-style="italic" text-anchor="middle">n=6</text>
<text transform="translate(111.20,893.00) scale(1,1.12)" font-size="10" font-weight="bold" text-anchor="middle">P&lt;0.0001</text>
<text transform="translate(270.50,881.00) scale(1,1.0)" font-size="10" font-weight="bold" font-style="italic" text-anchor="middle">n=6</text>
<text transform="translate(274.90,893.00) scale(1,1.12)" font-size="10" font-weight="bold" text-anchor="middle">P=0.0572</text>
<text transform="translate(422.30,881.00) scale(1,1.0)" font-size="10" font-weight="bold" font-style="italic" text-anchor="middle">n=20</text>
<text transform="translate(426.00,893.00) scale(1,1.12)" font-size="10" font-weight="bold" text-anchor="middle">P&lt;0.0001</text>
<text transform="translate(574.90,860.00) scale(1,1.0)" font-size="10" font-weight="bold" font-style="italic" text-anchor="middle">n=24</text>
<text transform="translate(577.60,872.60) scale(1,1.12)" font-size="10" font-weight="bold" text-anchor="middle">P&lt;0.0001</text>
<text transform="translate(29.2,126.1) rotate(-90) scale(1,1.05)" font-size="9.0" font-weight="bold" text-anchor="middle">Relative Replicative Fitness</text>
<text transform="translate(423.3,124.5) rotate(-90) scale(1,1.05)" font-size="9.0" font-weight="bold" text-anchor="middle">Relative Replicative Fitness</text>
<text transform="translate(33.7,405.5) rotate(-90) scale(1,1.05)" font-size="9.1" font-weight="bold" text-anchor="middle">Relative Replicative Fitness</text>
<text transform="translate(34.3,685.8) rotate(-90) scale(1,1.05)" font-size="9.2" font-weight="bold" text-anchor="middle">Relative Replicative Fitness</text>
<text transform="translate(366.3,687.9) rotate(-90) scale(1,1.05)" font-size="9.5" font-weight="bold" text-anchor="middle">Relative Replicative Fitness</text>
<text transform="translate(551.1,687.6) rotate(-90) scale(1,1.05)" font-size="9.5" font-weight="bold" text-anchor="middle">Relative Replicative Fitness</text>
<text transform="translate(37.8,982.4) rotate(-90) scale(1,1.05)" font-size="10.2" font-weight="bold" text-anchor="middle">Relative Replicative Fitness</text>
<text transform="translate(201.0,982.4) rotate(-90) scale(1,1.05)" font-size="10.2" font-weight="bold" text-anchor="middle">Relative Replicative Fitness</text>
<text transform="translate(352.4,982.4) rotate(-90) scale(1,1.05)" font-size="10.2" font-weight="bold" text-anchor="middle">Relative Replicative Fitness</text>
<text transform="translate(503.5,967.7) rotate(-90) scale(1,1.05)" font-size="10.2" font-weight="bold" text-anchor="middle">Relative Replicative Fitness</text>
<text transform="translate(2.95,27.14) scale(0.2660,0.3055)" font-size="100" font-weight="bold">a</text>
<text transform="translate(392.96,25.25) scale(0.3208,0.2993)" font-size="100" font-weight="bold">b</text>
<text transform="translate(2.74,302.14) scale(0.2515,0.3127)" font-size="100" font-weight="bold">c</text>
<text transform="translate(-2.56,577.33) scale(0.3267,0.3184)" font-size="100" font-weight="bold">d</text>
<text transform="translate(338.72,579.74) scale(0.3083,0.3109)" font-size="100" font-weight="bold">e</text>
<text transform="translate(518.66,578.45) scale(0.3250,0.3255)" font-size="100" font-weight="bold">f</text>
<path fill="#000" fill-rule="evenodd" d="M3.9,854.5 A6.3,5.75 0 1 0 16.5,854.5 A6.3,5.75 0 1 0 3.9,854.5 Z M7.3,855 A2.9,2.7 0 1 0 13.1,855 A2.9,2.7 0 1 0 7.3,855 Z"/>
<path fill="#000" d="M12.6,849.1 L18.2,849.1 Q18.7,849.1 18.7,849.8 L18.7,851.6 Q18.7,852.4 18.0,852.4 L13.5,852.4 Z"/>
<path fill="#000" d="M5.0,857.8 Q3.2,859.6 4.2,861.6 Q5.0,863.2 8.0,863.3 L9.5,863.3 L9.5,860.6 L8.0,860.6 Q6.9,860.4 7.6,859.2 Z"/>
<path fill="#000" fill-rule="evenodd" d="M2.6,867.6 A7.9,4.5 0 1 0 18.4,867.6 A7.9,4.5 0 1 0 2.6,867.6 Z M6.8,867.4 A3.8,1.8 0 1 0 14.4,867.4 A3.8,1.8 0 1 0 6.8,867.4 Z"/>
<text transform="translate(170.76,865.65) scale(0.2979,0.3186)" font-size="100" font-weight="bold">h</text>
<text transform="translate(335.86,865.75) scale(0.3704,0.3117)" font-size="100" font-weight="bold">i</text>
<text transform="translate(493.09,865.54) scale(0.3591,0.3102)" font-size="100" font-weight="bold">j</text>
<rect x="388.6" y="396.5" width="40.4" height="18" fill="#ff0000"/>
<rect x="388.6" y="422.1" width="40.4" height="18" fill="#0000ff"/>
<text transform="translate(436.50,411.60) scale(1,1.08)" font-size="14.6" font-weight="bold">DK (African lineage)</text>
<text transform="translate(436.50,437.60) scale(1,1.08)" font-size="14.6" font-weight="bold">FSS (Pre-epidemic Asian lineage)</text>
</svg></body></html>
